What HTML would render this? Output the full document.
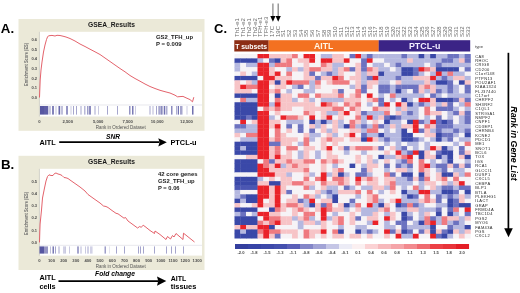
<!DOCTYPE html><html><head><meta charset="utf-8"><title>GSEA TFH figure</title>
<style>html,body{margin:0;padding:0;background:#fff;}svg{display:block;filter:blur(0.45px);}text{font-family:"Liberation Sans", sans-serif;}</style></head><body>
<svg width="520" height="293" viewBox="0 0 520 293">
<rect x="0" y="0" width="520" height="293" fill="#ffffff"/>
<text x="0.8" y="33.2" font-size="13.3" font-weight="bold" font-style="normal" fill="#000" text-anchor="start">A.</text>
<text x="1.0" y="169.4" font-size="13.3" font-weight="bold" font-style="normal" fill="#000" text-anchor="start">B.</text>
<text x="214.0" y="33.1" font-size="13" font-weight="bold" font-style="normal" fill="#000" text-anchor="start">C.</text>
<rect x="18.5" y="19" width="186" height="111.80000000000001" fill="#ebe9d8"/>
<rect x="39.5" y="31.8" width="162.5" height="84.7" fill="#ffffff"/>
<line x1="39.4" y1="31.8" x2="39.4" y2="116.5" stroke="#b0b0a8" stroke-width="0.5"/>
<text x="111.5" y="26.5" font-size="7" font-weight="bold" font-style="normal" fill="#1a1a1a" text-anchor="middle" textLength="47" lengthAdjust="spacingAndGlyphs">GSEA_Results</text>
<text x="34.3" y="40.8" font-size="4.2" font-weight="bold" font-style="normal" fill="#4a4a4a" text-anchor="middle" textLength="5.6" lengthAdjust="spacingAndGlyphs">0.6</text>
<text x="34.3" y="50.5" font-size="4.2" font-weight="bold" font-style="normal" fill="#4a4a4a" text-anchor="middle" textLength="5.6" lengthAdjust="spacingAndGlyphs">0.5</text>
<text x="34.3" y="60.2" font-size="4.2" font-weight="bold" font-style="normal" fill="#4a4a4a" text-anchor="middle" textLength="5.6" lengthAdjust="spacingAndGlyphs">0.4</text>
<text x="34.3" y="69.9" font-size="4.2" font-weight="bold" font-style="normal" fill="#4a4a4a" text-anchor="middle" textLength="5.6" lengthAdjust="spacingAndGlyphs">0.3</text>
<text x="34.3" y="79.6" font-size="4.2" font-weight="bold" font-style="normal" fill="#4a4a4a" text-anchor="middle" textLength="5.6" lengthAdjust="spacingAndGlyphs">0.2</text>
<text x="34.3" y="89.3" font-size="4.2" font-weight="bold" font-style="normal" fill="#4a4a4a" text-anchor="middle" textLength="5.6" lengthAdjust="spacingAndGlyphs">0.1</text>
<text x="34.3" y="99.0" font-size="4.2" font-weight="bold" font-style="normal" fill="#4a4a4a" text-anchor="middle" textLength="5.6" lengthAdjust="spacingAndGlyphs">0.0</text>
<text transform="translate(27.8,64.5) rotate(-90)" x="0" y="0" font-size="4.6" font-weight="bold" fill="#6a6a6a" text-anchor="middle" textLength="43" lengthAdjust="spacingAndGlyphs">Enrichment Score (ES)</text>
<text x="39.4" y="122.9" font-size="4.2" font-weight="bold" font-style="normal" fill="#4a4a4a" text-anchor="middle">0</text>
<text x="67.8" y="122.9" font-size="4.2" font-weight="bold" font-style="normal" fill="#4a4a4a" text-anchor="middle">2,500</text>
<text x="98.2" y="122.9" font-size="4.2" font-weight="bold" font-style="normal" fill="#4a4a4a" text-anchor="middle">5,000</text>
<text x="127.7" y="122.9" font-size="4.2" font-weight="bold" font-style="normal" fill="#4a4a4a" text-anchor="middle">7,500</text>
<text x="157.2" y="122.9" font-size="4.2" font-weight="bold" font-style="normal" fill="#4a4a4a" text-anchor="middle">10,000</text>
<text x="186.5" y="122.9" font-size="4.2" font-weight="bold" font-style="normal" fill="#4a4a4a" text-anchor="middle">12,500</text>
<text x="120.7" y="128.6" font-size="4.6" font-weight="normal" font-style="normal" fill="#555" text-anchor="middle" textLength="50" lengthAdjust="spacingAndGlyphs">Rank in Ordered Dataset</text>
<text x="156" y="38.9" font-size="5.6" font-weight="bold" font-style="normal" fill="#1a1a1a" text-anchor="start" textLength="37" lengthAdjust="spacingAndGlyphs">GS2_TFH_up</text>
<text x="156" y="46.0" font-size="5.6" font-weight="bold" font-style="normal" fill="#1a1a1a" text-anchor="start" textLength="25.5" lengthAdjust="spacingAndGlyphs">P = 0.009</text>
<line x1="39.5" y1="105" x2="202" y2="105" stroke="#d8d8e0" stroke-width="0.6"/>
<rect x="40" y="106" width="4.00" height="8.599999999999994" fill="#4e4e9c" fill-opacity="0.95"/>
<rect x="44" y="106" width="4.30" height="8.599999999999994" fill="#4e4e9c" fill-opacity="0.9"/>
<rect x="49.5" y="106" width="1.00" height="8.599999999999994" fill="#4e4e9c" fill-opacity="0.6"/>
<rect x="52" y="106" width="2.00" height="8.599999999999994" fill="#4e4e9c" fill-opacity="0.7"/>
<rect x="55.5" y="106" width="1.00" height="8.599999999999994" fill="#4e4e9c" fill-opacity="0.35"/>
<rect x="58.5" y="106" width="1.50" height="8.599999999999994" fill="#4e4e9c" fill-opacity="0.85"/>
<rect x="60.5" y="106" width="2.50" height="8.599999999999994" fill="#4e4e9c" fill-opacity="0.35"/>
<rect x="66" y="106" width="2.00" height="8.599999999999994" fill="#4e4e9c" fill-opacity="0.6"/>
<rect x="70.5" y="106" width="1.00" height="8.599999999999994" fill="#4e4e9c" fill-opacity="0.3"/>
<rect x="73" y="106" width="1.00" height="8.599999999999994" fill="#4e4e9c" fill-opacity="0.5"/>
<rect x="76" y="106" width="1.00" height="8.599999999999994" fill="#4e4e9c" fill-opacity="0.5"/>
<rect x="80.5" y="106" width="1.00" height="8.599999999999994" fill="#4e4e9c" fill-opacity="0.5"/>
<rect x="84" y="106" width="1.50" height="8.599999999999994" fill="#4e4e9c" fill-opacity="0.4"/>
<rect x="87" y="106" width="1.50" height="8.599999999999994" fill="#4e4e9c" fill-opacity="0.55"/>
<rect x="89" y="106" width="2.00" height="8.599999999999994" fill="#4e4e9c" fill-opacity="0.65"/>
<rect x="94.5" y="106" width="1.00" height="8.599999999999994" fill="#4e4e9c" fill-opacity="0.5"/>
<rect x="98" y="106" width="1.00" height="8.599999999999994" fill="#4e4e9c" fill-opacity="0.3"/>
<rect x="107" y="106" width="1.00" height="8.599999999999994" fill="#4e4e9c" fill-opacity="0.5"/>
<rect x="117" y="106" width="1.00" height="8.599999999999994" fill="#4e4e9c" fill-opacity="0.5"/>
<rect x="129" y="106" width="1.50" height="8.599999999999994" fill="#4e4e9c" fill-opacity="0.6"/>
<rect x="132" y="106" width="1.50" height="8.599999999999994" fill="#4e4e9c" fill-opacity="0.75"/>
<rect x="135" y="106" width="0.80" height="8.599999999999994" fill="#4e4e9c" fill-opacity="0.35"/>
<rect x="149.5" y="106" width="1.00" height="8.599999999999994" fill="#4e4e9c" fill-opacity="0.5"/>
<rect x="152.5" y="106" width="1.00" height="8.599999999999994" fill="#4e4e9c" fill-opacity="0.4"/>
<rect x="156" y="106" width="1.00" height="8.599999999999994" fill="#4e4e9c" fill-opacity="0.5"/>
<rect x="158.5" y="106" width="1.00" height="8.599999999999994" fill="#4e4e9c" fill-opacity="0.7"/>
<rect x="159.5" y="106" width="4.00" height="8.599999999999994" fill="#4e4e9c" fill-opacity="0.4"/>
<rect x="161.3" y="106" width="0.70" height="8.599999999999994" fill="#4e4e9c" fill-opacity="0.6"/>
<rect x="164" y="106" width="1.00" height="8.599999999999994" fill="#4e4e9c" fill-opacity="0.8"/>
<rect x="165.5" y="106" width="2.00" height="8.599999999999994" fill="#4e4e9c" fill-opacity="0.45"/>
<rect x="171" y="106" width="1.50" height="8.599999999999994" fill="#4e4e9c" fill-opacity="0.65"/>
<rect x="176" y="106" width="1.50" height="8.599999999999994" fill="#4e4e9c" fill-opacity="0.45"/>
<rect x="178" y="106" width="1.00" height="8.599999999999994" fill="#4e4e9c" fill-opacity="0.8"/>
<rect x="180" y="106" width="2.50" height="8.599999999999994" fill="#4e4e9c" fill-opacity="0.5"/>
<rect x="186.5" y="106" width="1.00" height="8.599999999999994" fill="#4e4e9c" fill-opacity="0.3"/>
<rect x="192" y="106" width="1.50" height="8.599999999999994" fill="#4e4e9c" fill-opacity="0.8"/>
<polyline points="39.5,97.5 39.8,90 40.2,80 41,70 42,62 43.5,52 45,45 46.5,39.5 47.5,37 48.5,35.8 52,35.4 55,36 57,35.3 60,35.5 63,36.2 66,37 70,38.5 75,41 80,44 85,46.5 90,49.2 95,51.8 100,54.5 105,58 110,61.5 115,65 120,68.5 125,71.8 130,75.5 135,78.5 140,81.2 145,84 150,86.5 155,88.5 160,90.3 165,91.7 170,93 175,95.2 177.5,96.8 180,96.6 183,96.4 186,97.8 190,99.6 192.5,101.8 193.8,97.2" fill="none" stroke="#e0505a" stroke-width="0.9" stroke-linejoin="round"/>
<rect x="18.5" y="155.8" width="186" height="114.19999999999999" fill="#ebe9d8"/>
<rect x="39.5" y="168.8" width="162.5" height="86.79999999999998" fill="#ffffff"/>
<line x1="39.4" y1="168.8" x2="39.4" y2="255.6" stroke="#b0b0a8" stroke-width="0.5"/>
<text x="111.5" y="163.8" font-size="7" font-weight="bold" font-style="normal" fill="#1a1a1a" text-anchor="middle" textLength="47" lengthAdjust="spacingAndGlyphs">GSEA_Results</text>
<text x="34.3" y="182.5" font-size="4.2" font-weight="bold" font-style="normal" fill="#4a4a4a" text-anchor="middle" textLength="5.6" lengthAdjust="spacingAndGlyphs">0.5</text>
<text x="34.3" y="194.7" font-size="4.2" font-weight="bold" font-style="normal" fill="#4a4a4a" text-anchor="middle" textLength="5.6" lengthAdjust="spacingAndGlyphs">0.4</text>
<text x="34.3" y="207.0" font-size="4.2" font-weight="bold" font-style="normal" fill="#4a4a4a" text-anchor="middle" textLength="5.6" lengthAdjust="spacingAndGlyphs">0.3</text>
<text x="34.3" y="219.3" font-size="4.2" font-weight="bold" font-style="normal" fill="#4a4a4a" text-anchor="middle" textLength="5.6" lengthAdjust="spacingAndGlyphs">0.2</text>
<text x="34.3" y="231.6" font-size="4.2" font-weight="bold" font-style="normal" fill="#4a4a4a" text-anchor="middle" textLength="5.6" lengthAdjust="spacingAndGlyphs">0.1</text>
<text x="34.3" y="243.9" font-size="4.2" font-weight="bold" font-style="normal" fill="#4a4a4a" text-anchor="middle" textLength="5.6" lengthAdjust="spacingAndGlyphs">0.0</text>
<text transform="translate(27.8,213.5) rotate(-90)" x="0" y="0" font-size="4.6" font-weight="bold" fill="#6a6a6a" text-anchor="middle" textLength="43" lengthAdjust="spacingAndGlyphs">Enrichment Score (ES)</text>
<text x="39.4" y="262.3" font-size="4.2" font-weight="bold" font-style="normal" fill="#4a4a4a" text-anchor="middle">0</text>
<text x="51.54" y="262.3" font-size="4.2" font-weight="bold" font-style="normal" fill="#4a4a4a" text-anchor="middle">100</text>
<text x="63.68" y="262.3" font-size="4.2" font-weight="bold" font-style="normal" fill="#4a4a4a" text-anchor="middle">200</text>
<text x="75.82" y="262.3" font-size="4.2" font-weight="bold" font-style="normal" fill="#4a4a4a" text-anchor="middle">300</text>
<text x="87.96" y="262.3" font-size="4.2" font-weight="bold" font-style="normal" fill="#4a4a4a" text-anchor="middle">400</text>
<text x="100.1" y="262.3" font-size="4.2" font-weight="bold" font-style="normal" fill="#4a4a4a" text-anchor="middle">500</text>
<text x="112.24" y="262.3" font-size="4.2" font-weight="bold" font-style="normal" fill="#4a4a4a" text-anchor="middle">600</text>
<text x="124.38" y="262.3" font-size="4.2" font-weight="bold" font-style="normal" fill="#4a4a4a" text-anchor="middle">700</text>
<text x="136.52" y="262.3" font-size="4.2" font-weight="bold" font-style="normal" fill="#4a4a4a" text-anchor="middle">800</text>
<text x="148.66" y="262.3" font-size="4.2" font-weight="bold" font-style="normal" fill="#4a4a4a" text-anchor="middle">900</text>
<text x="160.8" y="262.3" font-size="4.2" font-weight="bold" font-style="normal" fill="#4a4a4a" text-anchor="middle">1000</text>
<text x="172.94" y="262.3" font-size="4.2" font-weight="bold" font-style="normal" fill="#4a4a4a" text-anchor="middle">1100</text>
<text x="185.08" y="262.3" font-size="4.2" font-weight="bold" font-style="normal" fill="#4a4a4a" text-anchor="middle">1200</text>
<text x="197.22" y="262.3" font-size="4.2" font-weight="bold" font-style="normal" fill="#4a4a4a" text-anchor="middle">1300</text>
<text x="120.7" y="268.40000000000003" font-size="4.6" font-weight="normal" font-style="normal" fill="#555" text-anchor="middle" textLength="50" lengthAdjust="spacingAndGlyphs">Rank in Ordered Dataset</text>
<text x="158" y="176.1" font-size="5.6" font-weight="bold" font-style="normal" fill="#1a1a1a" text-anchor="start" textLength="39.5" lengthAdjust="spacingAndGlyphs">42 core genes</text>
<text x="158" y="183.2" font-size="5.6" font-weight="bold" font-style="normal" fill="#1a1a1a" text-anchor="start" textLength="36.6" lengthAdjust="spacingAndGlyphs">GS2_TFH_up</text>
<text x="158" y="190.29999999999998" font-size="5.6" font-weight="bold" font-style="normal" fill="#1a1a1a" text-anchor="start" textLength="21.6" lengthAdjust="spacingAndGlyphs">P = 0.06</text>
<line x1="39.5" y1="245.3" x2="202" y2="245.3" stroke="#d8d8e0" stroke-width="0.6"/>
<rect x="39.5" y="246.4" width="4.50" height="7.199999999999989" fill="#4e4e9c" fill-opacity="0.95"/>
<rect x="44" y="246.4" width="4.00" height="7.199999999999989" fill="#4e4e9c" fill-opacity="0.6"/>
<rect x="50" y="246.4" width="1.00" height="7.199999999999989" fill="#4e4e9c" fill-opacity="0.35"/>
<rect x="52.5" y="246.4" width="1.50" height="7.199999999999989" fill="#4e4e9c" fill-opacity="0.75"/>
<rect x="55" y="246.4" width="1.00" height="7.199999999999989" fill="#4e4e9c" fill-opacity="0.5"/>
<rect x="58.5" y="246.4" width="1.00" height="7.199999999999989" fill="#4e4e9c" fill-opacity="0.5"/>
<rect x="63.5" y="246.4" width="1.00" height="7.199999999999989" fill="#4e4e9c" fill-opacity="0.5"/>
<rect x="65" y="246.4" width="1.00" height="7.199999999999989" fill="#4e4e9c" fill-opacity="0.3"/>
<rect x="69" y="246.4" width="1.00" height="7.199999999999989" fill="#4e4e9c" fill-opacity="0.3"/>
<rect x="77" y="246.4" width="2.00" height="7.199999999999989" fill="#4e4e9c" fill-opacity="0.5"/>
<rect x="80.5" y="246.4" width="1.00" height="7.199999999999989" fill="#4e4e9c" fill-opacity="0.4"/>
<rect x="85" y="246.4" width="1.00" height="7.199999999999989" fill="#4e4e9c" fill-opacity="0.3"/>
<rect x="87.5" y="246.4" width="1.00" height="7.199999999999989" fill="#4e4e9c" fill-opacity="0.5"/>
<rect x="90.5" y="246.4" width="1.00" height="7.199999999999989" fill="#4e4e9c" fill-opacity="0.5"/>
<rect x="92" y="246.4" width="0.50" height="7.199999999999989" fill="#4e4e9c" fill-opacity="0.3"/>
<rect x="104.5" y="246.4" width="1.50" height="7.199999999999989" fill="#4e4e9c" fill-opacity="0.55"/>
<rect x="109.5" y="246.4" width="0.50" height="7.199999999999989" fill="#4e4e9c" fill-opacity="0.3"/>
<rect x="116" y="246.4" width="1.00" height="7.199999999999989" fill="#4e4e9c" fill-opacity="0.5"/>
<rect x="124" y="246.4" width="1.00" height="7.199999999999989" fill="#4e4e9c" fill-opacity="0.5"/>
<rect x="138" y="246.4" width="1.00" height="7.199999999999989" fill="#4e4e9c" fill-opacity="0.5"/>
<rect x="140" y="246.4" width="1.00" height="7.199999999999989" fill="#4e4e9c" fill-opacity="0.5"/>
<rect x="143" y="246.4" width="1.00" height="7.199999999999989" fill="#4e4e9c" fill-opacity="0.5"/>
<rect x="154" y="246.4" width="1.00" height="7.199999999999989" fill="#4e4e9c" fill-opacity="0.5"/>
<rect x="166" y="246.4" width="1.00" height="7.199999999999989" fill="#4e4e9c" fill-opacity="0.5"/>
<rect x="171" y="246.4" width="1.00" height="7.199999999999989" fill="#4e4e9c" fill-opacity="0.5"/>
<rect x="175" y="246.4" width="1.00" height="7.199999999999989" fill="#4e4e9c" fill-opacity="0.5"/>
<rect x="183" y="246.4" width="1.00" height="7.199999999999989" fill="#4e4e9c" fill-opacity="0.5"/>
<polyline points="39.5,242.4 39.8,232 40.1,224 40.8,217 41.5,210 42.5,198 44.5,188 46,181 47.5,176.5 49,174.8 51,175.5 53,175.5 54.5,173.5 56,173 58,174 60,174.5 62,175.5 64,177.5 66,177.8 68,178.5 70,180 75,183.5 80,187 85,191 88,194.5 95,199.5 100,203 103.5,206 106,206.5 108,207.5 112,210.5 116,213.3 118,213.8 121,216 124,218.2 125.5,217.5 128,221 137.6,228 139.7,226.5 141.1,227.3 143.2,225.3 145,226.5 150,230.5 154.5,233.5 155,231 160,234.5 166,239.5 167.5,236.5 170.5,239 172.5,235.5 174,237 176,233.5 183,239.5 183.5,233.2 194.5,242" fill="none" stroke="#e0505a" stroke-width="0.9" stroke-linejoin="round"/>
<text x="39.4" y="145.3" font-size="7.4" font-weight="bold" font-style="normal" fill="#000" text-anchor="start" textLength="16.2" lengthAdjust="spacingAndGlyphs">AITL</text>
<text x="106" y="139.0" font-size="6.5" font-weight="bold" font-style="italic" fill="#000" text-anchor="start" textLength="14" lengthAdjust="spacingAndGlyphs">SNR</text>
<line x1="59.2" y1="142.2" x2="159.3" y2="142.2" stroke="#000" stroke-width="1.75"/>
<polygon points="158.3,138.3 166.8,142.2 158.3,146.5 159.5,142.2" fill="#000"/>
<text x="170.4" y="145.1" font-size="7.4" font-weight="bold" font-style="normal" fill="#000" text-anchor="start" textLength="26.2" lengthAdjust="spacingAndGlyphs">PTCL-u</text>
<text x="39.4" y="279.6" font-size="7.4" font-weight="bold" font-style="normal" fill="#000" text-anchor="start" textLength="16.2" lengthAdjust="spacingAndGlyphs">AITL</text>
<text x="39.4" y="289.0" font-size="7.4" font-weight="bold" font-style="normal" fill="#000" text-anchor="start" textLength="16.2" lengthAdjust="spacingAndGlyphs">cells</text>
<text x="95.0" y="276.3" font-size="6.8" font-weight="bold" font-style="italic" fill="#000" text-anchor="start" textLength="40" lengthAdjust="spacingAndGlyphs">Fold change</text>
<line x1="58.5" y1="281.0" x2="158.0" y2="281.0" stroke="#000" stroke-width="1.75"/>
<polygon points="157.0,276.6 166.3,281.0 157.0,285.8 158.2,281.0" fill="#000"/>
<text x="170.8" y="280.5" font-size="7.4" font-weight="bold" font-style="normal" fill="#000" text-anchor="start" textLength="15.5" lengthAdjust="spacingAndGlyphs">AITL</text>
<text x="170.8" y="288.5" font-size="7.4" font-weight="bold" font-style="normal" fill="#000" text-anchor="start" textLength="25.5" lengthAdjust="spacingAndGlyphs">tissues</text>
<line x1="272.9" y1="3.5" x2="272.9" y2="17" stroke="#8a8a8a" stroke-width="1.3"/>
<polygon points="270.29999999999995,16.0 275.5,16.0 272.9,21.8" fill="#000"/>
<line x1="278.2" y1="3.5" x2="278.2" y2="17" stroke="#8a8a8a" stroke-width="1.3"/>
<polygon points="275.59999999999997,16.0 280.8,16.0 278.2,21.8" fill="#000"/>
<text transform="translate(239.38,37.0) rotate(-90) scale(1,0.85)" x="0" y="0" font-size="6.0" fill="#6a6a6a">Th1-e1</text>
<text transform="translate(245.13,37.0) rotate(-90) scale(1,0.85)" x="0" y="0" font-size="6.0" fill="#6a6a6a">Th1-e2</text>
<text transform="translate(250.88,37.0) rotate(-90) scale(1,0.85)" x="0" y="0" font-size="6.0" fill="#6a6a6a">Th2-e1</text>
<text transform="translate(256.64,37.0) rotate(-90) scale(1,0.85)" x="0" y="0" font-size="6.0" fill="#6a6a6a">Th2-e2</text>
<text transform="translate(262.39,37.0) rotate(-90) scale(1,0.85)" x="0" y="0" font-size="6.0" fill="#6a6a6a">TFH-e1</text>
<text transform="translate(268.15,37.0) rotate(-90) scale(1,0.85)" x="0" y="0" font-size="6.0" fill="#6a6a6a">TFH-e3</text>
<text transform="translate(273.90,37.0) rotate(-90) scale(1,0.85)" x="0" y="0" font-size="6.0" fill="#6a6a6a">17C</text>
<text transform="translate(279.65,37.0) rotate(-90) scale(1,0.85)" x="0" y="0" font-size="6.0" fill="#6a6a6a">19C</text>
<text transform="translate(285.41,37.0) rotate(-90) scale(1,0.85)" x="0" y="0" font-size="6.0" fill="#6a6a6a">S1</text>
<text transform="translate(291.16,37.0) rotate(-90) scale(1,0.85)" x="0" y="0" font-size="6.0" fill="#6a6a6a">S2</text>
<text transform="translate(296.92,37.0) rotate(-90) scale(1,0.85)" x="0" y="0" font-size="6.0" fill="#6a6a6a">S3</text>
<text transform="translate(302.67,37.0) rotate(-90) scale(1,0.85)" x="0" y="0" font-size="6.0" fill="#6a6a6a">S4</text>
<text transform="translate(308.43,37.0) rotate(-90) scale(1,0.85)" x="0" y="0" font-size="6.0" fill="#6a6a6a">S5</text>
<text transform="translate(314.18,37.0) rotate(-90) scale(1,0.85)" x="0" y="0" font-size="6.0" fill="#6a6a6a">S6</text>
<text transform="translate(319.93,37.0) rotate(-90) scale(1,0.85)" x="0" y="0" font-size="6.0" fill="#6a6a6a">S7</text>
<text transform="translate(325.69,37.0) rotate(-90) scale(1,0.85)" x="0" y="0" font-size="6.0" fill="#6a6a6a">S8</text>
<text transform="translate(331.44,37.0) rotate(-90) scale(1,0.85)" x="0" y="0" font-size="6.0" fill="#6a6a6a">S9</text>
<text transform="translate(337.19,37.0) rotate(-90) scale(1,0.85)" x="0" y="0" font-size="6.0" fill="#6a6a6a">S10</text>
<text transform="translate(342.95,37.0) rotate(-90) scale(1,0.85)" x="0" y="0" font-size="6.0" fill="#6a6a6a">S11</text>
<text transform="translate(348.70,37.0) rotate(-90) scale(1,0.85)" x="0" y="0" font-size="6.0" fill="#6a6a6a">S12</text>
<text transform="translate(354.46,37.0) rotate(-90) scale(1,0.85)" x="0" y="0" font-size="6.0" fill="#6a6a6a">S13</text>
<text transform="translate(360.21,37.0) rotate(-90) scale(1,0.85)" x="0" y="0" font-size="6.0" fill="#6a6a6a">S14</text>
<text transform="translate(365.97,37.0) rotate(-90) scale(1,0.85)" x="0" y="0" font-size="6.0" fill="#6a6a6a">S15</text>
<text transform="translate(371.72,37.0) rotate(-90) scale(1,0.85)" x="0" y="0" font-size="6.0" fill="#6a6a6a">S16</text>
<text transform="translate(377.47,37.0) rotate(-90) scale(1,0.85)" x="0" y="0" font-size="6.0" fill="#6a6a6a">S17</text>
<text transform="translate(383.23,37.0) rotate(-90) scale(1,0.85)" x="0" y="0" font-size="6.0" fill="#6a6a6a">S18</text>
<text transform="translate(388.98,37.0) rotate(-90) scale(1,0.85)" x="0" y="0" font-size="6.0" fill="#6a6a6a">S19</text>
<text transform="translate(394.74,37.0) rotate(-90) scale(1,0.85)" x="0" y="0" font-size="6.0" fill="#6a6a6a">S20</text>
<text transform="translate(400.49,37.0) rotate(-90) scale(1,0.85)" x="0" y="0" font-size="6.0" fill="#6a6a6a">S21</text>
<text transform="translate(406.24,37.0) rotate(-90) scale(1,0.85)" x="0" y="0" font-size="6.0" fill="#6a6a6a">S22</text>
<text transform="translate(412.00,37.0) rotate(-90) scale(1,0.85)" x="0" y="0" font-size="6.0" fill="#6a6a6a">S23</text>
<text transform="translate(417.75,37.0) rotate(-90) scale(1,0.85)" x="0" y="0" font-size="6.0" fill="#6a6a6a">S24</text>
<text transform="translate(423.50,37.0) rotate(-90) scale(1,0.85)" x="0" y="0" font-size="6.0" fill="#6a6a6a">S25</text>
<text transform="translate(429.26,37.0) rotate(-90) scale(1,0.85)" x="0" y="0" font-size="6.0" fill="#6a6a6a">S26</text>
<text transform="translate(435.01,37.0) rotate(-90) scale(1,0.85)" x="0" y="0" font-size="6.0" fill="#6a6a6a">S27</text>
<text transform="translate(440.77,37.0) rotate(-90) scale(1,0.85)" x="0" y="0" font-size="6.0" fill="#6a6a6a">S28</text>
<text transform="translate(446.52,37.0) rotate(-90) scale(1,0.85)" x="0" y="0" font-size="6.0" fill="#6a6a6a">S29</text>
<text transform="translate(452.27,37.0) rotate(-90) scale(1,0.85)" x="0" y="0" font-size="6.0" fill="#6a6a6a">S30</text>
<text transform="translate(458.03,37.0) rotate(-90) scale(1,0.85)" x="0" y="0" font-size="6.0" fill="#6a6a6a">S31</text>
<text transform="translate(463.78,37.0) rotate(-90) scale(1,0.85)" x="0" y="0" font-size="6.0" fill="#6a6a6a">S32</text>
<text transform="translate(469.54,37.0) rotate(-90) scale(1,0.85)" x="0" y="0" font-size="6.0" fill="#6a6a6a">S33</text>
<rect x="234.3" y="40.2" width="34.4" height="11.3" fill="#8c2d14"/>
<rect x="268.6" y="40.2" width="110.2" height="11.3" fill="#f37121"/>
<rect x="378.7" y="40.2" width="91.5" height="11.3" fill="#3b2486"/>
<text x="235.2" y="48.5" font-size="7" font-weight="bold" font-style="normal" fill="#fff" text-anchor="start" textLength="32" lengthAdjust="spacingAndGlyphs">T subsets</text>
<text x="323.6" y="49.4" font-size="8.7" font-weight="bold" font-style="normal" fill="#fff6e8" text-anchor="middle" textLength="19.2" lengthAdjust="spacingAndGlyphs">AITL</text>
<text x="424.7" y="49.4" font-size="8.7" font-weight="bold" font-style="normal" fill="#f2eeff" text-anchor="middle" textLength="31.5" lengthAdjust="spacingAndGlyphs">PTCL-u</text>
<text x="475.0" y="47.8" font-size="4.3" font-weight="normal" font-style="normal" fill="#444" text-anchor="start" textLength="8" lengthAdjust="spacingAndGlyphs">type</text>
<rect x="234.50" y="54.00" width="6.10" height="4.73" fill="#f6f3f6"/>
<rect x="240.25" y="54.00" width="6.10" height="4.73" fill="#f6f3f6"/>
<rect x="246.01" y="54.00" width="6.10" height="4.73" fill="#f6f3f6"/>
<rect x="251.76" y="54.00" width="6.10" height="4.73" fill="#f6f3f6"/>
<rect x="257.52" y="54.00" width="6.10" height="4.73" fill="#ea2229"/>
<rect x="263.27" y="54.00" width="6.10" height="4.73" fill="#ea2229"/>
<rect x="269.02" y="54.00" width="6.10" height="4.73" fill="#f7c4c7"/>
<rect x="274.78" y="54.00" width="6.10" height="4.73" fill="#f7c4c7"/>
<rect x="280.53" y="54.00" width="6.10" height="4.73" fill="#f7c4c7"/>
<rect x="286.29" y="54.00" width="6.10" height="4.73" fill="#f7c4c7"/>
<rect x="292.04" y="54.00" width="6.10" height="4.73" fill="#ef7a80"/>
<rect x="297.79" y="54.00" width="6.10" height="4.73" fill="#f6f3f6"/>
<rect x="303.55" y="54.00" width="6.10" height="4.73" fill="#ea2229"/>
<rect x="309.30" y="54.00" width="6.10" height="4.73" fill="#ea2229"/>
<rect x="315.06" y="54.00" width="6.10" height="4.73" fill="#f6f3f6"/>
<rect x="320.81" y="54.00" width="6.10" height="4.73" fill="#b5b8e0"/>
<rect x="326.56" y="54.00" width="6.10" height="4.73" fill="#b5b8e0"/>
<rect x="332.32" y="54.00" width="6.10" height="4.73" fill="#f7c4c7"/>
<rect x="338.07" y="54.00" width="6.10" height="4.73" fill="#f7c4c7"/>
<rect x="343.83" y="54.00" width="6.10" height="4.73" fill="#f6f3f6"/>
<rect x="349.58" y="54.00" width="6.10" height="4.73" fill="#6c72c0"/>
<rect x="355.33" y="54.00" width="6.10" height="4.73" fill="#ea2229"/>
<rect x="361.09" y="54.00" width="6.10" height="4.73" fill="#b5b8e0"/>
<rect x="366.84" y="54.00" width="6.10" height="4.73" fill="#6c72c0"/>
<rect x="372.60" y="54.00" width="6.10" height="4.73" fill="#b5b8e0"/>
<rect x="378.35" y="54.00" width="6.10" height="4.73" fill="#b5b8e0"/>
<rect x="384.10" y="54.00" width="6.10" height="4.73" fill="#b5b8e0"/>
<rect x="389.86" y="54.00" width="6.10" height="4.73" fill="#b5b8e0"/>
<rect x="395.61" y="54.00" width="6.10" height="4.73" fill="#b5b8e0"/>
<rect x="401.37" y="54.00" width="6.10" height="4.73" fill="#6c72c0"/>
<rect x="407.12" y="54.00" width="6.10" height="4.73" fill="#b5b8e0"/>
<rect x="412.87" y="54.00" width="6.10" height="4.73" fill="#b5b8e0"/>
<rect x="418.63" y="54.00" width="6.10" height="4.73" fill="#3a48a8"/>
<rect x="424.38" y="54.00" width="6.10" height="4.73" fill="#b5b8e0"/>
<rect x="430.14" y="54.00" width="6.10" height="4.73" fill="#3a48a8"/>
<rect x="435.89" y="54.00" width="6.10" height="4.73" fill="#b5b8e0"/>
<rect x="441.64" y="54.00" width="6.10" height="4.73" fill="#b5b8e0"/>
<rect x="447.40" y="54.00" width="6.10" height="4.73" fill="#6c72c0"/>
<rect x="453.15" y="54.00" width="6.10" height="4.73" fill="#6c72c0"/>
<rect x="458.91" y="54.00" width="6.10" height="4.73" fill="#b5b8e0"/>
<rect x="464.66" y="54.00" width="6.10" height="4.73" fill="#6c72c0"/>
<rect x="234.50" y="58.38" width="6.10" height="4.73" fill="#3a48a8"/>
<rect x="240.25" y="58.38" width="6.10" height="4.73" fill="#3a48a8"/>
<rect x="246.01" y="58.38" width="6.10" height="4.73" fill="#3a48a8"/>
<rect x="251.76" y="58.38" width="6.10" height="4.73" fill="#3a48a8"/>
<rect x="257.52" y="58.38" width="6.10" height="4.73" fill="#b5b8e0"/>
<rect x="263.27" y="58.38" width="6.10" height="4.73" fill="#f6f3f6"/>
<rect x="269.02" y="58.38" width="6.10" height="4.73" fill="#6c72c0"/>
<rect x="274.78" y="58.38" width="6.10" height="4.73" fill="#3a48a8"/>
<rect x="280.53" y="58.38" width="6.10" height="4.73" fill="#f7c4c7"/>
<rect x="286.29" y="58.38" width="6.10" height="4.73" fill="#ef7a80"/>
<rect x="292.04" y="58.38" width="6.10" height="4.73" fill="#f6f3f6"/>
<rect x="297.79" y="58.38" width="6.10" height="4.73" fill="#f7c4c7"/>
<rect x="303.55" y="58.38" width="6.10" height="4.73" fill="#f7c4c7"/>
<rect x="309.30" y="58.38" width="6.10" height="4.73" fill="#ea2229"/>
<rect x="315.06" y="58.38" width="6.10" height="4.73" fill="#f6f3f6"/>
<rect x="320.81" y="58.38" width="6.10" height="4.73" fill="#ea2229"/>
<rect x="326.56" y="58.38" width="6.10" height="4.73" fill="#ea2229"/>
<rect x="332.32" y="58.38" width="6.10" height="4.73" fill="#f7c4c7"/>
<rect x="338.07" y="58.38" width="6.10" height="4.73" fill="#f7c4c7"/>
<rect x="343.83" y="58.38" width="6.10" height="4.73" fill="#ea2229"/>
<rect x="349.58" y="58.38" width="6.10" height="4.73" fill="#f6f3f6"/>
<rect x="355.33" y="58.38" width="6.10" height="4.73" fill="#f6f3f6"/>
<rect x="361.09" y="58.38" width="6.10" height="4.73" fill="#6c72c0"/>
<rect x="366.84" y="58.38" width="6.10" height="4.73" fill="#ea2229"/>
<rect x="372.60" y="58.38" width="6.10" height="4.73" fill="#f6f3f6"/>
<rect x="378.35" y="58.38" width="6.10" height="4.73" fill="#f6f3f6"/>
<rect x="384.10" y="58.38" width="6.10" height="4.73" fill="#b5b8e0"/>
<rect x="389.86" y="58.38" width="6.10" height="4.73" fill="#b5b8e0"/>
<rect x="395.61" y="58.38" width="6.10" height="4.73" fill="#b5b8e0"/>
<rect x="401.37" y="58.38" width="6.10" height="4.73" fill="#b5b8e0"/>
<rect x="407.12" y="58.38" width="6.10" height="4.73" fill="#f7c4c7"/>
<rect x="412.87" y="58.38" width="6.10" height="4.73" fill="#b5b8e0"/>
<rect x="418.63" y="58.38" width="6.10" height="4.73" fill="#b5b8e0"/>
<rect x="424.38" y="58.38" width="6.10" height="4.73" fill="#b5b8e0"/>
<rect x="430.14" y="58.38" width="6.10" height="4.73" fill="#b5b8e0"/>
<rect x="435.89" y="58.38" width="6.10" height="4.73" fill="#b5b8e0"/>
<rect x="441.64" y="58.38" width="6.10" height="4.73" fill="#6c72c0"/>
<rect x="447.40" y="58.38" width="6.10" height="4.73" fill="#6c72c0"/>
<rect x="453.15" y="58.38" width="6.10" height="4.73" fill="#b5b8e0"/>
<rect x="458.91" y="58.38" width="6.10" height="4.73" fill="#f7c4c7"/>
<rect x="464.66" y="58.38" width="6.10" height="4.73" fill="#6c72c0"/>
<rect x="234.50" y="62.77" width="6.10" height="4.73" fill="#b5b8e0"/>
<rect x="240.25" y="62.77" width="6.10" height="4.73" fill="#f6f3f6"/>
<rect x="246.01" y="62.77" width="6.10" height="4.73" fill="#b5b8e0"/>
<rect x="251.76" y="62.77" width="6.10" height="4.73" fill="#b5b8e0"/>
<rect x="257.52" y="62.77" width="6.10" height="4.73" fill="#ea2229"/>
<rect x="263.27" y="62.77" width="6.10" height="4.73" fill="#ea2229"/>
<rect x="269.02" y="62.77" width="6.10" height="4.73" fill="#b5b8e0"/>
<rect x="274.78" y="62.77" width="6.10" height="4.73" fill="#ef7a80"/>
<rect x="280.53" y="62.77" width="6.10" height="4.73" fill="#ef7a80"/>
<rect x="286.29" y="62.77" width="6.10" height="4.73" fill="#ef7a80"/>
<rect x="292.04" y="62.77" width="6.10" height="4.73" fill="#f6f3f6"/>
<rect x="297.79" y="62.77" width="6.10" height="4.73" fill="#f6f3f6"/>
<rect x="303.55" y="62.77" width="6.10" height="4.73" fill="#f7c4c7"/>
<rect x="309.30" y="62.77" width="6.10" height="4.73" fill="#f6f3f6"/>
<rect x="315.06" y="62.77" width="6.10" height="4.73" fill="#f6f3f6"/>
<rect x="320.81" y="62.77" width="6.10" height="4.73" fill="#ef7a80"/>
<rect x="326.56" y="62.77" width="6.10" height="4.73" fill="#f7c4c7"/>
<rect x="332.32" y="62.77" width="6.10" height="4.73" fill="#b5b8e0"/>
<rect x="338.07" y="62.77" width="6.10" height="4.73" fill="#b5b8e0"/>
<rect x="343.83" y="62.77" width="6.10" height="4.73" fill="#f6f3f6"/>
<rect x="349.58" y="62.77" width="6.10" height="4.73" fill="#f6f3f6"/>
<rect x="355.33" y="62.77" width="6.10" height="4.73" fill="#f7c4c7"/>
<rect x="361.09" y="62.77" width="6.10" height="4.73" fill="#6c72c0"/>
<rect x="366.84" y="62.77" width="6.10" height="4.73" fill="#f6f3f6"/>
<rect x="372.60" y="62.77" width="6.10" height="4.73" fill="#b5b8e0"/>
<rect x="378.35" y="62.77" width="6.10" height="4.73" fill="#b5b8e0"/>
<rect x="384.10" y="62.77" width="6.10" height="4.73" fill="#f6f3f6"/>
<rect x="389.86" y="62.77" width="6.10" height="4.73" fill="#b5b8e0"/>
<rect x="395.61" y="62.77" width="6.10" height="4.73" fill="#6c72c0"/>
<rect x="401.37" y="62.77" width="6.10" height="4.73" fill="#b5b8e0"/>
<rect x="407.12" y="62.77" width="6.10" height="4.73" fill="#b5b8e0"/>
<rect x="412.87" y="62.77" width="6.10" height="4.73" fill="#b5b8e0"/>
<rect x="418.63" y="62.77" width="6.10" height="4.73" fill="#b5b8e0"/>
<rect x="424.38" y="62.77" width="6.10" height="4.73" fill="#f6f3f6"/>
<rect x="430.14" y="62.77" width="6.10" height="4.73" fill="#b5b8e0"/>
<rect x="435.89" y="62.77" width="6.10" height="4.73" fill="#6c72c0"/>
<rect x="441.64" y="62.77" width="6.10" height="4.73" fill="#b5b8e0"/>
<rect x="447.40" y="62.77" width="6.10" height="4.73" fill="#b5b8e0"/>
<rect x="453.15" y="62.77" width="6.10" height="4.73" fill="#b5b8e0"/>
<rect x="458.91" y="62.77" width="6.10" height="4.73" fill="#b5b8e0"/>
<rect x="464.66" y="62.77" width="6.10" height="4.73" fill="#b5b8e0"/>
<rect x="234.50" y="67.16" width="6.10" height="4.73" fill="#b5b8e0"/>
<rect x="240.25" y="67.16" width="6.10" height="4.73" fill="#f6f3f6"/>
<rect x="246.01" y="67.16" width="6.10" height="4.73" fill="#f6f3f6"/>
<rect x="251.76" y="67.16" width="6.10" height="4.73" fill="#f6f3f6"/>
<rect x="257.52" y="67.16" width="6.10" height="4.73" fill="#ea2229"/>
<rect x="263.27" y="67.16" width="6.10" height="4.73" fill="#ea2229"/>
<rect x="269.02" y="67.16" width="6.10" height="4.73" fill="#f7c4c7"/>
<rect x="274.78" y="67.16" width="6.10" height="4.73" fill="#f6f3f6"/>
<rect x="280.53" y="67.16" width="6.10" height="4.73" fill="#f6f3f6"/>
<rect x="286.29" y="67.16" width="6.10" height="4.73" fill="#b5b8e0"/>
<rect x="292.04" y="67.16" width="6.10" height="4.73" fill="#f7c4c7"/>
<rect x="297.79" y="67.16" width="6.10" height="4.73" fill="#b5b8e0"/>
<rect x="303.55" y="67.16" width="6.10" height="4.73" fill="#f7c4c7"/>
<rect x="309.30" y="67.16" width="6.10" height="4.73" fill="#ef7a80"/>
<rect x="315.06" y="67.16" width="6.10" height="4.73" fill="#ef7a80"/>
<rect x="320.81" y="67.16" width="6.10" height="4.73" fill="#f7c4c7"/>
<rect x="326.56" y="67.16" width="6.10" height="4.73" fill="#f7c4c7"/>
<rect x="332.32" y="67.16" width="6.10" height="4.73" fill="#b5b8e0"/>
<rect x="338.07" y="67.16" width="6.10" height="4.73" fill="#f7c4c7"/>
<rect x="343.83" y="67.16" width="6.10" height="4.73" fill="#ef7a80"/>
<rect x="349.58" y="67.16" width="6.10" height="4.73" fill="#6c72c0"/>
<rect x="355.33" y="67.16" width="6.10" height="4.73" fill="#f7c4c7"/>
<rect x="361.09" y="67.16" width="6.10" height="4.73" fill="#6c72c0"/>
<rect x="366.84" y="67.16" width="6.10" height="4.73" fill="#ef7a80"/>
<rect x="372.60" y="67.16" width="6.10" height="4.73" fill="#f7c4c7"/>
<rect x="378.35" y="67.16" width="6.10" height="4.73" fill="#b5b8e0"/>
<rect x="384.10" y="67.16" width="6.10" height="4.73" fill="#b5b8e0"/>
<rect x="389.86" y="67.16" width="6.10" height="4.73" fill="#f6f3f6"/>
<rect x="395.61" y="67.16" width="6.10" height="4.73" fill="#b5b8e0"/>
<rect x="401.37" y="67.16" width="6.10" height="4.73" fill="#3a48a8"/>
<rect x="407.12" y="67.16" width="6.10" height="4.73" fill="#3a48a8"/>
<rect x="412.87" y="67.16" width="6.10" height="4.73" fill="#6c72c0"/>
<rect x="418.63" y="67.16" width="6.10" height="4.73" fill="#ea2229"/>
<rect x="424.38" y="67.16" width="6.10" height="4.73" fill="#ef7a80"/>
<rect x="430.14" y="67.16" width="6.10" height="4.73" fill="#f7c4c7"/>
<rect x="435.89" y="67.16" width="6.10" height="4.73" fill="#3a48a8"/>
<rect x="441.64" y="67.16" width="6.10" height="4.73" fill="#3a48a8"/>
<rect x="447.40" y="67.16" width="6.10" height="4.73" fill="#3a48a8"/>
<rect x="453.15" y="67.16" width="6.10" height="4.73" fill="#3a48a8"/>
<rect x="458.91" y="67.16" width="6.10" height="4.73" fill="#f6f3f6"/>
<rect x="464.66" y="67.16" width="6.10" height="4.73" fill="#6c72c0"/>
<rect x="234.50" y="71.54" width="6.10" height="4.73" fill="#f6f3f6"/>
<rect x="240.25" y="71.54" width="6.10" height="4.73" fill="#f7c4c7"/>
<rect x="246.01" y="71.54" width="6.10" height="4.73" fill="#f6f3f6"/>
<rect x="251.76" y="71.54" width="6.10" height="4.73" fill="#b5b8e0"/>
<rect x="257.52" y="71.54" width="6.10" height="4.73" fill="#ea2229"/>
<rect x="263.27" y="71.54" width="6.10" height="4.73" fill="#ea2229"/>
<rect x="269.02" y="71.54" width="6.10" height="4.73" fill="#f7c4c7"/>
<rect x="274.78" y="71.54" width="6.10" height="4.73" fill="#ea2229"/>
<rect x="280.53" y="71.54" width="6.10" height="4.73" fill="#f6f3f6"/>
<rect x="286.29" y="71.54" width="6.10" height="4.73" fill="#ef7a80"/>
<rect x="292.04" y="71.54" width="6.10" height="4.73" fill="#f6f3f6"/>
<rect x="297.79" y="71.54" width="6.10" height="4.73" fill="#f6f3f6"/>
<rect x="303.55" y="71.54" width="6.10" height="4.73" fill="#f7c4c7"/>
<rect x="309.30" y="71.54" width="6.10" height="4.73" fill="#6c72c0"/>
<rect x="315.06" y="71.54" width="6.10" height="4.73" fill="#f6f3f6"/>
<rect x="320.81" y="71.54" width="6.10" height="4.73" fill="#b5b8e0"/>
<rect x="326.56" y="71.54" width="6.10" height="4.73" fill="#6c72c0"/>
<rect x="332.32" y="71.54" width="6.10" height="4.73" fill="#b5b8e0"/>
<rect x="338.07" y="71.54" width="6.10" height="4.73" fill="#f7c4c7"/>
<rect x="343.83" y="71.54" width="6.10" height="4.73" fill="#f6f3f6"/>
<rect x="349.58" y="71.54" width="6.10" height="4.73" fill="#f6f3f6"/>
<rect x="355.33" y="71.54" width="6.10" height="4.73" fill="#f7c4c7"/>
<rect x="361.09" y="71.54" width="6.10" height="4.73" fill="#b5b8e0"/>
<rect x="366.84" y="71.54" width="6.10" height="4.73" fill="#f7c4c7"/>
<rect x="372.60" y="71.54" width="6.10" height="4.73" fill="#f7c4c7"/>
<rect x="378.35" y="71.54" width="6.10" height="4.73" fill="#3a48a8"/>
<rect x="384.10" y="71.54" width="6.10" height="4.73" fill="#b5b8e0"/>
<rect x="389.86" y="71.54" width="6.10" height="4.73" fill="#b5b8e0"/>
<rect x="395.61" y="71.54" width="6.10" height="4.73" fill="#b5b8e0"/>
<rect x="401.37" y="71.54" width="6.10" height="4.73" fill="#3a48a8"/>
<rect x="407.12" y="71.54" width="6.10" height="4.73" fill="#3a48a8"/>
<rect x="412.87" y="71.54" width="6.10" height="4.73" fill="#6c72c0"/>
<rect x="418.63" y="71.54" width="6.10" height="4.73" fill="#b5b8e0"/>
<rect x="424.38" y="71.54" width="6.10" height="4.73" fill="#f6f3f6"/>
<rect x="430.14" y="71.54" width="6.10" height="4.73" fill="#b5b8e0"/>
<rect x="435.89" y="71.54" width="6.10" height="4.73" fill="#ea2229"/>
<rect x="441.64" y="71.54" width="6.10" height="4.73" fill="#b5b8e0"/>
<rect x="447.40" y="71.54" width="6.10" height="4.73" fill="#ef7a80"/>
<rect x="453.15" y="71.54" width="6.10" height="4.73" fill="#b5b8e0"/>
<rect x="458.91" y="71.54" width="6.10" height="4.73" fill="#b5b8e0"/>
<rect x="464.66" y="71.54" width="6.10" height="4.73" fill="#f6f3f6"/>
<rect x="234.50" y="75.92" width="6.10" height="4.73" fill="#3a48a8"/>
<rect x="240.25" y="75.92" width="6.10" height="4.73" fill="#3a48a8"/>
<rect x="246.01" y="75.92" width="6.10" height="4.73" fill="#3a48a8"/>
<rect x="251.76" y="75.92" width="6.10" height="4.73" fill="#3a48a8"/>
<rect x="257.52" y="75.92" width="6.10" height="4.73" fill="#f6f3f6"/>
<rect x="263.27" y="75.92" width="6.10" height="4.73" fill="#ea2229"/>
<rect x="269.02" y="75.92" width="6.10" height="4.73" fill="#ea2229"/>
<rect x="274.78" y="75.92" width="6.10" height="4.73" fill="#f7c4c7"/>
<rect x="280.53" y="75.92" width="6.10" height="4.73" fill="#f7c4c7"/>
<rect x="286.29" y="75.92" width="6.10" height="4.73" fill="#f7c4c7"/>
<rect x="292.04" y="75.92" width="6.10" height="4.73" fill="#f6f3f6"/>
<rect x="297.79" y="75.92" width="6.10" height="4.73" fill="#f6f3f6"/>
<rect x="303.55" y="75.92" width="6.10" height="4.73" fill="#f7c4c7"/>
<rect x="309.30" y="75.92" width="6.10" height="4.73" fill="#f7c4c7"/>
<rect x="315.06" y="75.92" width="6.10" height="4.73" fill="#6c72c0"/>
<rect x="320.81" y="75.92" width="6.10" height="4.73" fill="#f7c4c7"/>
<rect x="326.56" y="75.92" width="6.10" height="4.73" fill="#f7c4c7"/>
<rect x="332.32" y="75.92" width="6.10" height="4.73" fill="#ea2229"/>
<rect x="338.07" y="75.92" width="6.10" height="4.73" fill="#ef7a80"/>
<rect x="343.83" y="75.92" width="6.10" height="4.73" fill="#f6f3f6"/>
<rect x="349.58" y="75.92" width="6.10" height="4.73" fill="#f7c4c7"/>
<rect x="355.33" y="75.92" width="6.10" height="4.73" fill="#f7c4c7"/>
<rect x="361.09" y="75.92" width="6.10" height="4.73" fill="#b5b8e0"/>
<rect x="366.84" y="75.92" width="6.10" height="4.73" fill="#6c72c0"/>
<rect x="372.60" y="75.92" width="6.10" height="4.73" fill="#ea2229"/>
<rect x="378.35" y="75.92" width="6.10" height="4.73" fill="#b5b8e0"/>
<rect x="384.10" y="75.92" width="6.10" height="4.73" fill="#b5b8e0"/>
<rect x="389.86" y="75.92" width="6.10" height="4.73" fill="#b5b8e0"/>
<rect x="395.61" y="75.92" width="6.10" height="4.73" fill="#6c72c0"/>
<rect x="401.37" y="75.92" width="6.10" height="4.73" fill="#b5b8e0"/>
<rect x="407.12" y="75.92" width="6.10" height="4.73" fill="#b5b8e0"/>
<rect x="412.87" y="75.92" width="6.10" height="4.73" fill="#f7c4c7"/>
<rect x="418.63" y="75.92" width="6.10" height="4.73" fill="#f7c4c7"/>
<rect x="424.38" y="75.92" width="6.10" height="4.73" fill="#f7c4c7"/>
<rect x="430.14" y="75.92" width="6.10" height="4.73" fill="#ea2229"/>
<rect x="435.89" y="75.92" width="6.10" height="4.73" fill="#b5b8e0"/>
<rect x="441.64" y="75.92" width="6.10" height="4.73" fill="#6c72c0"/>
<rect x="447.40" y="75.92" width="6.10" height="4.73" fill="#b5b8e0"/>
<rect x="453.15" y="75.92" width="6.10" height="4.73" fill="#f7c4c7"/>
<rect x="458.91" y="75.92" width="6.10" height="4.73" fill="#f7c4c7"/>
<rect x="464.66" y="75.92" width="6.10" height="4.73" fill="#b5b8e0"/>
<rect x="234.50" y="80.31" width="6.10" height="4.73" fill="#f7c4c7"/>
<rect x="240.25" y="80.31" width="6.10" height="4.73" fill="#f6f3f6"/>
<rect x="246.01" y="80.31" width="6.10" height="4.73" fill="#f7c4c7"/>
<rect x="251.76" y="80.31" width="6.10" height="4.73" fill="#b5b8e0"/>
<rect x="257.52" y="80.31" width="6.10" height="4.73" fill="#ea2229"/>
<rect x="263.27" y="80.31" width="6.10" height="4.73" fill="#ea2229"/>
<rect x="269.02" y="80.31" width="6.10" height="4.73" fill="#f7c4c7"/>
<rect x="274.78" y="80.31" width="6.10" height="4.73" fill="#3a48a8"/>
<rect x="280.53" y="80.31" width="6.10" height="4.73" fill="#f7c4c7"/>
<rect x="286.29" y="80.31" width="6.10" height="4.73" fill="#ea2229"/>
<rect x="292.04" y="80.31" width="6.10" height="4.73" fill="#ef7a80"/>
<rect x="297.79" y="80.31" width="6.10" height="4.73" fill="#ef7a80"/>
<rect x="303.55" y="80.31" width="6.10" height="4.73" fill="#ef7a80"/>
<rect x="309.30" y="80.31" width="6.10" height="4.73" fill="#b5b8e0"/>
<rect x="315.06" y="80.31" width="6.10" height="4.73" fill="#ef7a80"/>
<rect x="320.81" y="80.31" width="6.10" height="4.73" fill="#f6f3f6"/>
<rect x="326.56" y="80.31" width="6.10" height="4.73" fill="#f7c4c7"/>
<rect x="332.32" y="80.31" width="6.10" height="4.73" fill="#ef7a80"/>
<rect x="338.07" y="80.31" width="6.10" height="4.73" fill="#ef7a80"/>
<rect x="343.83" y="80.31" width="6.10" height="4.73" fill="#ef7a80"/>
<rect x="349.58" y="80.31" width="6.10" height="4.73" fill="#f6f3f6"/>
<rect x="355.33" y="80.31" width="6.10" height="4.73" fill="#f7c4c7"/>
<rect x="361.09" y="80.31" width="6.10" height="4.73" fill="#b5b8e0"/>
<rect x="366.84" y="80.31" width="6.10" height="4.73" fill="#f7c4c7"/>
<rect x="372.60" y="80.31" width="6.10" height="4.73" fill="#f7c4c7"/>
<rect x="378.35" y="80.31" width="6.10" height="4.73" fill="#b5b8e0"/>
<rect x="384.10" y="80.31" width="6.10" height="4.73" fill="#b5b8e0"/>
<rect x="389.86" y="80.31" width="6.10" height="4.73" fill="#f6f3f6"/>
<rect x="395.61" y="80.31" width="6.10" height="4.73" fill="#f7c4c7"/>
<rect x="401.37" y="80.31" width="6.10" height="4.73" fill="#b5b8e0"/>
<rect x="407.12" y="80.31" width="6.10" height="4.73" fill="#b5b8e0"/>
<rect x="412.87" y="80.31" width="6.10" height="4.73" fill="#b5b8e0"/>
<rect x="418.63" y="80.31" width="6.10" height="4.73" fill="#b5b8e0"/>
<rect x="424.38" y="80.31" width="6.10" height="4.73" fill="#f7c4c7"/>
<rect x="430.14" y="80.31" width="6.10" height="4.73" fill="#b5b8e0"/>
<rect x="435.89" y="80.31" width="6.10" height="4.73" fill="#3a48a8"/>
<rect x="441.64" y="80.31" width="6.10" height="4.73" fill="#3a48a8"/>
<rect x="447.40" y="80.31" width="6.10" height="4.73" fill="#6c72c0"/>
<rect x="453.15" y="80.31" width="6.10" height="4.73" fill="#f6f3f6"/>
<rect x="458.91" y="80.31" width="6.10" height="4.73" fill="#3a48a8"/>
<rect x="464.66" y="80.31" width="6.10" height="4.73" fill="#f7c4c7"/>
<rect x="234.50" y="84.69" width="6.10" height="4.73" fill="#f7c4c7"/>
<rect x="240.25" y="84.69" width="6.10" height="4.73" fill="#ea2229"/>
<rect x="246.01" y="84.69" width="6.10" height="4.73" fill="#ef7a80"/>
<rect x="251.76" y="84.69" width="6.10" height="4.73" fill="#ef7a80"/>
<rect x="257.52" y="84.69" width="6.10" height="4.73" fill="#ea2229"/>
<rect x="263.27" y="84.69" width="6.10" height="4.73" fill="#ea2229"/>
<rect x="269.02" y="84.69" width="6.10" height="4.73" fill="#f6f3f6"/>
<rect x="274.78" y="84.69" width="6.10" height="4.73" fill="#f7c4c7"/>
<rect x="280.53" y="84.69" width="6.10" height="4.73" fill="#f7c4c7"/>
<rect x="286.29" y="84.69" width="6.10" height="4.73" fill="#f6f3f6"/>
<rect x="292.04" y="84.69" width="6.10" height="4.73" fill="#b5b8e0"/>
<rect x="297.79" y="84.69" width="6.10" height="4.73" fill="#6c72c0"/>
<rect x="303.55" y="84.69" width="6.10" height="4.73" fill="#f6f3f6"/>
<rect x="309.30" y="84.69" width="6.10" height="4.73" fill="#b5b8e0"/>
<rect x="315.06" y="84.69" width="6.10" height="4.73" fill="#f7c4c7"/>
<rect x="320.81" y="84.69" width="6.10" height="4.73" fill="#f6f3f6"/>
<rect x="326.56" y="84.69" width="6.10" height="4.73" fill="#f6f3f6"/>
<rect x="332.32" y="84.69" width="6.10" height="4.73" fill="#f6f3f6"/>
<rect x="338.07" y="84.69" width="6.10" height="4.73" fill="#f6f3f6"/>
<rect x="343.83" y="84.69" width="6.10" height="4.73" fill="#f6f3f6"/>
<rect x="349.58" y="84.69" width="6.10" height="4.73" fill="#b5b8e0"/>
<rect x="355.33" y="84.69" width="6.10" height="4.73" fill="#f7c4c7"/>
<rect x="361.09" y="84.69" width="6.10" height="4.73" fill="#6c72c0"/>
<rect x="366.84" y="84.69" width="6.10" height="4.73" fill="#f7c4c7"/>
<rect x="372.60" y="84.69" width="6.10" height="4.73" fill="#f6f3f6"/>
<rect x="378.35" y="84.69" width="6.10" height="4.73" fill="#6c72c0"/>
<rect x="384.10" y="84.69" width="6.10" height="4.73" fill="#6c72c0"/>
<rect x="389.86" y="84.69" width="6.10" height="4.73" fill="#b5b8e0"/>
<rect x="395.61" y="84.69" width="6.10" height="4.73" fill="#6c72c0"/>
<rect x="401.37" y="84.69" width="6.10" height="4.73" fill="#6c72c0"/>
<rect x="407.12" y="84.69" width="6.10" height="4.73" fill="#6c72c0"/>
<rect x="412.87" y="84.69" width="6.10" height="4.73" fill="#6c72c0"/>
<rect x="418.63" y="84.69" width="6.10" height="4.73" fill="#f7c4c7"/>
<rect x="424.38" y="84.69" width="6.10" height="4.73" fill="#ef7a80"/>
<rect x="430.14" y="84.69" width="6.10" height="4.73" fill="#f7c4c7"/>
<rect x="435.89" y="84.69" width="6.10" height="4.73" fill="#b5b8e0"/>
<rect x="441.64" y="84.69" width="6.10" height="4.73" fill="#b5b8e0"/>
<rect x="447.40" y="84.69" width="6.10" height="4.73" fill="#6c72c0"/>
<rect x="453.15" y="84.69" width="6.10" height="4.73" fill="#b5b8e0"/>
<rect x="458.91" y="84.69" width="6.10" height="4.73" fill="#f6f3f6"/>
<rect x="464.66" y="84.69" width="6.10" height="4.73" fill="#6c72c0"/>
<rect x="234.50" y="89.08" width="6.10" height="4.73" fill="#f7c4c7"/>
<rect x="240.25" y="89.08" width="6.10" height="4.73" fill="#f7c4c7"/>
<rect x="246.01" y="89.08" width="6.10" height="4.73" fill="#f7c4c7"/>
<rect x="251.76" y="89.08" width="6.10" height="4.73" fill="#f6f3f6"/>
<rect x="257.52" y="89.08" width="6.10" height="4.73" fill="#ea2229"/>
<rect x="263.27" y="89.08" width="6.10" height="4.73" fill="#ea2229"/>
<rect x="269.02" y="89.08" width="6.10" height="4.73" fill="#f7c4c7"/>
<rect x="274.78" y="89.08" width="6.10" height="4.73" fill="#ef7a80"/>
<rect x="280.53" y="89.08" width="6.10" height="4.73" fill="#f6f3f6"/>
<rect x="286.29" y="89.08" width="6.10" height="4.73" fill="#b5b8e0"/>
<rect x="292.04" y="89.08" width="6.10" height="4.73" fill="#f6f3f6"/>
<rect x="297.79" y="89.08" width="6.10" height="4.73" fill="#f6f3f6"/>
<rect x="303.55" y="89.08" width="6.10" height="4.73" fill="#b5b8e0"/>
<rect x="309.30" y="89.08" width="6.10" height="4.73" fill="#b5b8e0"/>
<rect x="315.06" y="89.08" width="6.10" height="4.73" fill="#f6f3f6"/>
<rect x="320.81" y="89.08" width="6.10" height="4.73" fill="#f6f3f6"/>
<rect x="326.56" y="89.08" width="6.10" height="4.73" fill="#f6f3f6"/>
<rect x="332.32" y="89.08" width="6.10" height="4.73" fill="#f7c4c7"/>
<rect x="338.07" y="89.08" width="6.10" height="4.73" fill="#6c72c0"/>
<rect x="343.83" y="89.08" width="6.10" height="4.73" fill="#f6f3f6"/>
<rect x="349.58" y="89.08" width="6.10" height="4.73" fill="#f6f3f6"/>
<rect x="355.33" y="89.08" width="6.10" height="4.73" fill="#ef7a80"/>
<rect x="361.09" y="89.08" width="6.10" height="4.73" fill="#6c72c0"/>
<rect x="366.84" y="89.08" width="6.10" height="4.73" fill="#f6f3f6"/>
<rect x="372.60" y="89.08" width="6.10" height="4.73" fill="#f6f3f6"/>
<rect x="378.35" y="89.08" width="6.10" height="4.73" fill="#6c72c0"/>
<rect x="384.10" y="89.08" width="6.10" height="4.73" fill="#6c72c0"/>
<rect x="389.86" y="89.08" width="6.10" height="4.73" fill="#b5b8e0"/>
<rect x="395.61" y="89.08" width="6.10" height="4.73" fill="#3a48a8"/>
<rect x="401.37" y="89.08" width="6.10" height="4.73" fill="#b5b8e0"/>
<rect x="407.12" y="89.08" width="6.10" height="4.73" fill="#f6f3f6"/>
<rect x="412.87" y="89.08" width="6.10" height="4.73" fill="#6c72c0"/>
<rect x="418.63" y="89.08" width="6.10" height="4.73" fill="#f7c4c7"/>
<rect x="424.38" y="89.08" width="6.10" height="4.73" fill="#b5b8e0"/>
<rect x="430.14" y="89.08" width="6.10" height="4.73" fill="#f7c4c7"/>
<rect x="435.89" y="89.08" width="6.10" height="4.73" fill="#6c72c0"/>
<rect x="441.64" y="89.08" width="6.10" height="4.73" fill="#b5b8e0"/>
<rect x="447.40" y="89.08" width="6.10" height="4.73" fill="#6c72c0"/>
<rect x="453.15" y="89.08" width="6.10" height="4.73" fill="#b5b8e0"/>
<rect x="458.91" y="89.08" width="6.10" height="4.73" fill="#f6f3f6"/>
<rect x="464.66" y="89.08" width="6.10" height="4.73" fill="#6c72c0"/>
<rect x="234.50" y="93.47" width="6.10" height="4.73" fill="#3a48a8"/>
<rect x="240.25" y="93.47" width="6.10" height="4.73" fill="#3a48a8"/>
<rect x="246.01" y="93.47" width="6.10" height="4.73" fill="#3a48a8"/>
<rect x="251.76" y="93.47" width="6.10" height="4.73" fill="#3a48a8"/>
<rect x="257.52" y="93.47" width="6.10" height="4.73" fill="#ea2229"/>
<rect x="263.27" y="93.47" width="6.10" height="4.73" fill="#ea2229"/>
<rect x="269.02" y="93.47" width="6.10" height="4.73" fill="#f6f3f6"/>
<rect x="274.78" y="93.47" width="6.10" height="4.73" fill="#3a48a8"/>
<rect x="280.53" y="93.47" width="6.10" height="4.73" fill="#f7c4c7"/>
<rect x="286.29" y="93.47" width="6.10" height="4.73" fill="#f7c4c7"/>
<rect x="292.04" y="93.47" width="6.10" height="4.73" fill="#f6f3f6"/>
<rect x="297.79" y="93.47" width="6.10" height="4.73" fill="#ef7a80"/>
<rect x="303.55" y="93.47" width="6.10" height="4.73" fill="#ef7a80"/>
<rect x="309.30" y="93.47" width="6.10" height="4.73" fill="#f6f3f6"/>
<rect x="315.06" y="93.47" width="6.10" height="4.73" fill="#ef7a80"/>
<rect x="320.81" y="93.47" width="6.10" height="4.73" fill="#f7c4c7"/>
<rect x="326.56" y="93.47" width="6.10" height="4.73" fill="#f7c4c7"/>
<rect x="332.32" y="93.47" width="6.10" height="4.73" fill="#f7c4c7"/>
<rect x="338.07" y="93.47" width="6.10" height="4.73" fill="#ef7a80"/>
<rect x="343.83" y="93.47" width="6.10" height="4.73" fill="#f6f3f6"/>
<rect x="349.58" y="93.47" width="6.10" height="4.73" fill="#f7c4c7"/>
<rect x="355.33" y="93.47" width="6.10" height="4.73" fill="#ef7a80"/>
<rect x="361.09" y="93.47" width="6.10" height="4.73" fill="#f6f3f6"/>
<rect x="366.84" y="93.47" width="6.10" height="4.73" fill="#ea2229"/>
<rect x="372.60" y="93.47" width="6.10" height="4.73" fill="#f6f3f6"/>
<rect x="378.35" y="93.47" width="6.10" height="4.73" fill="#b5b8e0"/>
<rect x="384.10" y="93.47" width="6.10" height="4.73" fill="#f6f3f6"/>
<rect x="389.86" y="93.47" width="6.10" height="4.73" fill="#ef7a80"/>
<rect x="395.61" y="93.47" width="6.10" height="4.73" fill="#b5b8e0"/>
<rect x="401.37" y="93.47" width="6.10" height="4.73" fill="#b5b8e0"/>
<rect x="407.12" y="93.47" width="6.10" height="4.73" fill="#b5b8e0"/>
<rect x="412.87" y="93.47" width="6.10" height="4.73" fill="#b5b8e0"/>
<rect x="418.63" y="93.47" width="6.10" height="4.73" fill="#b5b8e0"/>
<rect x="424.38" y="93.47" width="6.10" height="4.73" fill="#f6f3f6"/>
<rect x="430.14" y="93.47" width="6.10" height="4.73" fill="#6c72c0"/>
<rect x="435.89" y="93.47" width="6.10" height="4.73" fill="#b5b8e0"/>
<rect x="441.64" y="93.47" width="6.10" height="4.73" fill="#f6f3f6"/>
<rect x="447.40" y="93.47" width="6.10" height="4.73" fill="#b5b8e0"/>
<rect x="453.15" y="93.47" width="6.10" height="4.73" fill="#b5b8e0"/>
<rect x="458.91" y="93.47" width="6.10" height="4.73" fill="#b5b8e0"/>
<rect x="464.66" y="93.47" width="6.10" height="4.73" fill="#b5b8e0"/>
<rect x="234.50" y="97.85" width="6.10" height="4.73" fill="#f6f3f6"/>
<rect x="240.25" y="97.85" width="6.10" height="4.73" fill="#ef7a80"/>
<rect x="246.01" y="97.85" width="6.10" height="4.73" fill="#b5b8e0"/>
<rect x="251.76" y="97.85" width="6.10" height="4.73" fill="#b5b8e0"/>
<rect x="257.52" y="97.85" width="6.10" height="4.73" fill="#ea2229"/>
<rect x="263.27" y="97.85" width="6.10" height="4.73" fill="#ea2229"/>
<rect x="269.02" y="97.85" width="6.10" height="4.73" fill="#f6f3f6"/>
<rect x="274.78" y="97.85" width="6.10" height="4.73" fill="#ef7a80"/>
<rect x="280.53" y="97.85" width="6.10" height="4.73" fill="#f7c4c7"/>
<rect x="286.29" y="97.85" width="6.10" height="4.73" fill="#f7c4c7"/>
<rect x="292.04" y="97.85" width="6.10" height="4.73" fill="#b5b8e0"/>
<rect x="297.79" y="97.85" width="6.10" height="4.73" fill="#f6f3f6"/>
<rect x="303.55" y="97.85" width="6.10" height="4.73" fill="#f7c4c7"/>
<rect x="309.30" y="97.85" width="6.10" height="4.73" fill="#b5b8e0"/>
<rect x="315.06" y="97.85" width="6.10" height="4.73" fill="#f6f3f6"/>
<rect x="320.81" y="97.85" width="6.10" height="4.73" fill="#b5b8e0"/>
<rect x="326.56" y="97.85" width="6.10" height="4.73" fill="#b5b8e0"/>
<rect x="332.32" y="97.85" width="6.10" height="4.73" fill="#b5b8e0"/>
<rect x="338.07" y="97.85" width="6.10" height="4.73" fill="#b5b8e0"/>
<rect x="343.83" y="97.85" width="6.10" height="4.73" fill="#f7c4c7"/>
<rect x="349.58" y="97.85" width="6.10" height="4.73" fill="#f7c4c7"/>
<rect x="355.33" y="97.85" width="6.10" height="4.73" fill="#f7c4c7"/>
<rect x="361.09" y="97.85" width="6.10" height="4.73" fill="#f6f3f6"/>
<rect x="366.84" y="97.85" width="6.10" height="4.73" fill="#f7c4c7"/>
<rect x="372.60" y="97.85" width="6.10" height="4.73" fill="#ef7a80"/>
<rect x="378.35" y="97.85" width="6.10" height="4.73" fill="#6c72c0"/>
<rect x="384.10" y="97.85" width="6.10" height="4.73" fill="#f6f3f6"/>
<rect x="389.86" y="97.85" width="6.10" height="4.73" fill="#b5b8e0"/>
<rect x="395.61" y="97.85" width="6.10" height="4.73" fill="#f6f3f6"/>
<rect x="401.37" y="97.85" width="6.10" height="4.73" fill="#3a48a8"/>
<rect x="407.12" y="97.85" width="6.10" height="4.73" fill="#b5b8e0"/>
<rect x="412.87" y="97.85" width="6.10" height="4.73" fill="#f6f3f6"/>
<rect x="418.63" y="97.85" width="6.10" height="4.73" fill="#ea2229"/>
<rect x="424.38" y="97.85" width="6.10" height="4.73" fill="#ea2229"/>
<rect x="430.14" y="97.85" width="6.10" height="4.73" fill="#f7c4c7"/>
<rect x="435.89" y="97.85" width="6.10" height="4.73" fill="#3a48a8"/>
<rect x="441.64" y="97.85" width="6.10" height="4.73" fill="#3a48a8"/>
<rect x="447.40" y="97.85" width="6.10" height="4.73" fill="#3a48a8"/>
<rect x="453.15" y="97.85" width="6.10" height="4.73" fill="#6c72c0"/>
<rect x="458.91" y="97.85" width="6.10" height="4.73" fill="#f7c4c7"/>
<rect x="464.66" y="97.85" width="6.10" height="4.73" fill="#6c72c0"/>
<rect x="234.50" y="102.23" width="6.10" height="4.73" fill="#3a48a8"/>
<rect x="240.25" y="102.23" width="6.10" height="4.73" fill="#3a48a8"/>
<rect x="246.01" y="102.23" width="6.10" height="4.73" fill="#3a48a8"/>
<rect x="251.76" y="102.23" width="6.10" height="4.73" fill="#3a48a8"/>
<rect x="257.52" y="102.23" width="6.10" height="4.73" fill="#ea2229"/>
<rect x="263.27" y="102.23" width="6.10" height="4.73" fill="#ea2229"/>
<rect x="269.02" y="102.23" width="6.10" height="4.73" fill="#b5b8e0"/>
<rect x="274.78" y="102.23" width="6.10" height="4.73" fill="#ea2229"/>
<rect x="280.53" y="102.23" width="6.10" height="4.73" fill="#f7c4c7"/>
<rect x="286.29" y="102.23" width="6.10" height="4.73" fill="#f7c4c7"/>
<rect x="292.04" y="102.23" width="6.10" height="4.73" fill="#f7c4c7"/>
<rect x="297.79" y="102.23" width="6.10" height="4.73" fill="#f7c4c7"/>
<rect x="303.55" y="102.23" width="6.10" height="4.73" fill="#f7c4c7"/>
<rect x="309.30" y="102.23" width="6.10" height="4.73" fill="#f7c4c7"/>
<rect x="315.06" y="102.23" width="6.10" height="4.73" fill="#f6f3f6"/>
<rect x="320.81" y="102.23" width="6.10" height="4.73" fill="#ea2229"/>
<rect x="326.56" y="102.23" width="6.10" height="4.73" fill="#ef7a80"/>
<rect x="332.32" y="102.23" width="6.10" height="4.73" fill="#f7c4c7"/>
<rect x="338.07" y="102.23" width="6.10" height="4.73" fill="#f6f3f6"/>
<rect x="343.83" y="102.23" width="6.10" height="4.73" fill="#ef7a80"/>
<rect x="349.58" y="102.23" width="6.10" height="4.73" fill="#f7c4c7"/>
<rect x="355.33" y="102.23" width="6.10" height="4.73" fill="#ef7a80"/>
<rect x="361.09" y="102.23" width="6.10" height="4.73" fill="#f6f3f6"/>
<rect x="366.84" y="102.23" width="6.10" height="4.73" fill="#b5b8e0"/>
<rect x="372.60" y="102.23" width="6.10" height="4.73" fill="#f6f3f6"/>
<rect x="378.35" y="102.23" width="6.10" height="4.73" fill="#6c72c0"/>
<rect x="384.10" y="102.23" width="6.10" height="4.73" fill="#ea2229"/>
<rect x="389.86" y="102.23" width="6.10" height="4.73" fill="#f6f3f6"/>
<rect x="395.61" y="102.23" width="6.10" height="4.73" fill="#ea2229"/>
<rect x="401.37" y="102.23" width="6.10" height="4.73" fill="#f7c4c7"/>
<rect x="407.12" y="102.23" width="6.10" height="4.73" fill="#3a48a8"/>
<rect x="412.87" y="102.23" width="6.10" height="4.73" fill="#b5b8e0"/>
<rect x="418.63" y="102.23" width="6.10" height="4.73" fill="#6c72c0"/>
<rect x="424.38" y="102.23" width="6.10" height="4.73" fill="#b5b8e0"/>
<rect x="430.14" y="102.23" width="6.10" height="4.73" fill="#f7c4c7"/>
<rect x="435.89" y="102.23" width="6.10" height="4.73" fill="#b5b8e0"/>
<rect x="441.64" y="102.23" width="6.10" height="4.73" fill="#f7c4c7"/>
<rect x="447.40" y="102.23" width="6.10" height="4.73" fill="#6c72c0"/>
<rect x="453.15" y="102.23" width="6.10" height="4.73" fill="#f6f3f6"/>
<rect x="458.91" y="102.23" width="6.10" height="4.73" fill="#b5b8e0"/>
<rect x="464.66" y="102.23" width="6.10" height="4.73" fill="#ef7a80"/>
<rect x="234.50" y="106.62" width="6.10" height="4.73" fill="#3a48a8"/>
<rect x="240.25" y="106.62" width="6.10" height="4.73" fill="#3a48a8"/>
<rect x="246.01" y="106.62" width="6.10" height="4.73" fill="#3a48a8"/>
<rect x="251.76" y="106.62" width="6.10" height="4.73" fill="#3a48a8"/>
<rect x="257.52" y="106.62" width="6.10" height="4.73" fill="#f6f3f6"/>
<rect x="263.27" y="106.62" width="6.10" height="4.73" fill="#ef7a80"/>
<rect x="269.02" y="106.62" width="6.10" height="4.73" fill="#f7c4c7"/>
<rect x="274.78" y="106.62" width="6.10" height="4.73" fill="#ef7a80"/>
<rect x="280.53" y="106.62" width="6.10" height="4.73" fill="#f7c4c7"/>
<rect x="286.29" y="106.62" width="6.10" height="4.73" fill="#f7c4c7"/>
<rect x="292.04" y="106.62" width="6.10" height="4.73" fill="#f6f3f6"/>
<rect x="297.79" y="106.62" width="6.10" height="4.73" fill="#f6f3f6"/>
<rect x="303.55" y="106.62" width="6.10" height="4.73" fill="#f7c4c7"/>
<rect x="309.30" y="106.62" width="6.10" height="4.73" fill="#f7c4c7"/>
<rect x="315.06" y="106.62" width="6.10" height="4.73" fill="#f7c4c7"/>
<rect x="320.81" y="106.62" width="6.10" height="4.73" fill="#f7c4c7"/>
<rect x="326.56" y="106.62" width="6.10" height="4.73" fill="#f7c4c7"/>
<rect x="332.32" y="106.62" width="6.10" height="4.73" fill="#ef7a80"/>
<rect x="338.07" y="106.62" width="6.10" height="4.73" fill="#ef7a80"/>
<rect x="343.83" y="106.62" width="6.10" height="4.73" fill="#f6f3f6"/>
<rect x="349.58" y="106.62" width="6.10" height="4.73" fill="#ef7a80"/>
<rect x="355.33" y="106.62" width="6.10" height="4.73" fill="#f7c4c7"/>
<rect x="361.09" y="106.62" width="6.10" height="4.73" fill="#f6f3f6"/>
<rect x="366.84" y="106.62" width="6.10" height="4.73" fill="#f6f3f6"/>
<rect x="372.60" y="106.62" width="6.10" height="4.73" fill="#ef7a80"/>
<rect x="378.35" y="106.62" width="6.10" height="4.73" fill="#f7c4c7"/>
<rect x="384.10" y="106.62" width="6.10" height="4.73" fill="#f7c4c7"/>
<rect x="389.86" y="106.62" width="6.10" height="4.73" fill="#f6f3f6"/>
<rect x="395.61" y="106.62" width="6.10" height="4.73" fill="#b5b8e0"/>
<rect x="401.37" y="106.62" width="6.10" height="4.73" fill="#f7c4c7"/>
<rect x="407.12" y="106.62" width="6.10" height="4.73" fill="#b5b8e0"/>
<rect x="412.87" y="106.62" width="6.10" height="4.73" fill="#b5b8e0"/>
<rect x="418.63" y="106.62" width="6.10" height="4.73" fill="#f6f3f6"/>
<rect x="424.38" y="106.62" width="6.10" height="4.73" fill="#ef7a80"/>
<rect x="430.14" y="106.62" width="6.10" height="4.73" fill="#f6f3f6"/>
<rect x="435.89" y="106.62" width="6.10" height="4.73" fill="#6c72c0"/>
<rect x="441.64" y="106.62" width="6.10" height="4.73" fill="#6c72c0"/>
<rect x="447.40" y="106.62" width="6.10" height="4.73" fill="#6c72c0"/>
<rect x="453.15" y="106.62" width="6.10" height="4.73" fill="#b5b8e0"/>
<rect x="458.91" y="106.62" width="6.10" height="4.73" fill="#f6f3f6"/>
<rect x="464.66" y="106.62" width="6.10" height="4.73" fill="#b5b8e0"/>
<rect x="234.50" y="111.00" width="6.10" height="4.73" fill="#3a48a8"/>
<rect x="240.25" y="111.00" width="6.10" height="4.73" fill="#3a48a8"/>
<rect x="246.01" y="111.00" width="6.10" height="4.73" fill="#3a48a8"/>
<rect x="251.76" y="111.00" width="6.10" height="4.73" fill="#3a48a8"/>
<rect x="257.52" y="111.00" width="6.10" height="4.73" fill="#ea2229"/>
<rect x="263.27" y="111.00" width="6.10" height="4.73" fill="#ea2229"/>
<rect x="269.02" y="111.00" width="6.10" height="4.73" fill="#f6f3f6"/>
<rect x="274.78" y="111.00" width="6.10" height="4.73" fill="#f7c4c7"/>
<rect x="280.53" y="111.00" width="6.10" height="4.73" fill="#f6f3f6"/>
<rect x="286.29" y="111.00" width="6.10" height="4.73" fill="#f6f3f6"/>
<rect x="292.04" y="111.00" width="6.10" height="4.73" fill="#f6f3f6"/>
<rect x="297.79" y="111.00" width="6.10" height="4.73" fill="#f6f3f6"/>
<rect x="303.55" y="111.00" width="6.10" height="4.73" fill="#ef7a80"/>
<rect x="309.30" y="111.00" width="6.10" height="4.73" fill="#f7c4c7"/>
<rect x="315.06" y="111.00" width="6.10" height="4.73" fill="#f6f3f6"/>
<rect x="320.81" y="111.00" width="6.10" height="4.73" fill="#f7c4c7"/>
<rect x="326.56" y="111.00" width="6.10" height="4.73" fill="#b5b8e0"/>
<rect x="332.32" y="111.00" width="6.10" height="4.73" fill="#b5b8e0"/>
<rect x="338.07" y="111.00" width="6.10" height="4.73" fill="#f7c4c7"/>
<rect x="343.83" y="111.00" width="6.10" height="4.73" fill="#ea2229"/>
<rect x="349.58" y="111.00" width="6.10" height="4.73" fill="#f6f3f6"/>
<rect x="355.33" y="111.00" width="6.10" height="4.73" fill="#f7c4c7"/>
<rect x="361.09" y="111.00" width="6.10" height="4.73" fill="#6c72c0"/>
<rect x="366.84" y="111.00" width="6.10" height="4.73" fill="#b5b8e0"/>
<rect x="372.60" y="111.00" width="6.10" height="4.73" fill="#b5b8e0"/>
<rect x="378.35" y="111.00" width="6.10" height="4.73" fill="#b5b8e0"/>
<rect x="384.10" y="111.00" width="6.10" height="4.73" fill="#ef7a80"/>
<rect x="389.86" y="111.00" width="6.10" height="4.73" fill="#f6f3f6"/>
<rect x="395.61" y="111.00" width="6.10" height="4.73" fill="#f7c4c7"/>
<rect x="401.37" y="111.00" width="6.10" height="4.73" fill="#b5b8e0"/>
<rect x="407.12" y="111.00" width="6.10" height="4.73" fill="#6c72c0"/>
<rect x="412.87" y="111.00" width="6.10" height="4.73" fill="#b5b8e0"/>
<rect x="418.63" y="111.00" width="6.10" height="4.73" fill="#f6f3f6"/>
<rect x="424.38" y="111.00" width="6.10" height="4.73" fill="#ef7a80"/>
<rect x="430.14" y="111.00" width="6.10" height="4.73" fill="#f7c4c7"/>
<rect x="435.89" y="111.00" width="6.10" height="4.73" fill="#f7c4c7"/>
<rect x="441.64" y="111.00" width="6.10" height="4.73" fill="#f6f3f6"/>
<rect x="447.40" y="111.00" width="6.10" height="4.73" fill="#b5b8e0"/>
<rect x="453.15" y="111.00" width="6.10" height="4.73" fill="#6c72c0"/>
<rect x="458.91" y="111.00" width="6.10" height="4.73" fill="#f7c4c7"/>
<rect x="464.66" y="111.00" width="6.10" height="4.73" fill="#6c72c0"/>
<rect x="234.50" y="115.39" width="6.10" height="4.73" fill="#3a48a8"/>
<rect x="240.25" y="115.39" width="6.10" height="4.73" fill="#3a48a8"/>
<rect x="246.01" y="115.39" width="6.10" height="4.73" fill="#6c72c0"/>
<rect x="251.76" y="115.39" width="6.10" height="4.73" fill="#3a48a8"/>
<rect x="257.52" y="115.39" width="6.10" height="4.73" fill="#ea2229"/>
<rect x="263.27" y="115.39" width="6.10" height="4.73" fill="#ea2229"/>
<rect x="269.02" y="115.39" width="6.10" height="4.73" fill="#b5b8e0"/>
<rect x="274.78" y="115.39" width="6.10" height="4.73" fill="#f6f3f6"/>
<rect x="280.53" y="115.39" width="6.10" height="4.73" fill="#ea2229"/>
<rect x="286.29" y="115.39" width="6.10" height="4.73" fill="#ef7a80"/>
<rect x="292.04" y="115.39" width="6.10" height="4.73" fill="#ef7a80"/>
<rect x="297.79" y="115.39" width="6.10" height="4.73" fill="#f7c4c7"/>
<rect x="303.55" y="115.39" width="6.10" height="4.73" fill="#f6f3f6"/>
<rect x="309.30" y="115.39" width="6.10" height="4.73" fill="#ea2229"/>
<rect x="315.06" y="115.39" width="6.10" height="4.73" fill="#f6f3f6"/>
<rect x="320.81" y="115.39" width="6.10" height="4.73" fill="#f7c4c7"/>
<rect x="326.56" y="115.39" width="6.10" height="4.73" fill="#ea2229"/>
<rect x="332.32" y="115.39" width="6.10" height="4.73" fill="#f6f3f6"/>
<rect x="338.07" y="115.39" width="6.10" height="4.73" fill="#f7c4c7"/>
<rect x="343.83" y="115.39" width="6.10" height="4.73" fill="#f6f3f6"/>
<rect x="349.58" y="115.39" width="6.10" height="4.73" fill="#f6f3f6"/>
<rect x="355.33" y="115.39" width="6.10" height="4.73" fill="#ef7a80"/>
<rect x="361.09" y="115.39" width="6.10" height="4.73" fill="#b5b8e0"/>
<rect x="366.84" y="115.39" width="6.10" height="4.73" fill="#ea2229"/>
<rect x="372.60" y="115.39" width="6.10" height="4.73" fill="#b5b8e0"/>
<rect x="378.35" y="115.39" width="6.10" height="4.73" fill="#f7c4c7"/>
<rect x="384.10" y="115.39" width="6.10" height="4.73" fill="#6c72c0"/>
<rect x="389.86" y="115.39" width="6.10" height="4.73" fill="#3a48a8"/>
<rect x="395.61" y="115.39" width="6.10" height="4.73" fill="#6c72c0"/>
<rect x="401.37" y="115.39" width="6.10" height="4.73" fill="#b5b8e0"/>
<rect x="407.12" y="115.39" width="6.10" height="4.73" fill="#b5b8e0"/>
<rect x="412.87" y="115.39" width="6.10" height="4.73" fill="#b5b8e0"/>
<rect x="418.63" y="115.39" width="6.10" height="4.73" fill="#f6f3f6"/>
<rect x="424.38" y="115.39" width="6.10" height="4.73" fill="#b5b8e0"/>
<rect x="430.14" y="115.39" width="6.10" height="4.73" fill="#f6f3f6"/>
<rect x="435.89" y="115.39" width="6.10" height="4.73" fill="#6c72c0"/>
<rect x="441.64" y="115.39" width="6.10" height="4.73" fill="#f6f3f6"/>
<rect x="447.40" y="115.39" width="6.10" height="4.73" fill="#b5b8e0"/>
<rect x="453.15" y="115.39" width="6.10" height="4.73" fill="#f6f3f6"/>
<rect x="458.91" y="115.39" width="6.10" height="4.73" fill="#b5b8e0"/>
<rect x="464.66" y="115.39" width="6.10" height="4.73" fill="#6c72c0"/>
<rect x="234.50" y="119.77" width="6.10" height="4.73" fill="#f6f3f6"/>
<rect x="240.25" y="119.77" width="6.10" height="4.73" fill="#ea2229"/>
<rect x="246.01" y="119.77" width="6.10" height="4.73" fill="#f6f3f6"/>
<rect x="251.76" y="119.77" width="6.10" height="4.73" fill="#f7c4c7"/>
<rect x="257.52" y="119.77" width="6.10" height="4.73" fill="#ea2229"/>
<rect x="263.27" y="119.77" width="6.10" height="4.73" fill="#ea2229"/>
<rect x="269.02" y="119.77" width="6.10" height="4.73" fill="#f7c4c7"/>
<rect x="274.78" y="119.77" width="6.10" height="4.73" fill="#f7c4c7"/>
<rect x="280.53" y="119.77" width="6.10" height="4.73" fill="#f6f3f6"/>
<rect x="286.29" y="119.77" width="6.10" height="4.73" fill="#b5b8e0"/>
<rect x="292.04" y="119.77" width="6.10" height="4.73" fill="#b5b8e0"/>
<rect x="297.79" y="119.77" width="6.10" height="4.73" fill="#b5b8e0"/>
<rect x="303.55" y="119.77" width="6.10" height="4.73" fill="#f6f3f6"/>
<rect x="309.30" y="119.77" width="6.10" height="4.73" fill="#3a48a8"/>
<rect x="315.06" y="119.77" width="6.10" height="4.73" fill="#b5b8e0"/>
<rect x="320.81" y="119.77" width="6.10" height="4.73" fill="#3a48a8"/>
<rect x="326.56" y="119.77" width="6.10" height="4.73" fill="#b5b8e0"/>
<rect x="332.32" y="119.77" width="6.10" height="4.73" fill="#f7c4c7"/>
<rect x="338.07" y="119.77" width="6.10" height="4.73" fill="#b5b8e0"/>
<rect x="343.83" y="119.77" width="6.10" height="4.73" fill="#f6f3f6"/>
<rect x="349.58" y="119.77" width="6.10" height="4.73" fill="#ef7a80"/>
<rect x="355.33" y="119.77" width="6.10" height="4.73" fill="#f7c4c7"/>
<rect x="361.09" y="119.77" width="6.10" height="4.73" fill="#b5b8e0"/>
<rect x="366.84" y="119.77" width="6.10" height="4.73" fill="#f6f3f6"/>
<rect x="372.60" y="119.77" width="6.10" height="4.73" fill="#f7c4c7"/>
<rect x="378.35" y="119.77" width="6.10" height="4.73" fill="#f6f3f6"/>
<rect x="384.10" y="119.77" width="6.10" height="4.73" fill="#3a48a8"/>
<rect x="389.86" y="119.77" width="6.10" height="4.73" fill="#b5b8e0"/>
<rect x="395.61" y="119.77" width="6.10" height="4.73" fill="#b5b8e0"/>
<rect x="401.37" y="119.77" width="6.10" height="4.73" fill="#f6f3f6"/>
<rect x="407.12" y="119.77" width="6.10" height="4.73" fill="#3a48a8"/>
<rect x="412.87" y="119.77" width="6.10" height="4.73" fill="#ea2229"/>
<rect x="418.63" y="119.77" width="6.10" height="4.73" fill="#6c72c0"/>
<rect x="424.38" y="119.77" width="6.10" height="4.73" fill="#b5b8e0"/>
<rect x="430.14" y="119.77" width="6.10" height="4.73" fill="#ea2229"/>
<rect x="435.89" y="119.77" width="6.10" height="4.73" fill="#6c72c0"/>
<rect x="441.64" y="119.77" width="6.10" height="4.73" fill="#3a48a8"/>
<rect x="447.40" y="119.77" width="6.10" height="4.73" fill="#6c72c0"/>
<rect x="453.15" y="119.77" width="6.10" height="4.73" fill="#f6f3f6"/>
<rect x="458.91" y="119.77" width="6.10" height="4.73" fill="#b5b8e0"/>
<rect x="464.66" y="119.77" width="6.10" height="4.73" fill="#6c72c0"/>
<rect x="234.50" y="124.16" width="6.10" height="4.73" fill="#6c72c0"/>
<rect x="240.25" y="124.16" width="6.10" height="4.73" fill="#6c72c0"/>
<rect x="246.01" y="124.16" width="6.10" height="4.73" fill="#b5b8e0"/>
<rect x="251.76" y="124.16" width="6.10" height="4.73" fill="#b5b8e0"/>
<rect x="257.52" y="124.16" width="6.10" height="4.73" fill="#ea2229"/>
<rect x="263.27" y="124.16" width="6.10" height="4.73" fill="#ea2229"/>
<rect x="269.02" y="124.16" width="6.10" height="4.73" fill="#f7c4c7"/>
<rect x="274.78" y="124.16" width="6.10" height="4.73" fill="#ea2229"/>
<rect x="280.53" y="124.16" width="6.10" height="4.73" fill="#f6f3f6"/>
<rect x="286.29" y="124.16" width="6.10" height="4.73" fill="#6c72c0"/>
<rect x="292.04" y="124.16" width="6.10" height="4.73" fill="#f6f3f6"/>
<rect x="297.79" y="124.16" width="6.10" height="4.73" fill="#6c72c0"/>
<rect x="303.55" y="124.16" width="6.10" height="4.73" fill="#f6f3f6"/>
<rect x="309.30" y="124.16" width="6.10" height="4.73" fill="#f7c4c7"/>
<rect x="315.06" y="124.16" width="6.10" height="4.73" fill="#b5b8e0"/>
<rect x="320.81" y="124.16" width="6.10" height="4.73" fill="#f7c4c7"/>
<rect x="326.56" y="124.16" width="6.10" height="4.73" fill="#f6f3f6"/>
<rect x="332.32" y="124.16" width="6.10" height="4.73" fill="#f7c4c7"/>
<rect x="338.07" y="124.16" width="6.10" height="4.73" fill="#b5b8e0"/>
<rect x="343.83" y="124.16" width="6.10" height="4.73" fill="#3a48a8"/>
<rect x="349.58" y="124.16" width="6.10" height="4.73" fill="#ef7a80"/>
<rect x="355.33" y="124.16" width="6.10" height="4.73" fill="#b5b8e0"/>
<rect x="361.09" y="124.16" width="6.10" height="4.73" fill="#6c72c0"/>
<rect x="366.84" y="124.16" width="6.10" height="4.73" fill="#b5b8e0"/>
<rect x="372.60" y="124.16" width="6.10" height="4.73" fill="#ef7a80"/>
<rect x="378.35" y="124.16" width="6.10" height="4.73" fill="#6c72c0"/>
<rect x="384.10" y="124.16" width="6.10" height="4.73" fill="#b5b8e0"/>
<rect x="389.86" y="124.16" width="6.10" height="4.73" fill="#f7c4c7"/>
<rect x="395.61" y="124.16" width="6.10" height="4.73" fill="#b5b8e0"/>
<rect x="401.37" y="124.16" width="6.10" height="4.73" fill="#f7c4c7"/>
<rect x="407.12" y="124.16" width="6.10" height="4.73" fill="#f7c4c7"/>
<rect x="412.87" y="124.16" width="6.10" height="4.73" fill="#ea2229"/>
<rect x="418.63" y="124.16" width="6.10" height="4.73" fill="#f6f3f6"/>
<rect x="424.38" y="124.16" width="6.10" height="4.73" fill="#ef7a80"/>
<rect x="430.14" y="124.16" width="6.10" height="4.73" fill="#f7c4c7"/>
<rect x="435.89" y="124.16" width="6.10" height="4.73" fill="#6c72c0"/>
<rect x="441.64" y="124.16" width="6.10" height="4.73" fill="#6c72c0"/>
<rect x="447.40" y="124.16" width="6.10" height="4.73" fill="#6c72c0"/>
<rect x="453.15" y="124.16" width="6.10" height="4.73" fill="#b5b8e0"/>
<rect x="458.91" y="124.16" width="6.10" height="4.73" fill="#b5b8e0"/>
<rect x="464.66" y="124.16" width="6.10" height="4.73" fill="#b5b8e0"/>
<rect x="234.50" y="128.55" width="6.10" height="4.73" fill="#b5b8e0"/>
<rect x="240.25" y="128.55" width="6.10" height="4.73" fill="#b5b8e0"/>
<rect x="246.01" y="128.55" width="6.10" height="4.73" fill="#b5b8e0"/>
<rect x="251.76" y="128.55" width="6.10" height="4.73" fill="#b5b8e0"/>
<rect x="257.52" y="128.55" width="6.10" height="4.73" fill="#ea2229"/>
<rect x="263.27" y="128.55" width="6.10" height="4.73" fill="#ea2229"/>
<rect x="269.02" y="128.55" width="6.10" height="4.73" fill="#f6f3f6"/>
<rect x="274.78" y="128.55" width="6.10" height="4.73" fill="#ef7a80"/>
<rect x="280.53" y="128.55" width="6.10" height="4.73" fill="#f6f3f6"/>
<rect x="286.29" y="128.55" width="6.10" height="4.73" fill="#f7c4c7"/>
<rect x="292.04" y="128.55" width="6.10" height="4.73" fill="#f6f3f6"/>
<rect x="297.79" y="128.55" width="6.10" height="4.73" fill="#6c72c0"/>
<rect x="303.55" y="128.55" width="6.10" height="4.73" fill="#f6f3f6"/>
<rect x="309.30" y="128.55" width="6.10" height="4.73" fill="#6c72c0"/>
<rect x="315.06" y="128.55" width="6.10" height="4.73" fill="#f6f3f6"/>
<rect x="320.81" y="128.55" width="6.10" height="4.73" fill="#f7c4c7"/>
<rect x="326.56" y="128.55" width="6.10" height="4.73" fill="#b5b8e0"/>
<rect x="332.32" y="128.55" width="6.10" height="4.73" fill="#f7c4c7"/>
<rect x="338.07" y="128.55" width="6.10" height="4.73" fill="#f6f3f6"/>
<rect x="343.83" y="128.55" width="6.10" height="4.73" fill="#f6f3f6"/>
<rect x="349.58" y="128.55" width="6.10" height="4.73" fill="#f7c4c7"/>
<rect x="355.33" y="128.55" width="6.10" height="4.73" fill="#f7c4c7"/>
<rect x="361.09" y="128.55" width="6.10" height="4.73" fill="#b5b8e0"/>
<rect x="366.84" y="128.55" width="6.10" height="4.73" fill="#ef7a80"/>
<rect x="372.60" y="128.55" width="6.10" height="4.73" fill="#ef7a80"/>
<rect x="378.35" y="128.55" width="6.10" height="4.73" fill="#f6f3f6"/>
<rect x="384.10" y="128.55" width="6.10" height="4.73" fill="#b5b8e0"/>
<rect x="389.86" y="128.55" width="6.10" height="4.73" fill="#f6f3f6"/>
<rect x="395.61" y="128.55" width="6.10" height="4.73" fill="#b5b8e0"/>
<rect x="401.37" y="128.55" width="6.10" height="4.73" fill="#3a48a8"/>
<rect x="407.12" y="128.55" width="6.10" height="4.73" fill="#f6f3f6"/>
<rect x="412.87" y="128.55" width="6.10" height="4.73" fill="#ea2229"/>
<rect x="418.63" y="128.55" width="6.10" height="4.73" fill="#6c72c0"/>
<rect x="424.38" y="128.55" width="6.10" height="4.73" fill="#f7c4c7"/>
<rect x="430.14" y="128.55" width="6.10" height="4.73" fill="#b5b8e0"/>
<rect x="435.89" y="128.55" width="6.10" height="4.73" fill="#6c72c0"/>
<rect x="441.64" y="128.55" width="6.10" height="4.73" fill="#b5b8e0"/>
<rect x="447.40" y="128.55" width="6.10" height="4.73" fill="#b5b8e0"/>
<rect x="453.15" y="128.55" width="6.10" height="4.73" fill="#6c72c0"/>
<rect x="458.91" y="128.55" width="6.10" height="4.73" fill="#b5b8e0"/>
<rect x="464.66" y="128.55" width="6.10" height="4.73" fill="#6c72c0"/>
<rect x="234.50" y="132.93" width="6.10" height="4.73" fill="#f7c4c7"/>
<rect x="240.25" y="132.93" width="6.10" height="4.73" fill="#f6f3f6"/>
<rect x="246.01" y="132.93" width="6.10" height="4.73" fill="#ef7a80"/>
<rect x="251.76" y="132.93" width="6.10" height="4.73" fill="#ef7a80"/>
<rect x="257.52" y="132.93" width="6.10" height="4.73" fill="#ea2229"/>
<rect x="263.27" y="132.93" width="6.10" height="4.73" fill="#ea2229"/>
<rect x="269.02" y="132.93" width="6.10" height="4.73" fill="#f6f3f6"/>
<rect x="274.78" y="132.93" width="6.10" height="4.73" fill="#ef7a80"/>
<rect x="280.53" y="132.93" width="6.10" height="4.73" fill="#f7c4c7"/>
<rect x="286.29" y="132.93" width="6.10" height="4.73" fill="#f6f3f6"/>
<rect x="292.04" y="132.93" width="6.10" height="4.73" fill="#f6f3f6"/>
<rect x="297.79" y="132.93" width="6.10" height="4.73" fill="#f6f3f6"/>
<rect x="303.55" y="132.93" width="6.10" height="4.73" fill="#f7c4c7"/>
<rect x="309.30" y="132.93" width="6.10" height="4.73" fill="#b5b8e0"/>
<rect x="315.06" y="132.93" width="6.10" height="4.73" fill="#b5b8e0"/>
<rect x="320.81" y="132.93" width="6.10" height="4.73" fill="#f6f3f6"/>
<rect x="326.56" y="132.93" width="6.10" height="4.73" fill="#f7c4c7"/>
<rect x="332.32" y="132.93" width="6.10" height="4.73" fill="#b5b8e0"/>
<rect x="338.07" y="132.93" width="6.10" height="4.73" fill="#f6f3f6"/>
<rect x="343.83" y="132.93" width="6.10" height="4.73" fill="#f7c4c7"/>
<rect x="349.58" y="132.93" width="6.10" height="4.73" fill="#ea2229"/>
<rect x="355.33" y="132.93" width="6.10" height="4.73" fill="#f6f3f6"/>
<rect x="361.09" y="132.93" width="6.10" height="4.73" fill="#6c72c0"/>
<rect x="366.84" y="132.93" width="6.10" height="4.73" fill="#b5b8e0"/>
<rect x="372.60" y="132.93" width="6.10" height="4.73" fill="#b5b8e0"/>
<rect x="378.35" y="132.93" width="6.10" height="4.73" fill="#3a48a8"/>
<rect x="384.10" y="132.93" width="6.10" height="4.73" fill="#b5b8e0"/>
<rect x="389.86" y="132.93" width="6.10" height="4.73" fill="#b5b8e0"/>
<rect x="395.61" y="132.93" width="6.10" height="4.73" fill="#b5b8e0"/>
<rect x="401.37" y="132.93" width="6.10" height="4.73" fill="#3a48a8"/>
<rect x="407.12" y="132.93" width="6.10" height="4.73" fill="#3a48a8"/>
<rect x="412.87" y="132.93" width="6.10" height="4.73" fill="#f6f3f6"/>
<rect x="418.63" y="132.93" width="6.10" height="4.73" fill="#f6f3f6"/>
<rect x="424.38" y="132.93" width="6.10" height="4.73" fill="#f7c4c7"/>
<rect x="430.14" y="132.93" width="6.10" height="4.73" fill="#f7c4c7"/>
<rect x="435.89" y="132.93" width="6.10" height="4.73" fill="#3a48a8"/>
<rect x="441.64" y="132.93" width="6.10" height="4.73" fill="#6c72c0"/>
<rect x="447.40" y="132.93" width="6.10" height="4.73" fill="#6c72c0"/>
<rect x="453.15" y="132.93" width="6.10" height="4.73" fill="#b5b8e0"/>
<rect x="458.91" y="132.93" width="6.10" height="4.73" fill="#f6f3f6"/>
<rect x="464.66" y="132.93" width="6.10" height="4.73" fill="#3a48a8"/>
<rect x="234.50" y="137.31" width="6.10" height="4.73" fill="#f6f3f6"/>
<rect x="240.25" y="137.31" width="6.10" height="4.73" fill="#b5b8e0"/>
<rect x="246.01" y="137.31" width="6.10" height="4.73" fill="#b5b8e0"/>
<rect x="251.76" y="137.31" width="6.10" height="4.73" fill="#b5b8e0"/>
<rect x="257.52" y="137.31" width="6.10" height="4.73" fill="#ea2229"/>
<rect x="263.27" y="137.31" width="6.10" height="4.73" fill="#ea2229"/>
<rect x="269.02" y="137.31" width="6.10" height="4.73" fill="#f7c4c7"/>
<rect x="274.78" y="137.31" width="6.10" height="4.73" fill="#ef7a80"/>
<rect x="280.53" y="137.31" width="6.10" height="4.73" fill="#f7c4c7"/>
<rect x="286.29" y="137.31" width="6.10" height="4.73" fill="#f7c4c7"/>
<rect x="292.04" y="137.31" width="6.10" height="4.73" fill="#f7c4c7"/>
<rect x="297.79" y="137.31" width="6.10" height="4.73" fill="#f6f3f6"/>
<rect x="303.55" y="137.31" width="6.10" height="4.73" fill="#ef7a80"/>
<rect x="309.30" y="137.31" width="6.10" height="4.73" fill="#b5b8e0"/>
<rect x="315.06" y="137.31" width="6.10" height="4.73" fill="#f6f3f6"/>
<rect x="320.81" y="137.31" width="6.10" height="4.73" fill="#f7c4c7"/>
<rect x="326.56" y="137.31" width="6.10" height="4.73" fill="#ef7a80"/>
<rect x="332.32" y="137.31" width="6.10" height="4.73" fill="#f7c4c7"/>
<rect x="338.07" y="137.31" width="6.10" height="4.73" fill="#f7c4c7"/>
<rect x="343.83" y="137.31" width="6.10" height="4.73" fill="#f6f3f6"/>
<rect x="349.58" y="137.31" width="6.10" height="4.73" fill="#f7c4c7"/>
<rect x="355.33" y="137.31" width="6.10" height="4.73" fill="#f7c4c7"/>
<rect x="361.09" y="137.31" width="6.10" height="4.73" fill="#3a48a8"/>
<rect x="366.84" y="137.31" width="6.10" height="4.73" fill="#ea2229"/>
<rect x="372.60" y="137.31" width="6.10" height="4.73" fill="#f7c4c7"/>
<rect x="378.35" y="137.31" width="6.10" height="4.73" fill="#b5b8e0"/>
<rect x="384.10" y="137.31" width="6.10" height="4.73" fill="#6c72c0"/>
<rect x="389.86" y="137.31" width="6.10" height="4.73" fill="#b5b8e0"/>
<rect x="395.61" y="137.31" width="6.10" height="4.73" fill="#b5b8e0"/>
<rect x="401.37" y="137.31" width="6.10" height="4.73" fill="#3a48a8"/>
<rect x="407.12" y="137.31" width="6.10" height="4.73" fill="#3a48a8"/>
<rect x="412.87" y="137.31" width="6.10" height="4.73" fill="#6c72c0"/>
<rect x="418.63" y="137.31" width="6.10" height="4.73" fill="#b5b8e0"/>
<rect x="424.38" y="137.31" width="6.10" height="4.73" fill="#f6f3f6"/>
<rect x="430.14" y="137.31" width="6.10" height="4.73" fill="#b5b8e0"/>
<rect x="435.89" y="137.31" width="6.10" height="4.73" fill="#3a48a8"/>
<rect x="441.64" y="137.31" width="6.10" height="4.73" fill="#b5b8e0"/>
<rect x="447.40" y="137.31" width="6.10" height="4.73" fill="#6c72c0"/>
<rect x="453.15" y="137.31" width="6.10" height="4.73" fill="#f6f3f6"/>
<rect x="458.91" y="137.31" width="6.10" height="4.73" fill="#b5b8e0"/>
<rect x="464.66" y="137.31" width="6.10" height="4.73" fill="#b5b8e0"/>
<rect x="234.50" y="141.70" width="6.10" height="4.73" fill="#3a48a8"/>
<rect x="240.25" y="141.70" width="6.10" height="4.73" fill="#3a48a8"/>
<rect x="246.01" y="141.70" width="6.10" height="4.73" fill="#3a48a8"/>
<rect x="251.76" y="141.70" width="6.10" height="4.73" fill="#3a48a8"/>
<rect x="257.52" y="141.70" width="6.10" height="4.73" fill="#ea2229"/>
<rect x="263.27" y="141.70" width="6.10" height="4.73" fill="#ea2229"/>
<rect x="269.02" y="141.70" width="6.10" height="4.73" fill="#6c72c0"/>
<rect x="274.78" y="141.70" width="6.10" height="4.73" fill="#6c72c0"/>
<rect x="280.53" y="141.70" width="6.10" height="4.73" fill="#f7c4c7"/>
<rect x="286.29" y="141.70" width="6.10" height="4.73" fill="#f7c4c7"/>
<rect x="292.04" y="141.70" width="6.10" height="4.73" fill="#f6f3f6"/>
<rect x="297.79" y="141.70" width="6.10" height="4.73" fill="#b5b8e0"/>
<rect x="303.55" y="141.70" width="6.10" height="4.73" fill="#ef7a80"/>
<rect x="309.30" y="141.70" width="6.10" height="4.73" fill="#f6f3f6"/>
<rect x="315.06" y="141.70" width="6.10" height="4.73" fill="#f6f3f6"/>
<rect x="320.81" y="141.70" width="6.10" height="4.73" fill="#f7c4c7"/>
<rect x="326.56" y="141.70" width="6.10" height="4.73" fill="#f6f3f6"/>
<rect x="332.32" y="141.70" width="6.10" height="4.73" fill="#f7c4c7"/>
<rect x="338.07" y="141.70" width="6.10" height="4.73" fill="#f6f3f6"/>
<rect x="343.83" y="141.70" width="6.10" height="4.73" fill="#f6f3f6"/>
<rect x="349.58" y="141.70" width="6.10" height="4.73" fill="#f6f3f6"/>
<rect x="355.33" y="141.70" width="6.10" height="4.73" fill="#f6f3f6"/>
<rect x="361.09" y="141.70" width="6.10" height="4.73" fill="#f6f3f6"/>
<rect x="366.84" y="141.70" width="6.10" height="4.73" fill="#f6f3f6"/>
<rect x="372.60" y="141.70" width="6.10" height="4.73" fill="#f6f3f6"/>
<rect x="378.35" y="141.70" width="6.10" height="4.73" fill="#f6f3f6"/>
<rect x="384.10" y="141.70" width="6.10" height="4.73" fill="#b5b8e0"/>
<rect x="389.86" y="141.70" width="6.10" height="4.73" fill="#f6f3f6"/>
<rect x="395.61" y="141.70" width="6.10" height="4.73" fill="#b5b8e0"/>
<rect x="401.37" y="141.70" width="6.10" height="4.73" fill="#f6f3f6"/>
<rect x="407.12" y="141.70" width="6.10" height="4.73" fill="#b5b8e0"/>
<rect x="412.87" y="141.70" width="6.10" height="4.73" fill="#b5b8e0"/>
<rect x="418.63" y="141.70" width="6.10" height="4.73" fill="#f6f3f6"/>
<rect x="424.38" y="141.70" width="6.10" height="4.73" fill="#b5b8e0"/>
<rect x="430.14" y="141.70" width="6.10" height="4.73" fill="#f6f3f6"/>
<rect x="435.89" y="141.70" width="6.10" height="4.73" fill="#f6f3f6"/>
<rect x="441.64" y="141.70" width="6.10" height="4.73" fill="#f6f3f6"/>
<rect x="447.40" y="141.70" width="6.10" height="4.73" fill="#f6f3f6"/>
<rect x="453.15" y="141.70" width="6.10" height="4.73" fill="#b5b8e0"/>
<rect x="458.91" y="141.70" width="6.10" height="4.73" fill="#f6f3f6"/>
<rect x="464.66" y="141.70" width="6.10" height="4.73" fill="#ef7a80"/>
<rect x="234.50" y="146.08" width="6.10" height="4.73" fill="#3a48a8"/>
<rect x="240.25" y="146.08" width="6.10" height="4.73" fill="#b5b8e0"/>
<rect x="246.01" y="146.08" width="6.10" height="4.73" fill="#3a48a8"/>
<rect x="251.76" y="146.08" width="6.10" height="4.73" fill="#3a48a8"/>
<rect x="257.52" y="146.08" width="6.10" height="4.73" fill="#ea2229"/>
<rect x="263.27" y="146.08" width="6.10" height="4.73" fill="#ea2229"/>
<rect x="269.02" y="146.08" width="6.10" height="4.73" fill="#f7c4c7"/>
<rect x="274.78" y="146.08" width="6.10" height="4.73" fill="#ef7a80"/>
<rect x="280.53" y="146.08" width="6.10" height="4.73" fill="#f6f3f6"/>
<rect x="286.29" y="146.08" width="6.10" height="4.73" fill="#ef7a80"/>
<rect x="292.04" y="146.08" width="6.10" height="4.73" fill="#ef7a80"/>
<rect x="297.79" y="146.08" width="6.10" height="4.73" fill="#f6f3f6"/>
<rect x="303.55" y="146.08" width="6.10" height="4.73" fill="#f7c4c7"/>
<rect x="309.30" y="146.08" width="6.10" height="4.73" fill="#f7c4c7"/>
<rect x="315.06" y="146.08" width="6.10" height="4.73" fill="#f6f3f6"/>
<rect x="320.81" y="146.08" width="6.10" height="4.73" fill="#f7c4c7"/>
<rect x="326.56" y="146.08" width="6.10" height="4.73" fill="#ea2229"/>
<rect x="332.32" y="146.08" width="6.10" height="4.73" fill="#f6f3f6"/>
<rect x="338.07" y="146.08" width="6.10" height="4.73" fill="#f7c4c7"/>
<rect x="343.83" y="146.08" width="6.10" height="4.73" fill="#6c72c0"/>
<rect x="349.58" y="146.08" width="6.10" height="4.73" fill="#f7c4c7"/>
<rect x="355.33" y="146.08" width="6.10" height="4.73" fill="#ef7a80"/>
<rect x="361.09" y="146.08" width="6.10" height="4.73" fill="#ef7a80"/>
<rect x="366.84" y="146.08" width="6.10" height="4.73" fill="#ef7a80"/>
<rect x="372.60" y="146.08" width="6.10" height="4.73" fill="#f7c4c7"/>
<rect x="378.35" y="146.08" width="6.10" height="4.73" fill="#6c72c0"/>
<rect x="384.10" y="146.08" width="6.10" height="4.73" fill="#f6f3f6"/>
<rect x="389.86" y="146.08" width="6.10" height="4.73" fill="#f7c4c7"/>
<rect x="395.61" y="146.08" width="6.10" height="4.73" fill="#b5b8e0"/>
<rect x="401.37" y="146.08" width="6.10" height="4.73" fill="#6c72c0"/>
<rect x="407.12" y="146.08" width="6.10" height="4.73" fill="#f6f3f6"/>
<rect x="412.87" y="146.08" width="6.10" height="4.73" fill="#b5b8e0"/>
<rect x="418.63" y="146.08" width="6.10" height="4.73" fill="#f6f3f6"/>
<rect x="424.38" y="146.08" width="6.10" height="4.73" fill="#b5b8e0"/>
<rect x="430.14" y="146.08" width="6.10" height="4.73" fill="#ea2229"/>
<rect x="435.89" y="146.08" width="6.10" height="4.73" fill="#f7c4c7"/>
<rect x="441.64" y="146.08" width="6.10" height="4.73" fill="#3a48a8"/>
<rect x="447.40" y="146.08" width="6.10" height="4.73" fill="#b5b8e0"/>
<rect x="453.15" y="146.08" width="6.10" height="4.73" fill="#f6f3f6"/>
<rect x="458.91" y="146.08" width="6.10" height="4.73" fill="#6c72c0"/>
<rect x="464.66" y="146.08" width="6.10" height="4.73" fill="#f6f3f6"/>
<rect x="234.50" y="150.47" width="6.10" height="4.73" fill="#3a48a8"/>
<rect x="240.25" y="150.47" width="6.10" height="4.73" fill="#3a48a8"/>
<rect x="246.01" y="150.47" width="6.10" height="4.73" fill="#3a48a8"/>
<rect x="251.76" y="150.47" width="6.10" height="4.73" fill="#3a48a8"/>
<rect x="257.52" y="150.47" width="6.10" height="4.73" fill="#ea2229"/>
<rect x="263.27" y="150.47" width="6.10" height="4.73" fill="#ea2229"/>
<rect x="269.02" y="150.47" width="6.10" height="4.73" fill="#f7c4c7"/>
<rect x="274.78" y="150.47" width="6.10" height="4.73" fill="#ef7a80"/>
<rect x="280.53" y="150.47" width="6.10" height="4.73" fill="#f6f3f6"/>
<rect x="286.29" y="150.47" width="6.10" height="4.73" fill="#f7c4c7"/>
<rect x="292.04" y="150.47" width="6.10" height="4.73" fill="#f6f3f6"/>
<rect x="297.79" y="150.47" width="6.10" height="4.73" fill="#b5b8e0"/>
<rect x="303.55" y="150.47" width="6.10" height="4.73" fill="#f7c4c7"/>
<rect x="309.30" y="150.47" width="6.10" height="4.73" fill="#f6f3f6"/>
<rect x="315.06" y="150.47" width="6.10" height="4.73" fill="#b5b8e0"/>
<rect x="320.81" y="150.47" width="6.10" height="4.73" fill="#f6f3f6"/>
<rect x="326.56" y="150.47" width="6.10" height="4.73" fill="#f7c4c7"/>
<rect x="332.32" y="150.47" width="6.10" height="4.73" fill="#f6f3f6"/>
<rect x="338.07" y="150.47" width="6.10" height="4.73" fill="#f6f3f6"/>
<rect x="343.83" y="150.47" width="6.10" height="4.73" fill="#b5b8e0"/>
<rect x="349.58" y="150.47" width="6.10" height="4.73" fill="#f6f3f6"/>
<rect x="355.33" y="150.47" width="6.10" height="4.73" fill="#f6f3f6"/>
<rect x="361.09" y="150.47" width="6.10" height="4.73" fill="#b5b8e0"/>
<rect x="366.84" y="150.47" width="6.10" height="4.73" fill="#f6f3f6"/>
<rect x="372.60" y="150.47" width="6.10" height="4.73" fill="#f6f3f6"/>
<rect x="378.35" y="150.47" width="6.10" height="4.73" fill="#f6f3f6"/>
<rect x="384.10" y="150.47" width="6.10" height="4.73" fill="#f7c4c7"/>
<rect x="389.86" y="150.47" width="6.10" height="4.73" fill="#f6f3f6"/>
<rect x="395.61" y="150.47" width="6.10" height="4.73" fill="#ea2229"/>
<rect x="401.37" y="150.47" width="6.10" height="4.73" fill="#b5b8e0"/>
<rect x="407.12" y="150.47" width="6.10" height="4.73" fill="#6c72c0"/>
<rect x="412.87" y="150.47" width="6.10" height="4.73" fill="#ea2229"/>
<rect x="418.63" y="150.47" width="6.10" height="4.73" fill="#3a48a8"/>
<rect x="424.38" y="150.47" width="6.10" height="4.73" fill="#f7c4c7"/>
<rect x="430.14" y="150.47" width="6.10" height="4.73" fill="#f6f3f6"/>
<rect x="435.89" y="150.47" width="6.10" height="4.73" fill="#6c72c0"/>
<rect x="441.64" y="150.47" width="6.10" height="4.73" fill="#3a48a8"/>
<rect x="447.40" y="150.47" width="6.10" height="4.73" fill="#3a48a8"/>
<rect x="453.15" y="150.47" width="6.10" height="4.73" fill="#f6f3f6"/>
<rect x="458.91" y="150.47" width="6.10" height="4.73" fill="#6c72c0"/>
<rect x="464.66" y="150.47" width="6.10" height="4.73" fill="#f7c4c7"/>
<rect x="234.50" y="154.85" width="6.10" height="4.73" fill="#f6f3f6"/>
<rect x="240.25" y="154.85" width="6.10" height="4.73" fill="#f6f3f6"/>
<rect x="246.01" y="154.85" width="6.10" height="4.73" fill="#f7c4c7"/>
<rect x="251.76" y="154.85" width="6.10" height="4.73" fill="#f7c4c7"/>
<rect x="257.52" y="154.85" width="6.10" height="4.73" fill="#ea2229"/>
<rect x="263.27" y="154.85" width="6.10" height="4.73" fill="#ea2229"/>
<rect x="269.02" y="154.85" width="6.10" height="4.73" fill="#f7c4c7"/>
<rect x="274.78" y="154.85" width="6.10" height="4.73" fill="#ea2229"/>
<rect x="280.53" y="154.85" width="6.10" height="4.73" fill="#f7c4c7"/>
<rect x="286.29" y="154.85" width="6.10" height="4.73" fill="#f7c4c7"/>
<rect x="292.04" y="154.85" width="6.10" height="4.73" fill="#f6f3f6"/>
<rect x="297.79" y="154.85" width="6.10" height="4.73" fill="#b5b8e0"/>
<rect x="303.55" y="154.85" width="6.10" height="4.73" fill="#f7c4c7"/>
<rect x="309.30" y="154.85" width="6.10" height="4.73" fill="#f6f3f6"/>
<rect x="315.06" y="154.85" width="6.10" height="4.73" fill="#b5b8e0"/>
<rect x="320.81" y="154.85" width="6.10" height="4.73" fill="#f6f3f6"/>
<rect x="326.56" y="154.85" width="6.10" height="4.73" fill="#f7c4c7"/>
<rect x="332.32" y="154.85" width="6.10" height="4.73" fill="#f7c4c7"/>
<rect x="338.07" y="154.85" width="6.10" height="4.73" fill="#f6f3f6"/>
<rect x="343.83" y="154.85" width="6.10" height="4.73" fill="#f6f3f6"/>
<rect x="349.58" y="154.85" width="6.10" height="4.73" fill="#f6f3f6"/>
<rect x="355.33" y="154.85" width="6.10" height="4.73" fill="#f7c4c7"/>
<rect x="361.09" y="154.85" width="6.10" height="4.73" fill="#f6f3f6"/>
<rect x="366.84" y="154.85" width="6.10" height="4.73" fill="#f7c4c7"/>
<rect x="372.60" y="154.85" width="6.10" height="4.73" fill="#f6f3f6"/>
<rect x="378.35" y="154.85" width="6.10" height="4.73" fill="#3a48a8"/>
<rect x="384.10" y="154.85" width="6.10" height="4.73" fill="#b5b8e0"/>
<rect x="389.86" y="154.85" width="6.10" height="4.73" fill="#b5b8e0"/>
<rect x="395.61" y="154.85" width="6.10" height="4.73" fill="#f7c4c7"/>
<rect x="401.37" y="154.85" width="6.10" height="4.73" fill="#ef7a80"/>
<rect x="407.12" y="154.85" width="6.10" height="4.73" fill="#ea2229"/>
<rect x="412.87" y="154.85" width="6.10" height="4.73" fill="#f6f3f6"/>
<rect x="418.63" y="154.85" width="6.10" height="4.73" fill="#3a48a8"/>
<rect x="424.38" y="154.85" width="6.10" height="4.73" fill="#f7c4c7"/>
<rect x="430.14" y="154.85" width="6.10" height="4.73" fill="#f7c4c7"/>
<rect x="435.89" y="154.85" width="6.10" height="4.73" fill="#3a48a8"/>
<rect x="441.64" y="154.85" width="6.10" height="4.73" fill="#b5b8e0"/>
<rect x="447.40" y="154.85" width="6.10" height="4.73" fill="#3a48a8"/>
<rect x="453.15" y="154.85" width="6.10" height="4.73" fill="#f6f3f6"/>
<rect x="458.91" y="154.85" width="6.10" height="4.73" fill="#f7c4c7"/>
<rect x="464.66" y="154.85" width="6.10" height="4.73" fill="#3a48a8"/>
<rect x="234.50" y="159.24" width="6.10" height="4.73" fill="#3a48a8"/>
<rect x="240.25" y="159.24" width="6.10" height="4.73" fill="#3a48a8"/>
<rect x="246.01" y="159.24" width="6.10" height="4.73" fill="#3a48a8"/>
<rect x="251.76" y="159.24" width="6.10" height="4.73" fill="#3a48a8"/>
<rect x="257.52" y="159.24" width="6.10" height="4.73" fill="#f6f3f6"/>
<rect x="263.27" y="159.24" width="6.10" height="4.73" fill="#ef7a80"/>
<rect x="269.02" y="159.24" width="6.10" height="4.73" fill="#6c72c0"/>
<rect x="274.78" y="159.24" width="6.10" height="4.73" fill="#f7c4c7"/>
<rect x="280.53" y="159.24" width="6.10" height="4.73" fill="#f7c4c7"/>
<rect x="286.29" y="159.24" width="6.10" height="4.73" fill="#ef7a80"/>
<rect x="292.04" y="159.24" width="6.10" height="4.73" fill="#f7c4c7"/>
<rect x="297.79" y="159.24" width="6.10" height="4.73" fill="#f7c4c7"/>
<rect x="303.55" y="159.24" width="6.10" height="4.73" fill="#ef7a80"/>
<rect x="309.30" y="159.24" width="6.10" height="4.73" fill="#ef7a80"/>
<rect x="315.06" y="159.24" width="6.10" height="4.73" fill="#f6f3f6"/>
<rect x="320.81" y="159.24" width="6.10" height="4.73" fill="#ef7a80"/>
<rect x="326.56" y="159.24" width="6.10" height="4.73" fill="#f7c4c7"/>
<rect x="332.32" y="159.24" width="6.10" height="4.73" fill="#ef7a80"/>
<rect x="338.07" y="159.24" width="6.10" height="4.73" fill="#f7c4c7"/>
<rect x="343.83" y="159.24" width="6.10" height="4.73" fill="#f6f3f6"/>
<rect x="349.58" y="159.24" width="6.10" height="4.73" fill="#f6f3f6"/>
<rect x="355.33" y="159.24" width="6.10" height="4.73" fill="#f7c4c7"/>
<rect x="361.09" y="159.24" width="6.10" height="4.73" fill="#f6f3f6"/>
<rect x="366.84" y="159.24" width="6.10" height="4.73" fill="#f7c4c7"/>
<rect x="372.60" y="159.24" width="6.10" height="4.73" fill="#b5b8e0"/>
<rect x="378.35" y="159.24" width="6.10" height="4.73" fill="#f6f3f6"/>
<rect x="384.10" y="159.24" width="6.10" height="4.73" fill="#f7c4c7"/>
<rect x="389.86" y="159.24" width="6.10" height="4.73" fill="#f6f3f6"/>
<rect x="395.61" y="159.24" width="6.10" height="4.73" fill="#b5b8e0"/>
<rect x="401.37" y="159.24" width="6.10" height="4.73" fill="#6c72c0"/>
<rect x="407.12" y="159.24" width="6.10" height="4.73" fill="#ef7a80"/>
<rect x="412.87" y="159.24" width="6.10" height="4.73" fill="#f6f3f6"/>
<rect x="418.63" y="159.24" width="6.10" height="4.73" fill="#ef7a80"/>
<rect x="424.38" y="159.24" width="6.10" height="4.73" fill="#f6f3f6"/>
<rect x="430.14" y="159.24" width="6.10" height="4.73" fill="#b5b8e0"/>
<rect x="435.89" y="159.24" width="6.10" height="4.73" fill="#f6f3f6"/>
<rect x="441.64" y="159.24" width="6.10" height="4.73" fill="#b5b8e0"/>
<rect x="447.40" y="159.24" width="6.10" height="4.73" fill="#3a48a8"/>
<rect x="453.15" y="159.24" width="6.10" height="4.73" fill="#f6f3f6"/>
<rect x="458.91" y="159.24" width="6.10" height="4.73" fill="#f6f3f6"/>
<rect x="464.66" y="159.24" width="6.10" height="4.73" fill="#b5b8e0"/>
<rect x="234.50" y="163.62" width="6.10" height="4.73" fill="#3a48a8"/>
<rect x="240.25" y="163.62" width="6.10" height="4.73" fill="#3a48a8"/>
<rect x="246.01" y="163.62" width="6.10" height="4.73" fill="#3a48a8"/>
<rect x="251.76" y="163.62" width="6.10" height="4.73" fill="#3a48a8"/>
<rect x="257.52" y="163.62" width="6.10" height="4.73" fill="#ea2229"/>
<rect x="263.27" y="163.62" width="6.10" height="4.73" fill="#ef7a80"/>
<rect x="269.02" y="163.62" width="6.10" height="4.73" fill="#f7c4c7"/>
<rect x="274.78" y="163.62" width="6.10" height="4.73" fill="#ea2229"/>
<rect x="280.53" y="163.62" width="6.10" height="4.73" fill="#b5b8e0"/>
<rect x="286.29" y="163.62" width="6.10" height="4.73" fill="#f7c4c7"/>
<rect x="292.04" y="163.62" width="6.10" height="4.73" fill="#ef7a80"/>
<rect x="297.79" y="163.62" width="6.10" height="4.73" fill="#f7c4c7"/>
<rect x="303.55" y="163.62" width="6.10" height="4.73" fill="#f7c4c7"/>
<rect x="309.30" y="163.62" width="6.10" height="4.73" fill="#f6f3f6"/>
<rect x="315.06" y="163.62" width="6.10" height="4.73" fill="#f6f3f6"/>
<rect x="320.81" y="163.62" width="6.10" height="4.73" fill="#f7c4c7"/>
<rect x="326.56" y="163.62" width="6.10" height="4.73" fill="#f6f3f6"/>
<rect x="332.32" y="163.62" width="6.10" height="4.73" fill="#b5b8e0"/>
<rect x="338.07" y="163.62" width="6.10" height="4.73" fill="#f6f3f6"/>
<rect x="343.83" y="163.62" width="6.10" height="4.73" fill="#f6f3f6"/>
<rect x="349.58" y="163.62" width="6.10" height="4.73" fill="#3a48a8"/>
<rect x="355.33" y="163.62" width="6.10" height="4.73" fill="#f6f3f6"/>
<rect x="361.09" y="163.62" width="6.10" height="4.73" fill="#b5b8e0"/>
<rect x="366.84" y="163.62" width="6.10" height="4.73" fill="#f7c4c7"/>
<rect x="372.60" y="163.62" width="6.10" height="4.73" fill="#f7c4c7"/>
<rect x="378.35" y="163.62" width="6.10" height="4.73" fill="#f6f3f6"/>
<rect x="384.10" y="163.62" width="6.10" height="4.73" fill="#6c72c0"/>
<rect x="389.86" y="163.62" width="6.10" height="4.73" fill="#f6f3f6"/>
<rect x="395.61" y="163.62" width="6.10" height="4.73" fill="#6c72c0"/>
<rect x="401.37" y="163.62" width="6.10" height="4.73" fill="#b5b8e0"/>
<rect x="407.12" y="163.62" width="6.10" height="4.73" fill="#6c72c0"/>
<rect x="412.87" y="163.62" width="6.10" height="4.73" fill="#f6f3f6"/>
<rect x="418.63" y="163.62" width="6.10" height="4.73" fill="#ef7a80"/>
<rect x="424.38" y="163.62" width="6.10" height="4.73" fill="#ea2229"/>
<rect x="430.14" y="163.62" width="6.10" height="4.73" fill="#b5b8e0"/>
<rect x="435.89" y="163.62" width="6.10" height="4.73" fill="#6c72c0"/>
<rect x="441.64" y="163.62" width="6.10" height="4.73" fill="#6c72c0"/>
<rect x="447.40" y="163.62" width="6.10" height="4.73" fill="#f7c4c7"/>
<rect x="453.15" y="163.62" width="6.10" height="4.73" fill="#6c72c0"/>
<rect x="458.91" y="163.62" width="6.10" height="4.73" fill="#f7c4c7"/>
<rect x="464.66" y="163.62" width="6.10" height="4.73" fill="#6c72c0"/>
<rect x="234.50" y="168.01" width="6.10" height="4.73" fill="#3a48a8"/>
<rect x="240.25" y="168.01" width="6.10" height="4.73" fill="#3a48a8"/>
<rect x="246.01" y="168.01" width="6.10" height="4.73" fill="#3a48a8"/>
<rect x="251.76" y="168.01" width="6.10" height="4.73" fill="#3a48a8"/>
<rect x="257.52" y="168.01" width="6.10" height="4.73" fill="#ea2229"/>
<rect x="263.27" y="168.01" width="6.10" height="4.73" fill="#ea2229"/>
<rect x="269.02" y="168.01" width="6.10" height="4.73" fill="#f7c4c7"/>
<rect x="274.78" y="168.01" width="6.10" height="4.73" fill="#f7c4c7"/>
<rect x="280.53" y="168.01" width="6.10" height="4.73" fill="#f7c4c7"/>
<rect x="286.29" y="168.01" width="6.10" height="4.73" fill="#f7c4c7"/>
<rect x="292.04" y="168.01" width="6.10" height="4.73" fill="#f7c4c7"/>
<rect x="297.79" y="168.01" width="6.10" height="4.73" fill="#f7c4c7"/>
<rect x="303.55" y="168.01" width="6.10" height="4.73" fill="#ef7a80"/>
<rect x="309.30" y="168.01" width="6.10" height="4.73" fill="#f6f3f6"/>
<rect x="315.06" y="168.01" width="6.10" height="4.73" fill="#f6f3f6"/>
<rect x="320.81" y="168.01" width="6.10" height="4.73" fill="#f7c4c7"/>
<rect x="326.56" y="168.01" width="6.10" height="4.73" fill="#f6f3f6"/>
<rect x="332.32" y="168.01" width="6.10" height="4.73" fill="#f7c4c7"/>
<rect x="338.07" y="168.01" width="6.10" height="4.73" fill="#ef7a80"/>
<rect x="343.83" y="168.01" width="6.10" height="4.73" fill="#f6f3f6"/>
<rect x="349.58" y="168.01" width="6.10" height="4.73" fill="#f6f3f6"/>
<rect x="355.33" y="168.01" width="6.10" height="4.73" fill="#f6f3f6"/>
<rect x="361.09" y="168.01" width="6.10" height="4.73" fill="#6c72c0"/>
<rect x="366.84" y="168.01" width="6.10" height="4.73" fill="#f7c4c7"/>
<rect x="372.60" y="168.01" width="6.10" height="4.73" fill="#f6f3f6"/>
<rect x="378.35" y="168.01" width="6.10" height="4.73" fill="#f6f3f6"/>
<rect x="384.10" y="168.01" width="6.10" height="4.73" fill="#b5b8e0"/>
<rect x="389.86" y="168.01" width="6.10" height="4.73" fill="#f6f3f6"/>
<rect x="395.61" y="168.01" width="6.10" height="4.73" fill="#f7c4c7"/>
<rect x="401.37" y="168.01" width="6.10" height="4.73" fill="#f7c4c7"/>
<rect x="407.12" y="168.01" width="6.10" height="4.73" fill="#b5b8e0"/>
<rect x="412.87" y="168.01" width="6.10" height="4.73" fill="#f6f3f6"/>
<rect x="418.63" y="168.01" width="6.10" height="4.73" fill="#ef7a80"/>
<rect x="424.38" y="168.01" width="6.10" height="4.73" fill="#f7c4c7"/>
<rect x="430.14" y="168.01" width="6.10" height="4.73" fill="#f6f3f6"/>
<rect x="435.89" y="168.01" width="6.10" height="4.73" fill="#b5b8e0"/>
<rect x="441.64" y="168.01" width="6.10" height="4.73" fill="#6c72c0"/>
<rect x="447.40" y="168.01" width="6.10" height="4.73" fill="#f6f3f6"/>
<rect x="453.15" y="168.01" width="6.10" height="4.73" fill="#b5b8e0"/>
<rect x="458.91" y="168.01" width="6.10" height="4.73" fill="#b5b8e0"/>
<rect x="464.66" y="168.01" width="6.10" height="4.73" fill="#f6f3f6"/>
<rect x="234.50" y="172.39" width="6.10" height="4.73" fill="#f6f3f6"/>
<rect x="240.25" y="172.39" width="6.10" height="4.73" fill="#f6f3f6"/>
<rect x="246.01" y="172.39" width="6.10" height="4.73" fill="#f6f3f6"/>
<rect x="251.76" y="172.39" width="6.10" height="4.73" fill="#f6f3f6"/>
<rect x="257.52" y="172.39" width="6.10" height="4.73" fill="#ea2229"/>
<rect x="263.27" y="172.39" width="6.10" height="4.73" fill="#ea2229"/>
<rect x="269.02" y="172.39" width="6.10" height="4.73" fill="#ea2229"/>
<rect x="274.78" y="172.39" width="6.10" height="4.73" fill="#f7c4c7"/>
<rect x="280.53" y="172.39" width="6.10" height="4.73" fill="#f7c4c7"/>
<rect x="286.29" y="172.39" width="6.10" height="4.73" fill="#b5b8e0"/>
<rect x="292.04" y="172.39" width="6.10" height="4.73" fill="#f6f3f6"/>
<rect x="297.79" y="172.39" width="6.10" height="4.73" fill="#f6f3f6"/>
<rect x="303.55" y="172.39" width="6.10" height="4.73" fill="#f7c4c7"/>
<rect x="309.30" y="172.39" width="6.10" height="4.73" fill="#b5b8e0"/>
<rect x="315.06" y="172.39" width="6.10" height="4.73" fill="#f6f3f6"/>
<rect x="320.81" y="172.39" width="6.10" height="4.73" fill="#ea2229"/>
<rect x="326.56" y="172.39" width="6.10" height="4.73" fill="#b5b8e0"/>
<rect x="332.32" y="172.39" width="6.10" height="4.73" fill="#f7c4c7"/>
<rect x="338.07" y="172.39" width="6.10" height="4.73" fill="#3a48a8"/>
<rect x="343.83" y="172.39" width="6.10" height="4.73" fill="#b5b8e0"/>
<rect x="349.58" y="172.39" width="6.10" height="4.73" fill="#f6f3f6"/>
<rect x="355.33" y="172.39" width="6.10" height="4.73" fill="#6c72c0"/>
<rect x="361.09" y="172.39" width="6.10" height="4.73" fill="#6c72c0"/>
<rect x="366.84" y="172.39" width="6.10" height="4.73" fill="#b5b8e0"/>
<rect x="372.60" y="172.39" width="6.10" height="4.73" fill="#f6f3f6"/>
<rect x="378.35" y="172.39" width="6.10" height="4.73" fill="#f6f3f6"/>
<rect x="384.10" y="172.39" width="6.10" height="4.73" fill="#ef7a80"/>
<rect x="389.86" y="172.39" width="6.10" height="4.73" fill="#6c72c0"/>
<rect x="395.61" y="172.39" width="6.10" height="4.73" fill="#f6f3f6"/>
<rect x="401.37" y="172.39" width="6.10" height="4.73" fill="#3a48a8"/>
<rect x="407.12" y="172.39" width="6.10" height="4.73" fill="#3a48a8"/>
<rect x="412.87" y="172.39" width="6.10" height="4.73" fill="#f6f3f6"/>
<rect x="418.63" y="172.39" width="6.10" height="4.73" fill="#3a48a8"/>
<rect x="424.38" y="172.39" width="6.10" height="4.73" fill="#f7c4c7"/>
<rect x="430.14" y="172.39" width="6.10" height="4.73" fill="#f6f3f6"/>
<rect x="435.89" y="172.39" width="6.10" height="4.73" fill="#f7c4c7"/>
<rect x="441.64" y="172.39" width="6.10" height="4.73" fill="#3a48a8"/>
<rect x="447.40" y="172.39" width="6.10" height="4.73" fill="#3a48a8"/>
<rect x="453.15" y="172.39" width="6.10" height="4.73" fill="#f7c4c7"/>
<rect x="458.91" y="172.39" width="6.10" height="4.73" fill="#b5b8e0"/>
<rect x="464.66" y="172.39" width="6.10" height="4.73" fill="#ef7a80"/>
<rect x="234.50" y="176.78" width="6.10" height="4.73" fill="#3a48a8"/>
<rect x="240.25" y="176.78" width="6.10" height="4.73" fill="#3a48a8"/>
<rect x="246.01" y="176.78" width="6.10" height="4.73" fill="#3a48a8"/>
<rect x="251.76" y="176.78" width="6.10" height="4.73" fill="#3a48a8"/>
<rect x="257.52" y="176.78" width="6.10" height="4.73" fill="#b5b8e0"/>
<rect x="263.27" y="176.78" width="6.10" height="4.73" fill="#f6f3f6"/>
<rect x="269.02" y="176.78" width="6.10" height="4.73" fill="#f7c4c7"/>
<rect x="274.78" y="176.78" width="6.10" height="4.73" fill="#f6f3f6"/>
<rect x="280.53" y="176.78" width="6.10" height="4.73" fill="#f7c4c7"/>
<rect x="286.29" y="176.78" width="6.10" height="4.73" fill="#f7c4c7"/>
<rect x="292.04" y="176.78" width="6.10" height="4.73" fill="#f6f3f6"/>
<rect x="297.79" y="176.78" width="6.10" height="4.73" fill="#f6f3f6"/>
<rect x="303.55" y="176.78" width="6.10" height="4.73" fill="#ef7a80"/>
<rect x="309.30" y="176.78" width="6.10" height="4.73" fill="#f6f3f6"/>
<rect x="315.06" y="176.78" width="6.10" height="4.73" fill="#ef7a80"/>
<rect x="320.81" y="176.78" width="6.10" height="4.73" fill="#ea2229"/>
<rect x="326.56" y="176.78" width="6.10" height="4.73" fill="#f6f3f6"/>
<rect x="332.32" y="176.78" width="6.10" height="4.73" fill="#ef7a80"/>
<rect x="338.07" y="176.78" width="6.10" height="4.73" fill="#ef7a80"/>
<rect x="343.83" y="176.78" width="6.10" height="4.73" fill="#f7c4c7"/>
<rect x="349.58" y="176.78" width="6.10" height="4.73" fill="#f6f3f6"/>
<rect x="355.33" y="176.78" width="6.10" height="4.73" fill="#ea2229"/>
<rect x="361.09" y="176.78" width="6.10" height="4.73" fill="#f7c4c7"/>
<rect x="366.84" y="176.78" width="6.10" height="4.73" fill="#ef7a80"/>
<rect x="372.60" y="176.78" width="6.10" height="4.73" fill="#f7c4c7"/>
<rect x="378.35" y="176.78" width="6.10" height="4.73" fill="#f6f3f6"/>
<rect x="384.10" y="176.78" width="6.10" height="4.73" fill="#f7c4c7"/>
<rect x="389.86" y="176.78" width="6.10" height="4.73" fill="#f7c4c7"/>
<rect x="395.61" y="176.78" width="6.10" height="4.73" fill="#b5b8e0"/>
<rect x="401.37" y="176.78" width="6.10" height="4.73" fill="#b5b8e0"/>
<rect x="407.12" y="176.78" width="6.10" height="4.73" fill="#6c72c0"/>
<rect x="412.87" y="176.78" width="6.10" height="4.73" fill="#f7c4c7"/>
<rect x="418.63" y="176.78" width="6.10" height="4.73" fill="#6c72c0"/>
<rect x="424.38" y="176.78" width="6.10" height="4.73" fill="#ef7a80"/>
<rect x="430.14" y="176.78" width="6.10" height="4.73" fill="#f6f3f6"/>
<rect x="435.89" y="176.78" width="6.10" height="4.73" fill="#f7c4c7"/>
<rect x="441.64" y="176.78" width="6.10" height="4.73" fill="#ef7a80"/>
<rect x="447.40" y="176.78" width="6.10" height="4.73" fill="#f6f3f6"/>
<rect x="453.15" y="176.78" width="6.10" height="4.73" fill="#ef7a80"/>
<rect x="458.91" y="176.78" width="6.10" height="4.73" fill="#f6f3f6"/>
<rect x="464.66" y="176.78" width="6.10" height="4.73" fill="#f6f3f6"/>
<rect x="234.50" y="181.16" width="6.10" height="4.73" fill="#3a48a8"/>
<rect x="240.25" y="181.16" width="6.10" height="4.73" fill="#3a48a8"/>
<rect x="246.01" y="181.16" width="6.10" height="4.73" fill="#3a48a8"/>
<rect x="251.76" y="181.16" width="6.10" height="4.73" fill="#3a48a8"/>
<rect x="257.52" y="181.16" width="6.10" height="4.73" fill="#f7c4c7"/>
<rect x="263.27" y="181.16" width="6.10" height="4.73" fill="#f7c4c7"/>
<rect x="269.02" y="181.16" width="6.10" height="4.73" fill="#3a48a8"/>
<rect x="274.78" y="181.16" width="6.10" height="4.73" fill="#3a48a8"/>
<rect x="280.53" y="181.16" width="6.10" height="4.73" fill="#f7c4c7"/>
<rect x="286.29" y="181.16" width="6.10" height="4.73" fill="#f7c4c7"/>
<rect x="292.04" y="181.16" width="6.10" height="4.73" fill="#ef7a80"/>
<rect x="297.79" y="181.16" width="6.10" height="4.73" fill="#ef7a80"/>
<rect x="303.55" y="181.16" width="6.10" height="4.73" fill="#f7c4c7"/>
<rect x="309.30" y="181.16" width="6.10" height="4.73" fill="#f7c4c7"/>
<rect x="315.06" y="181.16" width="6.10" height="4.73" fill="#f6f3f6"/>
<rect x="320.81" y="181.16" width="6.10" height="4.73" fill="#ef7a80"/>
<rect x="326.56" y="181.16" width="6.10" height="4.73" fill="#f7c4c7"/>
<rect x="332.32" y="181.16" width="6.10" height="4.73" fill="#f7c4c7"/>
<rect x="338.07" y="181.16" width="6.10" height="4.73" fill="#ef7a80"/>
<rect x="343.83" y="181.16" width="6.10" height="4.73" fill="#f7c4c7"/>
<rect x="349.58" y="181.16" width="6.10" height="4.73" fill="#f6f3f6"/>
<rect x="355.33" y="181.16" width="6.10" height="4.73" fill="#ef7a80"/>
<rect x="361.09" y="181.16" width="6.10" height="4.73" fill="#f6f3f6"/>
<rect x="366.84" y="181.16" width="6.10" height="4.73" fill="#f7c4c7"/>
<rect x="372.60" y="181.16" width="6.10" height="4.73" fill="#f7c4c7"/>
<rect x="378.35" y="181.16" width="6.10" height="4.73" fill="#f6f3f6"/>
<rect x="384.10" y="181.16" width="6.10" height="4.73" fill="#f7c4c7"/>
<rect x="389.86" y="181.16" width="6.10" height="4.73" fill="#ef7a80"/>
<rect x="395.61" y="181.16" width="6.10" height="4.73" fill="#b5b8e0"/>
<rect x="401.37" y="181.16" width="6.10" height="4.73" fill="#b5b8e0"/>
<rect x="407.12" y="181.16" width="6.10" height="4.73" fill="#b5b8e0"/>
<rect x="412.87" y="181.16" width="6.10" height="4.73" fill="#f6f3f6"/>
<rect x="418.63" y="181.16" width="6.10" height="4.73" fill="#b5b8e0"/>
<rect x="424.38" y="181.16" width="6.10" height="4.73" fill="#f7c4c7"/>
<rect x="430.14" y="181.16" width="6.10" height="4.73" fill="#f7c4c7"/>
<rect x="435.89" y="181.16" width="6.10" height="4.73" fill="#f6f3f6"/>
<rect x="441.64" y="181.16" width="6.10" height="4.73" fill="#f7c4c7"/>
<rect x="447.40" y="181.16" width="6.10" height="4.73" fill="#b5b8e0"/>
<rect x="453.15" y="181.16" width="6.10" height="4.73" fill="#f7c4c7"/>
<rect x="458.91" y="181.16" width="6.10" height="4.73" fill="#ea2229"/>
<rect x="464.66" y="181.16" width="6.10" height="4.73" fill="#f6f3f6"/>
<rect x="234.50" y="185.55" width="6.10" height="4.73" fill="#4b56b2"/>
<rect x="240.25" y="185.55" width="6.10" height="4.73" fill="#4b56b2"/>
<rect x="246.01" y="185.55" width="6.10" height="4.73" fill="#4b56b2"/>
<rect x="251.76" y="185.55" width="6.10" height="4.73" fill="#4b56b2"/>
<rect x="257.52" y="185.55" width="6.10" height="4.73" fill="#ea2229"/>
<rect x="263.27" y="185.55" width="6.10" height="4.73" fill="#ea2229"/>
<rect x="269.02" y="185.55" width="6.10" height="4.73" fill="#f7c4c7"/>
<rect x="274.78" y="185.55" width="6.10" height="4.73" fill="#ea2229"/>
<rect x="280.53" y="185.55" width="6.10" height="4.73" fill="#f7c4c7"/>
<rect x="286.29" y="185.55" width="6.10" height="4.73" fill="#f6f3f6"/>
<rect x="292.04" y="185.55" width="6.10" height="4.73" fill="#f6f3f6"/>
<rect x="297.79" y="185.55" width="6.10" height="4.73" fill="#f6f3f6"/>
<rect x="303.55" y="185.55" width="6.10" height="4.73" fill="#ef7a80"/>
<rect x="309.30" y="185.55" width="6.10" height="4.73" fill="#b5b8e0"/>
<rect x="315.06" y="185.55" width="6.10" height="4.73" fill="#f6f3f6"/>
<rect x="320.81" y="185.55" width="6.10" height="4.73" fill="#f7c4c7"/>
<rect x="326.56" y="185.55" width="6.10" height="4.73" fill="#b5b8e0"/>
<rect x="332.32" y="185.55" width="6.10" height="4.73" fill="#b5b8e0"/>
<rect x="338.07" y="185.55" width="6.10" height="4.73" fill="#f6f3f6"/>
<rect x="343.83" y="185.55" width="6.10" height="4.73" fill="#6c72c0"/>
<rect x="349.58" y="185.55" width="6.10" height="4.73" fill="#b5b8e0"/>
<rect x="355.33" y="185.55" width="6.10" height="4.73" fill="#f6f3f6"/>
<rect x="361.09" y="185.55" width="6.10" height="4.73" fill="#b5b8e0"/>
<rect x="366.84" y="185.55" width="6.10" height="4.73" fill="#b5b8e0"/>
<rect x="372.60" y="185.55" width="6.10" height="4.73" fill="#f7c4c7"/>
<rect x="378.35" y="185.55" width="6.10" height="4.73" fill="#f7c4c7"/>
<rect x="384.10" y="185.55" width="6.10" height="4.73" fill="#b5b8e0"/>
<rect x="389.86" y="185.55" width="6.10" height="4.73" fill="#ef7a80"/>
<rect x="395.61" y="185.55" width="6.10" height="4.73" fill="#f6f3f6"/>
<rect x="401.37" y="185.55" width="6.10" height="4.73" fill="#b5b8e0"/>
<rect x="407.12" y="185.55" width="6.10" height="4.73" fill="#f6f3f6"/>
<rect x="412.87" y="185.55" width="6.10" height="4.73" fill="#ef7a80"/>
<rect x="418.63" y="185.55" width="6.10" height="4.73" fill="#b5b8e0"/>
<rect x="424.38" y="185.55" width="6.10" height="4.73" fill="#f6f3f6"/>
<rect x="430.14" y="185.55" width="6.10" height="4.73" fill="#f7c4c7"/>
<rect x="435.89" y="185.55" width="6.10" height="4.73" fill="#b5b8e0"/>
<rect x="441.64" y="185.55" width="6.10" height="4.73" fill="#6c72c0"/>
<rect x="447.40" y="185.55" width="6.10" height="4.73" fill="#6c72c0"/>
<rect x="453.15" y="185.55" width="6.10" height="4.73" fill="#b5b8e0"/>
<rect x="458.91" y="185.55" width="6.10" height="4.73" fill="#6c72c0"/>
<rect x="464.66" y="185.55" width="6.10" height="4.73" fill="#6c72c0"/>
<rect x="234.50" y="189.94" width="6.10" height="4.73" fill="#b5b8e0"/>
<rect x="240.25" y="189.94" width="6.10" height="4.73" fill="#f6f3f6"/>
<rect x="246.01" y="189.94" width="6.10" height="4.73" fill="#f6f3f6"/>
<rect x="251.76" y="189.94" width="6.10" height="4.73" fill="#f6f3f6"/>
<rect x="257.52" y="189.94" width="6.10" height="4.73" fill="#ea2229"/>
<rect x="263.27" y="189.94" width="6.10" height="4.73" fill="#ea2229"/>
<rect x="269.02" y="189.94" width="6.10" height="4.73" fill="#f7c4c7"/>
<rect x="274.78" y="189.94" width="6.10" height="4.73" fill="#ea2229"/>
<rect x="280.53" y="189.94" width="6.10" height="4.73" fill="#f7c4c7"/>
<rect x="286.29" y="189.94" width="6.10" height="4.73" fill="#6c72c0"/>
<rect x="292.04" y="189.94" width="6.10" height="4.73" fill="#f6f3f6"/>
<rect x="297.79" y="189.94" width="6.10" height="4.73" fill="#f6f3f6"/>
<rect x="303.55" y="189.94" width="6.10" height="4.73" fill="#f6f3f6"/>
<rect x="309.30" y="189.94" width="6.10" height="4.73" fill="#f6f3f6"/>
<rect x="315.06" y="189.94" width="6.10" height="4.73" fill="#f7c4c7"/>
<rect x="320.81" y="189.94" width="6.10" height="4.73" fill="#b5b8e0"/>
<rect x="326.56" y="189.94" width="6.10" height="4.73" fill="#6c72c0"/>
<rect x="332.32" y="189.94" width="6.10" height="4.73" fill="#b5b8e0"/>
<rect x="338.07" y="189.94" width="6.10" height="4.73" fill="#f7c4c7"/>
<rect x="343.83" y="189.94" width="6.10" height="4.73" fill="#f7c4c7"/>
<rect x="349.58" y="189.94" width="6.10" height="4.73" fill="#f7c4c7"/>
<rect x="355.33" y="189.94" width="6.10" height="4.73" fill="#ef7a80"/>
<rect x="361.09" y="189.94" width="6.10" height="4.73" fill="#f6f3f6"/>
<rect x="366.84" y="189.94" width="6.10" height="4.73" fill="#ef7a80"/>
<rect x="372.60" y="189.94" width="6.10" height="4.73" fill="#f6f3f6"/>
<rect x="378.35" y="189.94" width="6.10" height="4.73" fill="#b5b8e0"/>
<rect x="384.10" y="189.94" width="6.10" height="4.73" fill="#f6f3f6"/>
<rect x="389.86" y="189.94" width="6.10" height="4.73" fill="#f7c4c7"/>
<rect x="395.61" y="189.94" width="6.10" height="4.73" fill="#f6f3f6"/>
<rect x="401.37" y="189.94" width="6.10" height="4.73" fill="#3a48a8"/>
<rect x="407.12" y="189.94" width="6.10" height="4.73" fill="#b5b8e0"/>
<rect x="412.87" y="189.94" width="6.10" height="4.73" fill="#b5b8e0"/>
<rect x="418.63" y="189.94" width="6.10" height="4.73" fill="#ea2229"/>
<rect x="424.38" y="189.94" width="6.10" height="4.73" fill="#ea2229"/>
<rect x="430.14" y="189.94" width="6.10" height="4.73" fill="#b5b8e0"/>
<rect x="435.89" y="189.94" width="6.10" height="4.73" fill="#b5b8e0"/>
<rect x="441.64" y="189.94" width="6.10" height="4.73" fill="#3a48a8"/>
<rect x="447.40" y="189.94" width="6.10" height="4.73" fill="#3a48a8"/>
<rect x="453.15" y="189.94" width="6.10" height="4.73" fill="#6c72c0"/>
<rect x="458.91" y="189.94" width="6.10" height="4.73" fill="#f6f3f6"/>
<rect x="464.66" y="189.94" width="6.10" height="4.73" fill="#3a48a8"/>
<rect x="234.50" y="194.32" width="6.10" height="4.73" fill="#b5b8e0"/>
<rect x="240.25" y="194.32" width="6.10" height="4.73" fill="#6c72c0"/>
<rect x="246.01" y="194.32" width="6.10" height="4.73" fill="#3a48a8"/>
<rect x="251.76" y="194.32" width="6.10" height="4.73" fill="#3a48a8"/>
<rect x="257.52" y="194.32" width="6.10" height="4.73" fill="#ea2229"/>
<rect x="263.27" y="194.32" width="6.10" height="4.73" fill="#ea2229"/>
<rect x="269.02" y="194.32" width="6.10" height="4.73" fill="#f7c4c7"/>
<rect x="274.78" y="194.32" width="6.10" height="4.73" fill="#ea2229"/>
<rect x="280.53" y="194.32" width="6.10" height="4.73" fill="#f6f3f6"/>
<rect x="286.29" y="194.32" width="6.10" height="4.73" fill="#f6f3f6"/>
<rect x="292.04" y="194.32" width="6.10" height="4.73" fill="#f7c4c7"/>
<rect x="297.79" y="194.32" width="6.10" height="4.73" fill="#f6f3f6"/>
<rect x="303.55" y="194.32" width="6.10" height="4.73" fill="#ef7a80"/>
<rect x="309.30" y="194.32" width="6.10" height="4.73" fill="#f7c4c7"/>
<rect x="315.06" y="194.32" width="6.10" height="4.73" fill="#b5b8e0"/>
<rect x="320.81" y="194.32" width="6.10" height="4.73" fill="#f6f3f6"/>
<rect x="326.56" y="194.32" width="6.10" height="4.73" fill="#b5b8e0"/>
<rect x="332.32" y="194.32" width="6.10" height="4.73" fill="#3a48a8"/>
<rect x="338.07" y="194.32" width="6.10" height="4.73" fill="#f6f3f6"/>
<rect x="343.83" y="194.32" width="6.10" height="4.73" fill="#f6f3f6"/>
<rect x="349.58" y="194.32" width="6.10" height="4.73" fill="#f6f3f6"/>
<rect x="355.33" y="194.32" width="6.10" height="4.73" fill="#b5b8e0"/>
<rect x="361.09" y="194.32" width="6.10" height="4.73" fill="#f6f3f6"/>
<rect x="366.84" y="194.32" width="6.10" height="4.73" fill="#f7c4c7"/>
<rect x="372.60" y="194.32" width="6.10" height="4.73" fill="#ef7a80"/>
<rect x="378.35" y="194.32" width="6.10" height="4.73" fill="#f6f3f6"/>
<rect x="384.10" y="194.32" width="6.10" height="4.73" fill="#f6f3f6"/>
<rect x="389.86" y="194.32" width="6.10" height="4.73" fill="#f6f3f6"/>
<rect x="395.61" y="194.32" width="6.10" height="4.73" fill="#f6f3f6"/>
<rect x="401.37" y="194.32" width="6.10" height="4.73" fill="#b5b8e0"/>
<rect x="407.12" y="194.32" width="6.10" height="4.73" fill="#3a48a8"/>
<rect x="412.87" y="194.32" width="6.10" height="4.73" fill="#6c72c0"/>
<rect x="418.63" y="194.32" width="6.10" height="4.73" fill="#f6f3f6"/>
<rect x="424.38" y="194.32" width="6.10" height="4.73" fill="#ef7a80"/>
<rect x="430.14" y="194.32" width="6.10" height="4.73" fill="#f6f3f6"/>
<rect x="435.89" y="194.32" width="6.10" height="4.73" fill="#6c72c0"/>
<rect x="441.64" y="194.32" width="6.10" height="4.73" fill="#b5b8e0"/>
<rect x="447.40" y="194.32" width="6.10" height="4.73" fill="#6c72c0"/>
<rect x="453.15" y="194.32" width="6.10" height="4.73" fill="#b5b8e0"/>
<rect x="458.91" y="194.32" width="6.10" height="4.73" fill="#f7c4c7"/>
<rect x="464.66" y="194.32" width="6.10" height="4.73" fill="#b5b8e0"/>
<rect x="234.50" y="198.70" width="6.10" height="4.73" fill="#3a48a8"/>
<rect x="240.25" y="198.70" width="6.10" height="4.73" fill="#b5b8e0"/>
<rect x="246.01" y="198.70" width="6.10" height="4.73" fill="#3a48a8"/>
<rect x="251.76" y="198.70" width="6.10" height="4.73" fill="#3a48a8"/>
<rect x="257.52" y="198.70" width="6.10" height="4.73" fill="#ea2229"/>
<rect x="263.27" y="198.70" width="6.10" height="4.73" fill="#f6f3f6"/>
<rect x="269.02" y="198.70" width="6.10" height="4.73" fill="#f7c4c7"/>
<rect x="274.78" y="198.70" width="6.10" height="4.73" fill="#ea2229"/>
<rect x="280.53" y="198.70" width="6.10" height="4.73" fill="#f6f3f6"/>
<rect x="286.29" y="198.70" width="6.10" height="4.73" fill="#f7c4c7"/>
<rect x="292.04" y="198.70" width="6.10" height="4.73" fill="#f7c4c7"/>
<rect x="297.79" y="198.70" width="6.10" height="4.73" fill="#6c72c0"/>
<rect x="303.55" y="198.70" width="6.10" height="4.73" fill="#b5b8e0"/>
<rect x="309.30" y="198.70" width="6.10" height="4.73" fill="#ea2229"/>
<rect x="315.06" y="198.70" width="6.10" height="4.73" fill="#f6f3f6"/>
<rect x="320.81" y="198.70" width="6.10" height="4.73" fill="#f7c4c7"/>
<rect x="326.56" y="198.70" width="6.10" height="4.73" fill="#f7c4c7"/>
<rect x="332.32" y="198.70" width="6.10" height="4.73" fill="#3a48a8"/>
<rect x="338.07" y="198.70" width="6.10" height="4.73" fill="#f6f3f6"/>
<rect x="343.83" y="198.70" width="6.10" height="4.73" fill="#f6f3f6"/>
<rect x="349.58" y="198.70" width="6.10" height="4.73" fill="#6c72c0"/>
<rect x="355.33" y="198.70" width="6.10" height="4.73" fill="#f6f3f6"/>
<rect x="361.09" y="198.70" width="6.10" height="4.73" fill="#f6f3f6"/>
<rect x="366.84" y="198.70" width="6.10" height="4.73" fill="#f7c4c7"/>
<rect x="372.60" y="198.70" width="6.10" height="4.73" fill="#ef7a80"/>
<rect x="378.35" y="198.70" width="6.10" height="4.73" fill="#b5b8e0"/>
<rect x="384.10" y="198.70" width="6.10" height="4.73" fill="#f6f3f6"/>
<rect x="389.86" y="198.70" width="6.10" height="4.73" fill="#f7c4c7"/>
<rect x="395.61" y="198.70" width="6.10" height="4.73" fill="#ea2229"/>
<rect x="401.37" y="198.70" width="6.10" height="4.73" fill="#b5b8e0"/>
<rect x="407.12" y="198.70" width="6.10" height="4.73" fill="#b5b8e0"/>
<rect x="412.87" y="198.70" width="6.10" height="4.73" fill="#b5b8e0"/>
<rect x="418.63" y="198.70" width="6.10" height="4.73" fill="#f7c4c7"/>
<rect x="424.38" y="198.70" width="6.10" height="4.73" fill="#ef7a80"/>
<rect x="430.14" y="198.70" width="6.10" height="4.73" fill="#f7c4c7"/>
<rect x="435.89" y="198.70" width="6.10" height="4.73" fill="#6c72c0"/>
<rect x="441.64" y="198.70" width="6.10" height="4.73" fill="#f6f3f6"/>
<rect x="447.40" y="198.70" width="6.10" height="4.73" fill="#3a48a8"/>
<rect x="453.15" y="198.70" width="6.10" height="4.73" fill="#6c72c0"/>
<rect x="458.91" y="198.70" width="6.10" height="4.73" fill="#f7c4c7"/>
<rect x="464.66" y="198.70" width="6.10" height="4.73" fill="#f6f3f6"/>
<rect x="234.50" y="203.09" width="6.10" height="4.73" fill="#f7c4c7"/>
<rect x="240.25" y="203.09" width="6.10" height="4.73" fill="#f6f3f6"/>
<rect x="246.01" y="203.09" width="6.10" height="4.73" fill="#f6f3f6"/>
<rect x="251.76" y="203.09" width="6.10" height="4.73" fill="#f7c4c7"/>
<rect x="257.52" y="203.09" width="6.10" height="4.73" fill="#ea2229"/>
<rect x="263.27" y="203.09" width="6.10" height="4.73" fill="#f7c4c7"/>
<rect x="269.02" y="203.09" width="6.10" height="4.73" fill="#f7c4c7"/>
<rect x="274.78" y="203.09" width="6.10" height="4.73" fill="#ea2229"/>
<rect x="280.53" y="203.09" width="6.10" height="4.73" fill="#f7c4c7"/>
<rect x="286.29" y="203.09" width="6.10" height="4.73" fill="#ef7a80"/>
<rect x="292.04" y="203.09" width="6.10" height="4.73" fill="#ef7a80"/>
<rect x="297.79" y="203.09" width="6.10" height="4.73" fill="#f7c4c7"/>
<rect x="303.55" y="203.09" width="6.10" height="4.73" fill="#b5b8e0"/>
<rect x="309.30" y="203.09" width="6.10" height="4.73" fill="#3a48a8"/>
<rect x="315.06" y="203.09" width="6.10" height="4.73" fill="#f7c4c7"/>
<rect x="320.81" y="203.09" width="6.10" height="4.73" fill="#6c72c0"/>
<rect x="326.56" y="203.09" width="6.10" height="4.73" fill="#ef7a80"/>
<rect x="332.32" y="203.09" width="6.10" height="4.73" fill="#f6f3f6"/>
<rect x="338.07" y="203.09" width="6.10" height="4.73" fill="#f7c4c7"/>
<rect x="343.83" y="203.09" width="6.10" height="4.73" fill="#3a48a8"/>
<rect x="349.58" y="203.09" width="6.10" height="4.73" fill="#b5b8e0"/>
<rect x="355.33" y="203.09" width="6.10" height="4.73" fill="#ef7a80"/>
<rect x="361.09" y="203.09" width="6.10" height="4.73" fill="#f6f3f6"/>
<rect x="366.84" y="203.09" width="6.10" height="4.73" fill="#ea2229"/>
<rect x="372.60" y="203.09" width="6.10" height="4.73" fill="#b5b8e0"/>
<rect x="378.35" y="203.09" width="6.10" height="4.73" fill="#3a48a8"/>
<rect x="384.10" y="203.09" width="6.10" height="4.73" fill="#f7c4c7"/>
<rect x="389.86" y="203.09" width="6.10" height="4.73" fill="#f6f3f6"/>
<rect x="395.61" y="203.09" width="6.10" height="4.73" fill="#3a48a8"/>
<rect x="401.37" y="203.09" width="6.10" height="4.73" fill="#6c72c0"/>
<rect x="407.12" y="203.09" width="6.10" height="4.73" fill="#ef7a80"/>
<rect x="412.87" y="203.09" width="6.10" height="4.73" fill="#6c72c0"/>
<rect x="418.63" y="203.09" width="6.10" height="4.73" fill="#b5b8e0"/>
<rect x="424.38" y="203.09" width="6.10" height="4.73" fill="#f6f3f6"/>
<rect x="430.14" y="203.09" width="6.10" height="4.73" fill="#f6f3f6"/>
<rect x="435.89" y="203.09" width="6.10" height="4.73" fill="#b5b8e0"/>
<rect x="441.64" y="203.09" width="6.10" height="4.73" fill="#b5b8e0"/>
<rect x="447.40" y="203.09" width="6.10" height="4.73" fill="#3a48a8"/>
<rect x="453.15" y="203.09" width="6.10" height="4.73" fill="#6c72c0"/>
<rect x="458.91" y="203.09" width="6.10" height="4.73" fill="#3a48a8"/>
<rect x="464.66" y="203.09" width="6.10" height="4.73" fill="#3a48a8"/>
<rect x="234.50" y="207.47" width="6.10" height="4.73" fill="#3a48a8"/>
<rect x="240.25" y="207.47" width="6.10" height="4.73" fill="#3a48a8"/>
<rect x="246.01" y="207.47" width="6.10" height="4.73" fill="#3a48a8"/>
<rect x="251.76" y="207.47" width="6.10" height="4.73" fill="#3a48a8"/>
<rect x="257.52" y="207.47" width="6.10" height="4.73" fill="#f6f3f6"/>
<rect x="263.27" y="207.47" width="6.10" height="4.73" fill="#f6f3f6"/>
<rect x="269.02" y="207.47" width="6.10" height="4.73" fill="#3a48a8"/>
<rect x="274.78" y="207.47" width="6.10" height="4.73" fill="#ef7a80"/>
<rect x="280.53" y="207.47" width="6.10" height="4.73" fill="#f7c4c7"/>
<rect x="286.29" y="207.47" width="6.10" height="4.73" fill="#f6f3f6"/>
<rect x="292.04" y="207.47" width="6.10" height="4.73" fill="#f7c4c7"/>
<rect x="297.79" y="207.47" width="6.10" height="4.73" fill="#ef7a80"/>
<rect x="303.55" y="207.47" width="6.10" height="4.73" fill="#f7c4c7"/>
<rect x="309.30" y="207.47" width="6.10" height="4.73" fill="#f6f3f6"/>
<rect x="315.06" y="207.47" width="6.10" height="4.73" fill="#f7c4c7"/>
<rect x="320.81" y="207.47" width="6.10" height="4.73" fill="#ea2229"/>
<rect x="326.56" y="207.47" width="6.10" height="4.73" fill="#ef7a80"/>
<rect x="332.32" y="207.47" width="6.10" height="4.73" fill="#f7c4c7"/>
<rect x="338.07" y="207.47" width="6.10" height="4.73" fill="#f7c4c7"/>
<rect x="343.83" y="207.47" width="6.10" height="4.73" fill="#b5b8e0"/>
<rect x="349.58" y="207.47" width="6.10" height="4.73" fill="#f6f3f6"/>
<rect x="355.33" y="207.47" width="6.10" height="4.73" fill="#f7c4c7"/>
<rect x="361.09" y="207.47" width="6.10" height="4.73" fill="#b5b8e0"/>
<rect x="366.84" y="207.47" width="6.10" height="4.73" fill="#b5b8e0"/>
<rect x="372.60" y="207.47" width="6.10" height="4.73" fill="#b5b8e0"/>
<rect x="378.35" y="207.47" width="6.10" height="4.73" fill="#f7c4c7"/>
<rect x="384.10" y="207.47" width="6.10" height="4.73" fill="#ef7a80"/>
<rect x="389.86" y="207.47" width="6.10" height="4.73" fill="#f6f3f6"/>
<rect x="395.61" y="207.47" width="6.10" height="4.73" fill="#b5b8e0"/>
<rect x="401.37" y="207.47" width="6.10" height="4.73" fill="#b5b8e0"/>
<rect x="407.12" y="207.47" width="6.10" height="4.73" fill="#f7c4c7"/>
<rect x="412.87" y="207.47" width="6.10" height="4.73" fill="#f7c4c7"/>
<rect x="418.63" y="207.47" width="6.10" height="4.73" fill="#b5b8e0"/>
<rect x="424.38" y="207.47" width="6.10" height="4.73" fill="#b5b8e0"/>
<rect x="430.14" y="207.47" width="6.10" height="4.73" fill="#b5b8e0"/>
<rect x="435.89" y="207.47" width="6.10" height="4.73" fill="#6c72c0"/>
<rect x="441.64" y="207.47" width="6.10" height="4.73" fill="#f6f3f6"/>
<rect x="447.40" y="207.47" width="6.10" height="4.73" fill="#6c72c0"/>
<rect x="453.15" y="207.47" width="6.10" height="4.73" fill="#ef7a80"/>
<rect x="458.91" y="207.47" width="6.10" height="4.73" fill="#f6f3f6"/>
<rect x="464.66" y="207.47" width="6.10" height="4.73" fill="#ea2229"/>
<rect x="234.50" y="211.86" width="6.10" height="4.73" fill="#b5b8e0"/>
<rect x="240.25" y="211.86" width="6.10" height="4.73" fill="#6c72c0"/>
<rect x="246.01" y="211.86" width="6.10" height="4.73" fill="#f6f3f6"/>
<rect x="251.76" y="211.86" width="6.10" height="4.73" fill="#b5b8e0"/>
<rect x="257.52" y="211.86" width="6.10" height="4.73" fill="#ea2229"/>
<rect x="263.27" y="211.86" width="6.10" height="4.73" fill="#ea2229"/>
<rect x="269.02" y="211.86" width="6.10" height="4.73" fill="#f7c4c7"/>
<rect x="274.78" y="211.86" width="6.10" height="4.73" fill="#f7c4c7"/>
<rect x="280.53" y="211.86" width="6.10" height="4.73" fill="#f6f3f6"/>
<rect x="286.29" y="211.86" width="6.10" height="4.73" fill="#f6f3f6"/>
<rect x="292.04" y="211.86" width="6.10" height="4.73" fill="#f7c4c7"/>
<rect x="297.79" y="211.86" width="6.10" height="4.73" fill="#f6f3f6"/>
<rect x="303.55" y="211.86" width="6.10" height="4.73" fill="#ef7a80"/>
<rect x="309.30" y="211.86" width="6.10" height="4.73" fill="#ef7a80"/>
<rect x="315.06" y="211.86" width="6.10" height="4.73" fill="#f6f3f6"/>
<rect x="320.81" y="211.86" width="6.10" height="4.73" fill="#ea2229"/>
<rect x="326.56" y="211.86" width="6.10" height="4.73" fill="#f6f3f6"/>
<rect x="332.32" y="211.86" width="6.10" height="4.73" fill="#b5b8e0"/>
<rect x="338.07" y="211.86" width="6.10" height="4.73" fill="#f6f3f6"/>
<rect x="343.83" y="211.86" width="6.10" height="4.73" fill="#f6f3f6"/>
<rect x="349.58" y="211.86" width="6.10" height="4.73" fill="#f7c4c7"/>
<rect x="355.33" y="211.86" width="6.10" height="4.73" fill="#f6f3f6"/>
<rect x="361.09" y="211.86" width="6.10" height="4.73" fill="#b5b8e0"/>
<rect x="366.84" y="211.86" width="6.10" height="4.73" fill="#b5b8e0"/>
<rect x="372.60" y="211.86" width="6.10" height="4.73" fill="#f7c4c7"/>
<rect x="378.35" y="211.86" width="6.10" height="4.73" fill="#f6f3f6"/>
<rect x="384.10" y="211.86" width="6.10" height="4.73" fill="#b5b8e0"/>
<rect x="389.86" y="211.86" width="6.10" height="4.73" fill="#f7c4c7"/>
<rect x="395.61" y="211.86" width="6.10" height="4.73" fill="#f6f3f6"/>
<rect x="401.37" y="211.86" width="6.10" height="4.73" fill="#3a48a8"/>
<rect x="407.12" y="211.86" width="6.10" height="4.73" fill="#b5b8e0"/>
<rect x="412.87" y="211.86" width="6.10" height="4.73" fill="#f6f3f6"/>
<rect x="418.63" y="211.86" width="6.10" height="4.73" fill="#b5b8e0"/>
<rect x="424.38" y="211.86" width="6.10" height="4.73" fill="#f7c4c7"/>
<rect x="430.14" y="211.86" width="6.10" height="4.73" fill="#f6f3f6"/>
<rect x="435.89" y="211.86" width="6.10" height="4.73" fill="#3a48a8"/>
<rect x="441.64" y="211.86" width="6.10" height="4.73" fill="#f6f3f6"/>
<rect x="447.40" y="211.86" width="6.10" height="4.73" fill="#3a48a8"/>
<rect x="453.15" y="211.86" width="6.10" height="4.73" fill="#b5b8e0"/>
<rect x="458.91" y="211.86" width="6.10" height="4.73" fill="#f6f3f6"/>
<rect x="464.66" y="211.86" width="6.10" height="4.73" fill="#6c72c0"/>
<rect x="234.50" y="216.25" width="6.10" height="4.73" fill="#3a48a8"/>
<rect x="240.25" y="216.25" width="6.10" height="4.73" fill="#3a48a8"/>
<rect x="246.01" y="216.25" width="6.10" height="4.73" fill="#3a48a8"/>
<rect x="251.76" y="216.25" width="6.10" height="4.73" fill="#3a48a8"/>
<rect x="257.52" y="216.25" width="6.10" height="4.73" fill="#f6f3f6"/>
<rect x="263.27" y="216.25" width="6.10" height="4.73" fill="#ea2229"/>
<rect x="269.02" y="216.25" width="6.10" height="4.73" fill="#ef7a80"/>
<rect x="274.78" y="216.25" width="6.10" height="4.73" fill="#ef7a80"/>
<rect x="280.53" y="216.25" width="6.10" height="4.73" fill="#f7c4c7"/>
<rect x="286.29" y="216.25" width="6.10" height="4.73" fill="#f7c4c7"/>
<rect x="292.04" y="216.25" width="6.10" height="4.73" fill="#b5b8e0"/>
<rect x="297.79" y="216.25" width="6.10" height="4.73" fill="#f7c4c7"/>
<rect x="303.55" y="216.25" width="6.10" height="4.73" fill="#ef7a80"/>
<rect x="309.30" y="216.25" width="6.10" height="4.73" fill="#b5b8e0"/>
<rect x="315.06" y="216.25" width="6.10" height="4.73" fill="#f6f3f6"/>
<rect x="320.81" y="216.25" width="6.10" height="4.73" fill="#ea2229"/>
<rect x="326.56" y="216.25" width="6.10" height="4.73" fill="#b5b8e0"/>
<rect x="332.32" y="216.25" width="6.10" height="4.73" fill="#f7c4c7"/>
<rect x="338.07" y="216.25" width="6.10" height="4.73" fill="#ef7a80"/>
<rect x="343.83" y="216.25" width="6.10" height="4.73" fill="#f6f3f6"/>
<rect x="349.58" y="216.25" width="6.10" height="4.73" fill="#f7c4c7"/>
<rect x="355.33" y="216.25" width="6.10" height="4.73" fill="#6c72c0"/>
<rect x="361.09" y="216.25" width="6.10" height="4.73" fill="#f6f3f6"/>
<rect x="366.84" y="216.25" width="6.10" height="4.73" fill="#f7c4c7"/>
<rect x="372.60" y="216.25" width="6.10" height="4.73" fill="#f7c4c7"/>
<rect x="378.35" y="216.25" width="6.10" height="4.73" fill="#f6f3f6"/>
<rect x="384.10" y="216.25" width="6.10" height="4.73" fill="#ea2229"/>
<rect x="389.86" y="216.25" width="6.10" height="4.73" fill="#f7c4c7"/>
<rect x="395.61" y="216.25" width="6.10" height="4.73" fill="#f6f3f6"/>
<rect x="401.37" y="216.25" width="6.10" height="4.73" fill="#3a48a8"/>
<rect x="407.12" y="216.25" width="6.10" height="4.73" fill="#6c72c0"/>
<rect x="412.87" y="216.25" width="6.10" height="4.73" fill="#f6f3f6"/>
<rect x="418.63" y="216.25" width="6.10" height="4.73" fill="#b5b8e0"/>
<rect x="424.38" y="216.25" width="6.10" height="4.73" fill="#ef7a80"/>
<rect x="430.14" y="216.25" width="6.10" height="4.73" fill="#6c72c0"/>
<rect x="435.89" y="216.25" width="6.10" height="4.73" fill="#b5b8e0"/>
<rect x="441.64" y="216.25" width="6.10" height="4.73" fill="#ef7a80"/>
<rect x="447.40" y="216.25" width="6.10" height="4.73" fill="#f7c4c7"/>
<rect x="453.15" y="216.25" width="6.10" height="4.73" fill="#f7c4c7"/>
<rect x="458.91" y="216.25" width="6.10" height="4.73" fill="#b5b8e0"/>
<rect x="464.66" y="216.25" width="6.10" height="4.73" fill="#f7c4c7"/>
<rect x="234.50" y="220.63" width="6.10" height="4.73" fill="#3a48a8"/>
<rect x="240.25" y="220.63" width="6.10" height="4.73" fill="#3a48a8"/>
<rect x="246.01" y="220.63" width="6.10" height="4.73" fill="#3a48a8"/>
<rect x="251.76" y="220.63" width="6.10" height="4.73" fill="#3a48a8"/>
<rect x="257.52" y="220.63" width="6.10" height="4.73" fill="#ef7a80"/>
<rect x="263.27" y="220.63" width="6.10" height="4.73" fill="#f7c4c7"/>
<rect x="269.02" y="220.63" width="6.10" height="4.73" fill="#ef7a80"/>
<rect x="274.78" y="220.63" width="6.10" height="4.73" fill="#ea2229"/>
<rect x="280.53" y="220.63" width="6.10" height="4.73" fill="#f7c4c7"/>
<rect x="286.29" y="220.63" width="6.10" height="4.73" fill="#f7c4c7"/>
<rect x="292.04" y="220.63" width="6.10" height="4.73" fill="#f6f3f6"/>
<rect x="297.79" y="220.63" width="6.10" height="4.73" fill="#b5b8e0"/>
<rect x="303.55" y="220.63" width="6.10" height="4.73" fill="#f7c4c7"/>
<rect x="309.30" y="220.63" width="6.10" height="4.73" fill="#f7c4c7"/>
<rect x="315.06" y="220.63" width="6.10" height="4.73" fill="#b5b8e0"/>
<rect x="320.81" y="220.63" width="6.10" height="4.73" fill="#f7c4c7"/>
<rect x="326.56" y="220.63" width="6.10" height="4.73" fill="#f6f3f6"/>
<rect x="332.32" y="220.63" width="6.10" height="4.73" fill="#f7c4c7"/>
<rect x="338.07" y="220.63" width="6.10" height="4.73" fill="#ef7a80"/>
<rect x="343.83" y="220.63" width="6.10" height="4.73" fill="#f6f3f6"/>
<rect x="349.58" y="220.63" width="6.10" height="4.73" fill="#f7c4c7"/>
<rect x="355.33" y="220.63" width="6.10" height="4.73" fill="#f6f3f6"/>
<rect x="361.09" y="220.63" width="6.10" height="4.73" fill="#f6f3f6"/>
<rect x="366.84" y="220.63" width="6.10" height="4.73" fill="#b5b8e0"/>
<rect x="372.60" y="220.63" width="6.10" height="4.73" fill="#ea2229"/>
<rect x="378.35" y="220.63" width="6.10" height="4.73" fill="#f6f3f6"/>
<rect x="384.10" y="220.63" width="6.10" height="4.73" fill="#b5b8e0"/>
<rect x="389.86" y="220.63" width="6.10" height="4.73" fill="#f6f3f6"/>
<rect x="395.61" y="220.63" width="6.10" height="4.73" fill="#6c72c0"/>
<rect x="401.37" y="220.63" width="6.10" height="4.73" fill="#6c72c0"/>
<rect x="407.12" y="220.63" width="6.10" height="4.73" fill="#f6f3f6"/>
<rect x="412.87" y="220.63" width="6.10" height="4.73" fill="#b5b8e0"/>
<rect x="418.63" y="220.63" width="6.10" height="4.73" fill="#3a48a8"/>
<rect x="424.38" y="220.63" width="6.10" height="4.73" fill="#ef7a80"/>
<rect x="430.14" y="220.63" width="6.10" height="4.73" fill="#ea2229"/>
<rect x="435.89" y="220.63" width="6.10" height="4.73" fill="#b5b8e0"/>
<rect x="441.64" y="220.63" width="6.10" height="4.73" fill="#ef7a80"/>
<rect x="447.40" y="220.63" width="6.10" height="4.73" fill="#b5b8e0"/>
<rect x="453.15" y="220.63" width="6.10" height="4.73" fill="#6c72c0"/>
<rect x="458.91" y="220.63" width="6.10" height="4.73" fill="#b5b8e0"/>
<rect x="464.66" y="220.63" width="6.10" height="4.73" fill="#f6f3f6"/>
<rect x="234.50" y="225.01" width="6.10" height="4.73" fill="#f7c4c7"/>
<rect x="240.25" y="225.01" width="6.10" height="4.73" fill="#ea2229"/>
<rect x="246.01" y="225.01" width="6.10" height="4.73" fill="#f7c4c7"/>
<rect x="251.76" y="225.01" width="6.10" height="4.73" fill="#f7c4c7"/>
<rect x="257.52" y="225.01" width="6.10" height="4.73" fill="#ea2229"/>
<rect x="263.27" y="225.01" width="6.10" height="4.73" fill="#ea2229"/>
<rect x="269.02" y="225.01" width="6.10" height="4.73" fill="#3a48a8"/>
<rect x="274.78" y="225.01" width="6.10" height="4.73" fill="#f6f3f6"/>
<rect x="280.53" y="225.01" width="6.10" height="4.73" fill="#f6f3f6"/>
<rect x="286.29" y="225.01" width="6.10" height="4.73" fill="#f6f3f6"/>
<rect x="292.04" y="225.01" width="6.10" height="4.73" fill="#f6f3f6"/>
<rect x="297.79" y="225.01" width="6.10" height="4.73" fill="#b5b8e0"/>
<rect x="303.55" y="225.01" width="6.10" height="4.73" fill="#f6f3f6"/>
<rect x="309.30" y="225.01" width="6.10" height="4.73" fill="#f6f3f6"/>
<rect x="315.06" y="225.01" width="6.10" height="4.73" fill="#f6f3f6"/>
<rect x="320.81" y="225.01" width="6.10" height="4.73" fill="#f7c4c7"/>
<rect x="326.56" y="225.01" width="6.10" height="4.73" fill="#f6f3f6"/>
<rect x="332.32" y="225.01" width="6.10" height="4.73" fill="#f6f3f6"/>
<rect x="338.07" y="225.01" width="6.10" height="4.73" fill="#b5b8e0"/>
<rect x="343.83" y="225.01" width="6.10" height="4.73" fill="#f6f3f6"/>
<rect x="349.58" y="225.01" width="6.10" height="4.73" fill="#f6f3f6"/>
<rect x="355.33" y="225.01" width="6.10" height="4.73" fill="#b5b8e0"/>
<rect x="361.09" y="225.01" width="6.10" height="4.73" fill="#b5b8e0"/>
<rect x="366.84" y="225.01" width="6.10" height="4.73" fill="#f6f3f6"/>
<rect x="372.60" y="225.01" width="6.10" height="4.73" fill="#f6f3f6"/>
<rect x="378.35" y="225.01" width="6.10" height="4.73" fill="#f6f3f6"/>
<rect x="384.10" y="225.01" width="6.10" height="4.73" fill="#b5b8e0"/>
<rect x="389.86" y="225.01" width="6.10" height="4.73" fill="#b5b8e0"/>
<rect x="395.61" y="225.01" width="6.10" height="4.73" fill="#f6f3f6"/>
<rect x="401.37" y="225.01" width="6.10" height="4.73" fill="#6c72c0"/>
<rect x="407.12" y="225.01" width="6.10" height="4.73" fill="#b5b8e0"/>
<rect x="412.87" y="225.01" width="6.10" height="4.73" fill="#b5b8e0"/>
<rect x="418.63" y="225.01" width="6.10" height="4.73" fill="#b5b8e0"/>
<rect x="424.38" y="225.01" width="6.10" height="4.73" fill="#b5b8e0"/>
<rect x="430.14" y="225.01" width="6.10" height="4.73" fill="#3a48a8"/>
<rect x="435.89" y="225.01" width="6.10" height="4.73" fill="#f6f3f6"/>
<rect x="441.64" y="225.01" width="6.10" height="4.73" fill="#f6f3f6"/>
<rect x="447.40" y="225.01" width="6.10" height="4.73" fill="#6c72c0"/>
<rect x="453.15" y="225.01" width="6.10" height="4.73" fill="#b5b8e0"/>
<rect x="458.91" y="225.01" width="6.10" height="4.73" fill="#b5b8e0"/>
<rect x="464.66" y="225.01" width="6.10" height="4.73" fill="#3a48a8"/>
<rect x="234.50" y="229.40" width="6.10" height="4.73" fill="#3a48a8"/>
<rect x="240.25" y="229.40" width="6.10" height="4.73" fill="#b5b8e0"/>
<rect x="246.01" y="229.40" width="6.10" height="4.73" fill="#3a48a8"/>
<rect x="251.76" y="229.40" width="6.10" height="4.73" fill="#3a48a8"/>
<rect x="257.52" y="229.40" width="6.10" height="4.73" fill="#ef7a80"/>
<rect x="263.27" y="229.40" width="6.10" height="4.73" fill="#ea2229"/>
<rect x="269.02" y="229.40" width="6.10" height="4.73" fill="#ef7a80"/>
<rect x="274.78" y="229.40" width="6.10" height="4.73" fill="#ef7a80"/>
<rect x="280.53" y="229.40" width="6.10" height="4.73" fill="#f7c4c7"/>
<rect x="286.29" y="229.40" width="6.10" height="4.73" fill="#f7c4c7"/>
<rect x="292.04" y="229.40" width="6.10" height="4.73" fill="#f7c4c7"/>
<rect x="297.79" y="229.40" width="6.10" height="4.73" fill="#f6f3f6"/>
<rect x="303.55" y="229.40" width="6.10" height="4.73" fill="#ef7a80"/>
<rect x="309.30" y="229.40" width="6.10" height="4.73" fill="#f7c4c7"/>
<rect x="315.06" y="229.40" width="6.10" height="4.73" fill="#f7c4c7"/>
<rect x="320.81" y="229.40" width="6.10" height="4.73" fill="#ea2229"/>
<rect x="326.56" y="229.40" width="6.10" height="4.73" fill="#f6f3f6"/>
<rect x="332.32" y="229.40" width="6.10" height="4.73" fill="#ef7a80"/>
<rect x="338.07" y="229.40" width="6.10" height="4.73" fill="#3a48a8"/>
<rect x="343.83" y="229.40" width="6.10" height="4.73" fill="#f6f3f6"/>
<rect x="349.58" y="229.40" width="6.10" height="4.73" fill="#f6f3f6"/>
<rect x="355.33" y="229.40" width="6.10" height="4.73" fill="#3a48a8"/>
<rect x="361.09" y="229.40" width="6.10" height="4.73" fill="#b5b8e0"/>
<rect x="366.84" y="229.40" width="6.10" height="4.73" fill="#6c72c0"/>
<rect x="372.60" y="229.40" width="6.10" height="4.73" fill="#b5b8e0"/>
<rect x="378.35" y="229.40" width="6.10" height="4.73" fill="#f6f3f6"/>
<rect x="384.10" y="229.40" width="6.10" height="4.73" fill="#ea2229"/>
<rect x="389.86" y="229.40" width="6.10" height="4.73" fill="#6c72c0"/>
<rect x="395.61" y="229.40" width="6.10" height="4.73" fill="#f7c4c7"/>
<rect x="401.37" y="229.40" width="6.10" height="4.73" fill="#3a48a8"/>
<rect x="407.12" y="229.40" width="6.10" height="4.73" fill="#6c72c0"/>
<rect x="412.87" y="229.40" width="6.10" height="4.73" fill="#f6f3f6"/>
<rect x="418.63" y="229.40" width="6.10" height="4.73" fill="#6c72c0"/>
<rect x="424.38" y="229.40" width="6.10" height="4.73" fill="#f7c4c7"/>
<rect x="430.14" y="229.40" width="6.10" height="4.73" fill="#3a48a8"/>
<rect x="435.89" y="229.40" width="6.10" height="4.73" fill="#f7c4c7"/>
<rect x="441.64" y="229.40" width="6.10" height="4.73" fill="#6c72c0"/>
<rect x="447.40" y="229.40" width="6.10" height="4.73" fill="#3a48a8"/>
<rect x="453.15" y="229.40" width="6.10" height="4.73" fill="#f7c4c7"/>
<rect x="458.91" y="229.40" width="6.10" height="4.73" fill="#b5b8e0"/>
<rect x="464.66" y="229.40" width="6.10" height="4.73" fill="#f7c4c7"/>
<rect x="234.50" y="233.78" width="6.10" height="4.73" fill="#3a48a8"/>
<rect x="240.25" y="233.78" width="6.10" height="4.73" fill="#3a48a8"/>
<rect x="246.01" y="233.78" width="6.10" height="4.73" fill="#3a48a8"/>
<rect x="251.76" y="233.78" width="6.10" height="4.73" fill="#3a48a8"/>
<rect x="257.52" y="233.78" width="6.10" height="4.73" fill="#f7c4c7"/>
<rect x="263.27" y="233.78" width="6.10" height="4.73" fill="#ea2229"/>
<rect x="269.02" y="233.78" width="6.10" height="4.73" fill="#f7c4c7"/>
<rect x="274.78" y="233.78" width="6.10" height="4.73" fill="#6c72c0"/>
<rect x="280.53" y="233.78" width="6.10" height="4.73" fill="#f6f3f6"/>
<rect x="286.29" y="233.78" width="6.10" height="4.73" fill="#f6f3f6"/>
<rect x="292.04" y="233.78" width="6.10" height="4.73" fill="#f7c4c7"/>
<rect x="297.79" y="233.78" width="6.10" height="4.73" fill="#f6f3f6"/>
<rect x="303.55" y="233.78" width="6.10" height="4.73" fill="#ef7a80"/>
<rect x="309.30" y="233.78" width="6.10" height="4.73" fill="#f7c4c7"/>
<rect x="315.06" y="233.78" width="6.10" height="4.73" fill="#f6f3f6"/>
<rect x="320.81" y="233.78" width="6.10" height="4.73" fill="#f7c4c7"/>
<rect x="326.56" y="233.78" width="6.10" height="4.73" fill="#f6f3f6"/>
<rect x="332.32" y="233.78" width="6.10" height="4.73" fill="#f7c4c7"/>
<rect x="338.07" y="233.78" width="6.10" height="4.73" fill="#f7c4c7"/>
<rect x="343.83" y="233.78" width="6.10" height="4.73" fill="#f6f3f6"/>
<rect x="349.58" y="233.78" width="6.10" height="4.73" fill="#f7c4c7"/>
<rect x="355.33" y="233.78" width="6.10" height="4.73" fill="#f7c4c7"/>
<rect x="361.09" y="233.78" width="6.10" height="4.73" fill="#f6f3f6"/>
<rect x="366.84" y="233.78" width="6.10" height="4.73" fill="#f7c4c7"/>
<rect x="372.60" y="233.78" width="6.10" height="4.73" fill="#f6f3f6"/>
<rect x="378.35" y="233.78" width="6.10" height="4.73" fill="#f6f3f6"/>
<rect x="384.10" y="233.78" width="6.10" height="4.73" fill="#f7c4c7"/>
<rect x="389.86" y="233.78" width="6.10" height="4.73" fill="#f6f3f6"/>
<rect x="395.61" y="233.78" width="6.10" height="4.73" fill="#ea2229"/>
<rect x="401.37" y="233.78" width="6.10" height="4.73" fill="#b5b8e0"/>
<rect x="407.12" y="233.78" width="6.10" height="4.73" fill="#b5b8e0"/>
<rect x="412.87" y="233.78" width="6.10" height="4.73" fill="#ea2229"/>
<rect x="418.63" y="233.78" width="6.10" height="4.73" fill="#f6f3f6"/>
<rect x="424.38" y="233.78" width="6.10" height="4.73" fill="#f6f3f6"/>
<rect x="430.14" y="233.78" width="6.10" height="4.73" fill="#ea2229"/>
<rect x="435.89" y="233.78" width="6.10" height="4.73" fill="#6c72c0"/>
<rect x="441.64" y="233.78" width="6.10" height="4.73" fill="#3a48a8"/>
<rect x="447.40" y="233.78" width="6.10" height="4.73" fill="#b5b8e0"/>
<rect x="453.15" y="233.78" width="6.10" height="4.73" fill="#f6f3f6"/>
<rect x="458.91" y="233.78" width="6.10" height="4.73" fill="#f7c4c7"/>
<rect x="464.66" y="233.78" width="6.10" height="4.73" fill="#f6f3f6"/>
<text x="475.2" y="57.59" font-size="4.0" font-weight="normal" font-style="normal" fill="#262626" text-anchor="start" letter-spacing="0.4">CA8</text>
<text x="475.2" y="61.98" font-size="4.0" font-weight="normal" font-style="normal" fill="#262626" text-anchor="start" letter-spacing="0.4">RHOC</text>
<text x="475.2" y="66.36" font-size="4.0" font-weight="normal" font-style="normal" fill="#262626" text-anchor="start" letter-spacing="0.4">CRIG8</text>
<text x="475.2" y="70.75" font-size="4.0" font-weight="normal" font-style="normal" fill="#262626" text-anchor="start" letter-spacing="0.4">CD200</text>
<text x="475.2" y="75.13" font-size="4.0" font-weight="normal" font-style="normal" fill="#262626" text-anchor="start" letter-spacing="0.4">C1orf148</text>
<text x="475.2" y="79.52" font-size="4.0" font-weight="normal" font-style="normal" fill="#262626" text-anchor="start" letter-spacing="0.4">PTPN13</text>
<text x="475.2" y="83.9" font-size="4.0" font-weight="normal" font-style="normal" fill="#262626" text-anchor="start" letter-spacing="0.4">POU2AF1</text>
<text x="475.2" y="88.29" font-size="4.0" font-weight="normal" font-style="normal" fill="#262626" text-anchor="start" letter-spacing="0.4">KIAA1324</text>
<text x="475.2" y="92.67" font-size="4.0" font-weight="normal" font-style="normal" fill="#262626" text-anchor="start" letter-spacing="0.4">FLJ37440</text>
<text x="475.2" y="97.06" font-size="4.0" font-weight="normal" font-style="normal" fill="#262626" text-anchor="start" letter-spacing="0.4">C17orf</text>
<text x="475.2" y="101.44" font-size="4.0" font-weight="normal" font-style="normal" fill="#262626" text-anchor="start" letter-spacing="0.4">CHRPF2</text>
<text x="475.2" y="105.83" font-size="4.0" font-weight="normal" font-style="normal" fill="#262626" text-anchor="start" letter-spacing="0.4">SH3RF2</text>
<text x="475.2" y="110.21" font-size="4.0" font-weight="normal" font-style="normal" fill="#262626" text-anchor="start" letter-spacing="0.4">C1QL1</text>
<text x="475.2" y="114.6" font-size="4.0" font-weight="normal" font-style="normal" fill="#262626" text-anchor="start" letter-spacing="0.4">STRIGA1</text>
<text x="475.2" y="118.98" font-size="4.0" font-weight="normal" font-style="normal" fill="#262626" text-anchor="start" letter-spacing="0.4">NMPF2</text>
<text x="475.2" y="123.37" font-size="4.0" font-weight="normal" font-style="normal" fill="#262626" text-anchor="start" letter-spacing="0.4">CNPF1</text>
<text x="475.2" y="127.75" font-size="4.0" font-weight="normal" font-style="normal" fill="#262626" text-anchor="start" letter-spacing="0.4">CD3EP1</text>
<text x="475.2" y="132.14" font-size="4.0" font-weight="normal" font-style="normal" fill="#262626" text-anchor="start" letter-spacing="0.4">CHRNB4</text>
<text x="475.2" y="136.52" font-size="4.0" font-weight="normal" font-style="normal" fill="#262626" text-anchor="start" letter-spacing="0.4">KCNE2</text>
<text x="475.2" y="140.91" font-size="4.0" font-weight="normal" font-style="normal" fill="#262626" text-anchor="start" letter-spacing="0.4">PDCD1</text>
<text x="475.2" y="145.29" font-size="4.0" font-weight="normal" font-style="normal" fill="#262626" text-anchor="start" letter-spacing="0.4">ME1</text>
<text x="475.2" y="149.68" font-size="4.0" font-weight="normal" font-style="normal" fill="#262626" text-anchor="start" letter-spacing="0.4">SNOT1</text>
<text x="475.2" y="154.06" font-size="4.0" font-weight="normal" font-style="normal" fill="#262626" text-anchor="start" letter-spacing="0.4">BCL6</text>
<text x="475.2" y="158.45" font-size="4.0" font-weight="normal" font-style="normal" fill="#262626" text-anchor="start" letter-spacing="0.4">TOX</text>
<text x="475.2" y="162.83" font-size="4.0" font-weight="normal" font-style="normal" fill="#262626" text-anchor="start" letter-spacing="0.4">IGS</text>
<text x="475.2" y="167.22" font-size="4.0" font-weight="normal" font-style="normal" fill="#262626" text-anchor="start" letter-spacing="0.4">RCA1</text>
<text x="475.2" y="171.6" font-size="4.0" font-weight="normal" font-style="normal" fill="#262626" text-anchor="start" letter-spacing="0.4">GLCCI1</text>
<text x="475.2" y="175.99" font-size="4.0" font-weight="normal" font-style="normal" fill="#262626" text-anchor="start" letter-spacing="0.4">DUSP1</text>
<text x="475.2" y="180.37" font-size="4.0" font-weight="normal" font-style="normal" fill="#262626" text-anchor="start" letter-spacing="0.4">CXCL5</text>
<text x="475.2" y="184.76" font-size="4.0" font-weight="normal" font-style="normal" fill="#262626" text-anchor="start" letter-spacing="0.4">CEBPA</text>
<text x="475.2" y="189.14" font-size="4.0" font-weight="normal" font-style="normal" fill="#262626" text-anchor="start" letter-spacing="0.4">BLP1</text>
<text x="475.2" y="193.53" font-size="4.0" font-weight="normal" font-style="normal" fill="#262626" text-anchor="start" letter-spacing="0.4">BTLA</text>
<text x="475.2" y="197.91" font-size="4.0" font-weight="normal" font-style="normal" fill="#262626" text-anchor="start" letter-spacing="0.4">PLEKHG1</text>
<text x="475.2" y="202.3" font-size="4.0" font-weight="normal" font-style="normal" fill="#262626" text-anchor="start" letter-spacing="0.4">ILACT</text>
<text x="475.2" y="206.68" font-size="4.0" font-weight="normal" font-style="normal" fill="#262626" text-anchor="start" letter-spacing="0.4">GRAP</text>
<text x="475.2" y="211.07" font-size="4.0" font-weight="normal" font-style="normal" fill="#262626" text-anchor="start" letter-spacing="0.4">FRMD4A</text>
<text x="475.2" y="215.45" font-size="4.0" font-weight="normal" font-style="normal" fill="#262626" text-anchor="start" letter-spacing="0.4">TBC1D4</text>
<text x="475.2" y="219.84" font-size="4.0" font-weight="normal" font-style="normal" fill="#262626" text-anchor="start" letter-spacing="0.4">PGS2</text>
<text x="475.2" y="224.22" font-size="4.0" font-weight="normal" font-style="normal" fill="#262626" text-anchor="start" letter-spacing="0.4">MYO6</text>
<text x="475.2" y="228.61" font-size="4.0" font-weight="normal" font-style="normal" fill="#262626" text-anchor="start" letter-spacing="0.4">FAM43A</text>
<text x="475.2" y="232.99" font-size="4.0" font-weight="normal" font-style="normal" fill="#262626" text-anchor="start" letter-spacing="0.4">PGS</text>
<text x="475.2" y="237.38" font-size="4.0" font-weight="normal" font-style="normal" fill="#262626" text-anchor="start" letter-spacing="0.4">CXCL2</text>
<line x1="508.4" y1="52.8" x2="508.4" y2="230" stroke="#000" stroke-width="1.7"/>
<polygon points="504.2,228.3 512.8,228.3 508.5,237.2" fill="#000"/>
<text transform="translate(510.8,106.3) rotate(90)" x="0" y="0" font-size="8.85" font-weight="bold" font-style="italic" fill="#000" textLength="74.5" lengthAdjust="spacingAndGlyphs">Rank in Gene List</text>
<rect x="235" y="244" width="13.05" height="5" fill="#343f9e"/>
<text x="241.0" y="253.7" font-size="4.1" font-weight="bold" font-style="normal" fill="#444" text-anchor="middle">-2.0</text>
<rect x="248" y="244" width="13.05" height="5" fill="#3744a6"/>
<text x="254.0" y="253.7" font-size="4.1" font-weight="bold" font-style="normal" fill="#444" text-anchor="middle">-1.8</text>
<rect x="261" y="244" width="13.05" height="5" fill="#3d49aa"/>
<text x="267.0" y="253.7" font-size="4.1" font-weight="bold" font-style="normal" fill="#444" text-anchor="middle">-1.5</text>
<rect x="274" y="244" width="13.05" height="5" fill="#4450ae"/>
<text x="280.0" y="253.7" font-size="4.1" font-weight="bold" font-style="normal" fill="#444" text-anchor="middle">-1.3</text>
<rect x="287" y="244" width="13.05" height="5" fill="#5a5fb8"/>
<text x="293.0" y="253.7" font-size="4.1" font-weight="bold" font-style="normal" fill="#444" text-anchor="middle">-1.1</text>
<rect x="300" y="244" width="13.05" height="5" fill="#8386c8"/>
<text x="306.0" y="253.7" font-size="4.1" font-weight="bold" font-style="normal" fill="#444" text-anchor="middle">-0.8</text>
<rect x="313" y="244" width="13.05" height="5" fill="#a2a4d6"/>
<text x="319.0" y="253.7" font-size="4.1" font-weight="bold" font-style="normal" fill="#444" text-anchor="middle">-0.6</text>
<rect x="326" y="244" width="13.05" height="5" fill="#c5c6e6"/>
<text x="332.0" y="253.7" font-size="4.1" font-weight="bold" font-style="normal" fill="#444" text-anchor="middle">-0.4</text>
<rect x="339" y="244" width="13.05" height="5" fill="#ececf6"/>
<text x="345.0" y="253.7" font-size="4.1" font-weight="bold" font-style="normal" fill="#444" text-anchor="middle">-0.1</text>
<rect x="352" y="244" width="13.05" height="5" fill="#fbf0f1"/>
<text x="358.0" y="253.7" font-size="4.1" font-weight="bold" font-style="normal" fill="#444" text-anchor="middle">0.1</text>
<rect x="365" y="244" width="13.05" height="5" fill="#fbd2d4"/>
<text x="371.0" y="253.7" font-size="4.1" font-weight="bold" font-style="normal" fill="#444" text-anchor="middle">0.4</text>
<rect x="378" y="244" width="13.05" height="5" fill="#f7b9bc"/>
<text x="384.0" y="253.7" font-size="4.1" font-weight="bold" font-style="normal" fill="#444" text-anchor="middle">0.6</text>
<rect x="391" y="244" width="13.05" height="5" fill="#f5a5a9"/>
<text x="397.0" y="253.7" font-size="4.1" font-weight="bold" font-style="normal" fill="#444" text-anchor="middle">0.8</text>
<rect x="404" y="244" width="13.05" height="5" fill="#f28a8f"/>
<text x="410.0" y="253.7" font-size="4.1" font-weight="bold" font-style="normal" fill="#444" text-anchor="middle">1.1</text>
<rect x="417" y="244" width="13.05" height="5" fill="#ef6a70"/>
<text x="423.0" y="253.7" font-size="4.1" font-weight="bold" font-style="normal" fill="#444" text-anchor="middle">1.3</text>
<rect x="430" y="244" width="13.05" height="5" fill="#ec4046"/>
<text x="436.0" y="253.7" font-size="4.1" font-weight="bold" font-style="normal" fill="#444" text-anchor="middle">1.5</text>
<rect x="443" y="244" width="13.05" height="5" fill="#e8343a"/>
<text x="449.0" y="253.7" font-size="4.1" font-weight="bold" font-style="normal" fill="#444" text-anchor="middle">1.8</text>
<rect x="456" y="244" width="13.05" height="5" fill="#e41e26"/>
<text x="462.0" y="253.7" font-size="4.1" font-weight="bold" font-style="normal" fill="#444" text-anchor="middle">2.0</text>
</svg></body></html>
